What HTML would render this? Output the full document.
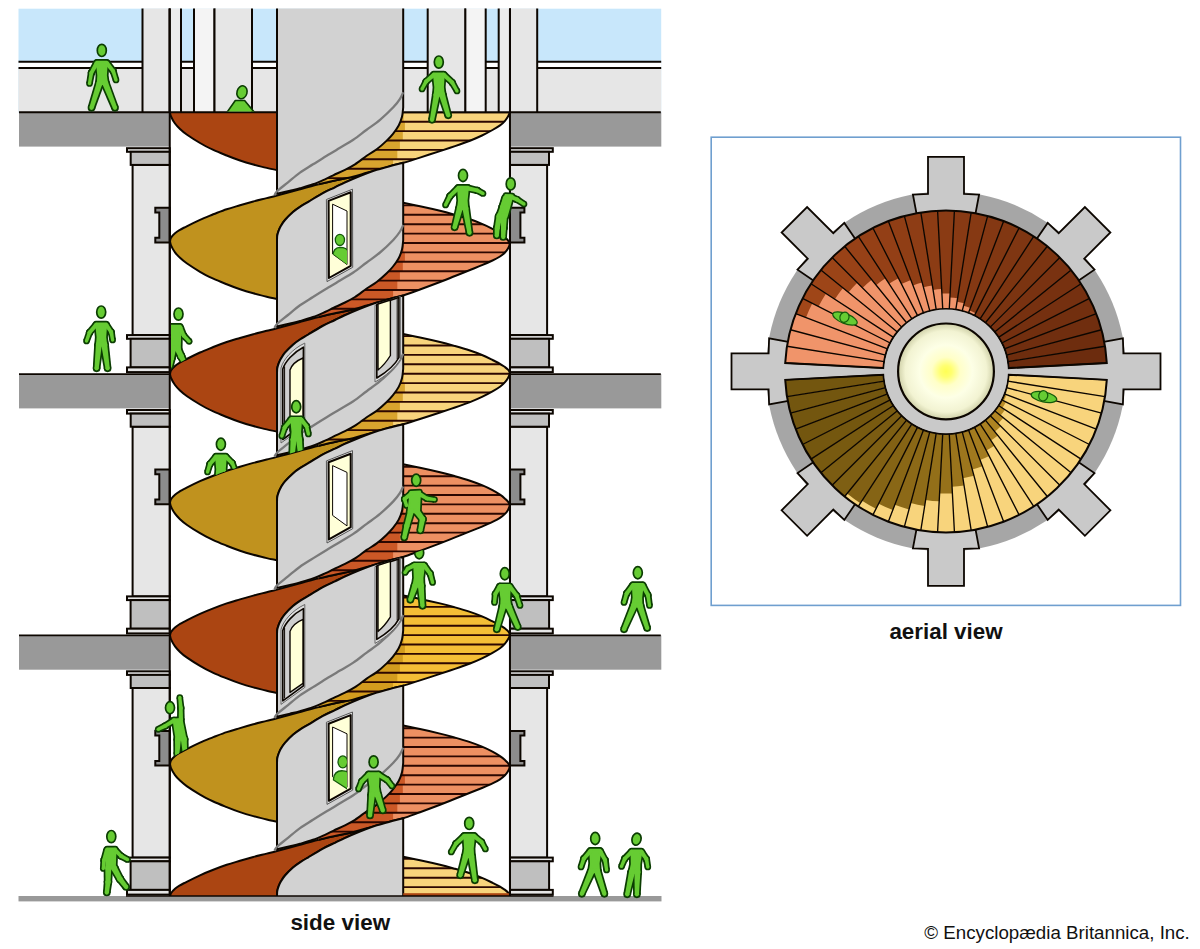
<!DOCTYPE html>
<html><head><meta charset="utf-8"><title>Double helix ramp</title><style>html,body{margin:0;padding:0;background:#fff}svg{display:block}</style></head><body>
<svg width="1200" height="949" viewBox="0 0 1200 949">
<defs>
<clipPath id="sv"><rect x="18" y="112.5" width="645" height="783.5"/></clipPath>
<radialGradient id="glow" cx="50%" cy="50%" r="50%"><stop offset="0" stop-color="#ffff55"/><stop offset="0.12" stop-color="#ffff70"/><stop offset="0.3" stop-color="#ffffc8"/><stop offset="0.55" stop-color="#fdffe6"/><stop offset="0.85" stop-color="#f2f3d2"/><stop offset="1" stop-color="#cfd0a8"/></radialGradient>
</defs>
<rect width="1200" height="949" fill="#fff"/>
<rect x="18.5" y="8.7" width="642.7" height="104" fill="#c8e7fb"/>
<rect x="18.5" y="68" width="642.7" height="44.5" fill="#e6e6e6"/>
<rect x="18.5" y="61.8" width="642.7" height="6.2" fill="#fff"/>
<path d="M18.5,61.8H661.2M18.5,68H661.2" stroke="#0c0600" stroke-width="2" fill="none"/>
<rect x="142.5" y="8.5" width="27.2" height="104" fill="#e6e6e6"/>
<path d="M142.5,8.5V112.5M169.7,8.5V112.5" stroke="#0c0600" stroke-width="2" fill="none"/>
<rect x="510.0" y="8.5" width="27.2" height="104" fill="#e6e6e6"/>
<path d="M510.0,8.5V112.5M537.2,8.5V112.5" stroke="#0c0600" stroke-width="2" fill="none"/>
<rect x="169.7" y="8.5" width="11.3" height="104" fill="#ececec"/>
<path d="M169.7,8.5V112.5M181.0,8.5V112.5" stroke="#0c0600" stroke-width="2" fill="none"/>
<rect x="498.7" y="8.5" width="11.3" height="104" fill="#ececec"/>
<path d="M498.7,8.5V112.5M510.0,8.5V112.5" stroke="#0c0600" stroke-width="2" fill="none"/>
<rect x="194.0" y="8.5" width="20.5" height="104" fill="#f4f4f4"/>
<path d="M194.0,8.5V112.5M214.5,8.5V112.5" stroke="#0c0600" stroke-width="2" fill="none"/>
<rect x="465.2" y="8.5" width="20.5" height="104" fill="#f4f4f4"/>
<path d="M465.2,8.5V112.5M485.7,8.5V112.5" stroke="#0c0600" stroke-width="2" fill="none"/>
<rect x="214.5" y="8.5" width="37.5" height="104" fill="#e6e6e6"/>
<path d="M214.5,8.5V112.5M252.0,8.5V112.5" stroke="#0c0600" stroke-width="2" fill="none"/>
<rect x="427.7" y="8.5" width="37.5" height="104" fill="#e6e6e6"/>
<path d="M427.7,8.5V112.5M465.2,8.5V112.5" stroke="#0c0600" stroke-width="2" fill="none"/>
<g clip-path="url(#sv)">
<path d="M170.0,112.5 C170.2,111.9 170.2,110.3 171.0,109.0 C171.8,107.7 173.5,105.8 175.0,104.5 C176.5,103.2 178.1,102.2 180.0,101.0 C181.9,99.8 183.4,99.2 186.7,97.5 C190.0,95.8 195.6,93.0 200.0,91.0 C204.4,89.0 208.9,87.2 213.3,85.5 C217.8,83.8 222.2,82.0 226.7,80.5 C231.1,79.0 235.6,77.8 240.0,76.5 C244.4,75.2 248.9,73.9 253.3,72.7 C257.8,71.5 262.8,70.3 266.7,69.3 C270.6,68.3 271.4,68.2 277.0,66.7 C282.6,65.2 293.1,62.4 300.0,60.5 C306.9,58.6 312.7,57.0 318.7,55.5 C324.7,54.0 330.3,52.8 336.0,51.5 C341.7,50.2 350.2,48.6 353.0,48.0 L359.3,47.5 C356.8,48.6 348.2,52.2 344.2,54.0 C340.1,55.8 338.6,56.8 335.0,58.5 C331.4,60.2 326.9,62.1 322.5,64.5 C318.1,66.9 312.1,70.8 308.4,73.0 C304.6,75.2 302.6,76.3 300.0,78.0 C297.4,79.7 295.5,81.0 293.0,83.2 C290.5,85.4 287.0,88.9 285.0,91.2 C283.0,93.5 282.1,95.2 281.0,97.0 C279.9,98.8 279.3,100.3 278.7,101.9 C278.1,103.5 277.6,105.0 277.3,106.5 C277.0,108.0 277.1,110.4 277.0,111.2 L277.0,170.1 L277.0,170.1 C275.3,169.7 270.6,168.8 266.7,167.9 C262.8,167.0 257.8,165.7 253.3,164.5 C248.9,163.3 244.4,162.0 240.0,160.5 C235.6,159.0 231.1,157.3 226.7,155.5 C222.2,153.7 217.8,152.0 213.3,149.9 C208.9,147.8 204.4,145.6 200.0,143.0 C195.6,140.4 190.0,136.8 186.7,134.5 C183.4,132.2 181.9,130.8 180.0,129.0 C178.1,127.2 176.5,125.6 175.0,123.5 C173.5,121.4 171.8,118.3 171.0,116.5 C170.2,114.7 170.2,113.2 170.0,112.5Z" fill="#ab4512" stroke="#0c0600" stroke-width="2" stroke-linejoin="round"/>
<clipPath id="cred112"><path d="M403.2,-58.7 C406.0,-58.1 413.9,-56.5 420.0,-55.2 C426.1,-53.9 434.2,-52.1 440.0,-50.7 C445.8,-49.3 450.0,-48.1 455.0,-46.7 C460.0,-45.3 465.5,-43.7 470.0,-42.2 C474.5,-40.7 478.2,-39.3 482.0,-37.7 C485.8,-36.1 489.5,-34.3 492.5,-32.7 C495.5,-31.1 497.9,-29.6 500.0,-28.2 C502.1,-26.8 503.7,-25.4 505.0,-24.2 C506.3,-23.0 507.2,-22.2 508.0,-21.2 C508.8,-20.2 509.5,-18.7 509.8,-18.2 L509.8,-18.5 C509.7,-18.1 509.7,-16.9 509.4,-16.0 C509.1,-15.1 508.7,-14.2 508.0,-13.0 C507.3,-11.8 506.3,-10.3 505.0,-9.0 C503.7,-7.7 502.1,-6.3 500.0,-5.0 C497.9,-3.7 495.5,-2.5 492.5,-1.0 C489.5,0.5 485.8,2.1 482.0,3.7 C478.2,5.3 474.5,6.7 470.0,8.5 C465.5,10.3 460.0,12.5 455.0,14.5 C450.0,16.5 445.8,18.2 440.0,20.5 C434.2,22.8 426.1,25.8 420.0,28.0 C413.9,30.2 407.8,32.6 403.2,34.0 C398.8,35.4 396.9,35.4 393.0,36.5 C389.1,37.6 384.4,39.2 380.0,40.5 C375.6,41.8 371.2,42.8 366.7,44.0 C362.2,45.2 358.1,46.8 353.0,48.0 C347.9,49.2 341.7,50.2 336.0,51.5 C330.3,52.8 321.6,54.8 318.7,55.5 L318.7,-58.7 L403.25,-58.7 Z"/></clipPath>
<path d="M403.2,-58.7 C406.0,-58.1 413.9,-56.5 420.0,-55.2 C426.1,-53.9 434.2,-52.1 440.0,-50.7 C445.8,-49.3 450.0,-48.1 455.0,-46.7 C460.0,-45.3 465.5,-43.7 470.0,-42.2 C474.5,-40.7 478.2,-39.3 482.0,-37.7 C485.8,-36.1 489.5,-34.3 492.5,-32.7 C495.5,-31.1 497.9,-29.6 500.0,-28.2 C502.1,-26.8 503.7,-25.4 505.0,-24.2 C506.3,-23.0 507.2,-22.2 508.0,-21.2 C508.8,-20.2 509.5,-18.7 509.8,-18.2 L509.8,-18.5 C509.7,-18.1 509.7,-16.9 509.4,-16.0 C509.1,-15.1 508.7,-14.2 508.0,-13.0 C507.3,-11.8 506.3,-10.3 505.0,-9.0 C503.7,-7.7 502.1,-6.3 500.0,-5.0 C497.9,-3.7 495.5,-2.5 492.5,-1.0 C489.5,0.5 485.8,2.1 482.0,3.7 C478.2,5.3 474.5,6.7 470.0,8.5 C465.5,10.3 460.0,12.5 455.0,14.5 C450.0,16.5 445.8,18.2 440.0,20.5 C434.2,22.8 426.1,25.8 420.0,28.0 C413.9,30.2 407.8,32.6 403.2,34.0 C398.8,35.4 396.9,35.4 393.0,36.5 C389.1,37.6 384.4,39.2 380.0,40.5 C375.6,41.8 371.2,42.8 366.7,44.0 C362.2,45.2 358.1,46.8 353.0,48.0 C347.9,49.2 341.7,50.2 336.0,51.5 C330.3,52.8 321.6,54.8 318.7,55.5 L318.7,-58.7 L403.25,-58.7 Z" fill="#ed9062"/>
<g clip-path="url(#cred112)">
<rect x="300" y="-65.5" width="103.6" height="9.5" fill="#cb5826"/>
<rect x="300" y="-56.1" width="103.6" height="9.5" fill="#cb5826"/>
<rect x="300" y="-46.7" width="103.6" height="9.5" fill="#cb5826"/>
<rect x="300" y="-37.3" width="103.6" height="9.5" fill="#cb5826"/>
<rect x="300" y="-27.9" width="103.6" height="9.5" fill="#cb5826"/>
<rect x="300" y="-18.5" width="103.6" height="9.5" fill="#cb5826"/>
<rect x="300" y="-9.1" width="104.9" height="9.5" fill="#cb5826"/>
<rect x="300" y="0.3" width="102.8" height="9.5" fill="#cb5826"/>
<rect x="300" y="9.7" width="99.9" height="9.5" fill="#cb5826"/>
<rect x="300" y="19.1" width="97.3" height="9.5" fill="#cb5826"/>
<rect x="300" y="28.5" width="93.1" height="9.5" fill="#cb5826"/>
<rect x="300" y="37.9" width="88.5" height="9.5" fill="#cb5826"/>
<rect x="300" y="47.3" width="83.0" height="9.5" fill="#cb5826"/>
<rect x="300" y="56.7" width="78.0" height="9.5" fill="#cb5826"/>
<path d="M300,-65.5H512 M300,-56.1H512 M300,-46.7H512 M300,-37.3H512 M300,-27.9H512 M300,-18.5H512 M300,-9.1H512 M300,0.3H512 M300,9.7H512 M300,19.1H512 M300,28.5H512 M300,37.9H512 M300,47.3H512 M300,56.7H512" stroke="#2c0700" stroke-width="1.9" fill="none"/>
</g>
<path d="M403.2,-58.7 C406.0,-58.1 413.9,-56.5 420.0,-55.2 C426.1,-53.9 434.2,-52.1 440.0,-50.7 C445.8,-49.3 450.0,-48.1 455.0,-46.7 C460.0,-45.3 465.5,-43.7 470.0,-42.2 C474.5,-40.7 478.2,-39.3 482.0,-37.7 C485.8,-36.1 489.5,-34.3 492.5,-32.7 C495.5,-31.1 497.9,-29.6 500.0,-28.2 C502.1,-26.8 503.7,-25.4 505.0,-24.2 C506.3,-23.0 507.2,-22.2 508.0,-21.2 C508.8,-20.2 509.5,-18.7 509.8,-18.2 L509.8,-18.5 C509.7,-18.1 509.7,-16.9 509.4,-16.0 C509.1,-15.1 508.7,-14.2 508.0,-13.0 C507.3,-11.8 506.3,-10.3 505.0,-9.0 C503.7,-7.7 502.1,-6.3 500.0,-5.0 C497.9,-3.7 495.5,-2.5 492.5,-1.0 C489.5,0.5 485.8,2.1 482.0,3.7 C478.2,5.3 474.5,6.7 470.0,8.5 C465.5,10.3 460.0,12.5 455.0,14.5 C450.0,16.5 445.8,18.2 440.0,20.5 C434.2,22.8 426.1,25.8 420.0,28.0 C413.9,30.2 407.8,32.6 403.2,34.0 C398.8,35.4 396.9,35.4 393.0,36.5 C389.1,37.6 384.4,39.2 380.0,40.5 C375.6,41.8 371.2,42.8 366.7,44.0 C362.2,45.2 358.1,46.8 353.0,48.0 C347.9,49.2 341.7,50.2 336.0,51.5 C330.3,52.8 321.6,54.8 318.7,55.5" fill="none" stroke="#0c0600" stroke-width="2" stroke-linejoin="round"/>
<path d="M170.0,241.3 C170.2,240.7 170.2,239.1 171.0,237.8 C171.8,236.5 173.5,234.6 175.0,233.3 C176.5,232.0 178.1,231.0 180.0,229.8 C181.9,228.6 183.4,228.0 186.7,226.3 C190.0,224.6 195.6,221.8 200.0,219.8 C204.4,217.8 208.9,216.1 213.3,214.3 C217.8,212.6 222.2,210.8 226.7,209.3 C231.1,207.8 235.6,206.6 240.0,205.3 C244.4,204.0 248.9,202.7 253.3,201.5 C257.8,200.3 262.8,199.1 266.7,198.1 C270.6,197.1 271.4,197.0 277.0,195.5 C282.6,194.0 293.1,191.2 300.0,189.3 C306.9,187.4 312.7,185.8 318.7,184.3 C324.7,182.8 330.3,181.6 336.0,180.3 C341.7,179.1 350.2,177.4 353.0,176.8 L359.3,176.3 C356.8,177.4 348.2,181.0 344.2,182.8 C340.1,184.6 338.6,185.6 335.0,187.3 C331.4,189.1 326.9,190.9 322.5,193.3 C318.1,195.7 312.1,199.6 308.4,201.8 C304.6,204.1 302.6,205.1 300.0,206.8 C297.4,208.5 295.5,209.8 293.0,212.0 C290.5,214.2 287.0,217.7 285.0,220.0 C283.0,222.3 282.1,224.0 281.0,225.8 C279.9,227.6 279.3,229.1 278.7,230.7 C278.1,232.3 277.6,233.8 277.3,235.3 C277.0,236.9 277.1,239.2 277.0,240.0 L277.0,298.9 L277.0,298.9 C275.3,298.5 270.6,297.6 266.7,296.7 C262.8,295.8 257.8,294.5 253.3,293.3 C248.9,292.1 244.4,290.8 240.0,289.3 C235.6,287.8 231.1,286.1 226.7,284.3 C222.2,282.5 217.8,280.8 213.3,278.7 C208.9,276.6 204.4,274.4 200.0,271.8 C195.6,269.2 190.0,265.6 186.7,263.3 C183.4,261.0 181.9,259.6 180.0,257.8 C178.1,256.0 176.5,254.4 175.0,252.3 C173.5,250.2 171.8,247.1 171.0,245.3 C170.2,243.5 170.2,242.0 170.0,241.3Z" fill="#c0921e" stroke="#0c0600" stroke-width="2" stroke-linejoin="round"/>
<clipPath id="cgold241"><path d="M403.2,72.6 C406.0,73.2 413.9,74.8 420.0,76.1 C426.1,77.4 434.2,79.2 440.0,80.6 C445.8,82.0 450.0,83.2 455.0,84.6 C460.0,86.0 465.5,87.6 470.0,89.1 C474.5,90.6 478.2,92.0 482.0,93.6 C485.8,95.2 489.5,97.1 492.5,98.6 C495.5,100.1 497.9,101.2 500.0,102.4 C502.1,103.6 503.7,104.8 505.0,105.7 C506.3,106.7 507.2,107.4 508.0,108.3 C508.8,109.2 509.5,110.6 509.8,111.1 L509.8,110.8 C509.7,111.2 509.7,112.4 509.4,113.4 C509.1,114.3 508.7,115.3 508.0,116.5 C507.3,117.7 506.3,119.3 505.0,120.8 C503.7,122.3 502.1,123.9 500.0,125.4 C497.9,126.9 495.5,128.3 492.5,130.0 C489.5,131.7 485.8,133.7 482.0,135.5 C478.2,137.3 474.5,138.9 470.0,140.7 C465.5,142.5 460.0,144.4 455.0,146.1 C450.0,147.8 445.8,149.2 440.0,151.1 C434.2,153.0 426.1,155.6 420.0,157.6 C413.9,159.6 407.8,161.5 403.2,162.8 C398.8,164.1 396.9,164.2 393.0,165.3 C389.1,166.4 384.4,168.1 380.0,169.3 C375.6,170.6 371.2,171.6 366.7,172.8 C362.2,174.1 358.1,175.6 353.0,176.8 C347.9,178.1 341.7,179.1 336.0,180.3 C330.3,181.6 321.6,183.6 318.7,184.3 L318.7,70.1 L403.25,70.1 Z"/></clipPath>
<path d="M403.2,72.6 C406.0,73.2 413.9,74.8 420.0,76.1 C426.1,77.4 434.2,79.2 440.0,80.6 C445.8,82.0 450.0,83.2 455.0,84.6 C460.0,86.0 465.5,87.6 470.0,89.1 C474.5,90.6 478.2,92.0 482.0,93.6 C485.8,95.2 489.5,97.1 492.5,98.6 C495.5,100.1 497.9,101.2 500.0,102.4 C502.1,103.6 503.7,104.8 505.0,105.7 C506.3,106.7 507.2,107.4 508.0,108.3 C508.8,109.2 509.5,110.6 509.8,111.1 L509.8,110.8 C509.7,111.2 509.7,112.4 509.4,113.4 C509.1,114.3 508.7,115.3 508.0,116.5 C507.3,117.7 506.3,119.3 505.0,120.8 C503.7,122.3 502.1,123.9 500.0,125.4 C497.9,126.9 495.5,128.3 492.5,130.0 C489.5,131.7 485.8,133.7 482.0,135.5 C478.2,137.3 474.5,138.9 470.0,140.7 C465.5,142.5 460.0,144.4 455.0,146.1 C450.0,147.8 445.8,149.2 440.0,151.1 C434.2,153.0 426.1,155.6 420.0,157.6 C413.9,159.6 407.8,161.5 403.2,162.8 C398.8,164.1 396.9,164.2 393.0,165.3 C389.1,166.4 384.4,168.1 380.0,169.3 C375.6,170.6 371.2,171.6 366.7,172.8 C362.2,174.1 358.1,175.6 353.0,176.8 C347.9,178.1 341.7,179.1 336.0,180.3 C330.3,181.6 321.6,183.6 318.7,184.3 L318.7,70.1 L403.25,70.1 Z" fill="#f8d47c"/>
<g clip-path="url(#cgold241)">
<rect x="300" y="65.3" width="103.6" height="9.5" fill="#d8a42e"/>
<rect x="300" y="74.7" width="103.6" height="9.5" fill="#d8a42e"/>
<rect x="300" y="84.1" width="103.6" height="9.5" fill="#d8a42e"/>
<rect x="300" y="93.5" width="103.6" height="9.5" fill="#d8a42e"/>
<rect x="300" y="102.9" width="103.6" height="9.5" fill="#d8a42e"/>
<rect x="300" y="112.3" width="103.6" height="9.5" fill="#d8a42e"/>
<rect x="300" y="121.7" width="104.9" height="9.5" fill="#d8a42e"/>
<rect x="300" y="131.1" width="102.8" height="9.5" fill="#d8a42e"/>
<rect x="300" y="140.5" width="99.9" height="9.5" fill="#d8a42e"/>
<rect x="300" y="149.9" width="97.3" height="9.5" fill="#d8a42e"/>
<rect x="300" y="159.3" width="93.1" height="9.5" fill="#d8a42e"/>
<rect x="300" y="168.7" width="88.5" height="9.5" fill="#d8a42e"/>
<rect x="300" y="178.1" width="83.0" height="9.5" fill="#d8a42e"/>
<rect x="300" y="187.5" width="78.0" height="9.5" fill="#d8a42e"/>
<path d="M300,65.3H512 M300,74.7H512 M300,84.1H512 M300,93.5H512 M300,102.9H512 M300,112.3H512 M300,121.7H512 M300,131.1H512 M300,140.5H512 M300,149.9H512 M300,159.3H512 M300,168.7H512 M300,178.1H512 M300,187.5H512" stroke="#2c0700" stroke-width="1.9" fill="none"/>
</g>
<path d="M403.2,72.6 C406.0,73.2 413.9,74.8 420.0,76.1 C426.1,77.4 434.2,79.2 440.0,80.6 C445.8,82.0 450.0,83.2 455.0,84.6 C460.0,86.0 465.5,87.6 470.0,89.1 C474.5,90.6 478.2,92.0 482.0,93.6 C485.8,95.2 489.5,97.1 492.5,98.6 C495.5,100.1 497.9,101.2 500.0,102.4 C502.1,103.6 503.7,104.8 505.0,105.7 C506.3,106.7 507.2,107.4 508.0,108.3 C508.8,109.2 509.5,110.6 509.8,111.1 L509.8,110.8 C509.7,111.2 509.7,112.4 509.4,113.4 C509.1,114.3 508.7,115.3 508.0,116.5 C507.3,117.7 506.3,119.3 505.0,120.8 C503.7,122.3 502.1,123.9 500.0,125.4 C497.9,126.9 495.5,128.3 492.5,130.0 C489.5,131.7 485.8,133.7 482.0,135.5 C478.2,137.3 474.5,138.9 470.0,140.7 C465.5,142.5 460.0,144.4 455.0,146.1 C450.0,147.8 445.8,149.2 440.0,151.1 C434.2,153.0 426.1,155.6 420.0,157.6 C413.9,159.6 407.8,161.5 403.2,162.8 C398.8,164.1 396.9,164.2 393.0,165.3 C389.1,166.4 384.4,168.1 380.0,169.3 C375.6,170.6 371.2,171.6 366.7,172.8 C362.2,174.1 358.1,175.6 353.0,176.8 C347.9,178.1 341.7,179.1 336.0,180.3 C330.3,181.6 321.6,183.6 318.7,184.3" fill="none" stroke="#0c0600" stroke-width="2" stroke-linejoin="round"/>
<path d="M170.0,374.0 C170.2,373.4 170.2,371.8 171.0,370.5 C171.8,369.2 173.5,367.3 175.0,366.0 C176.5,364.7 178.1,363.7 180.0,362.5 C181.9,361.3 183.4,360.7 186.7,359.0 C190.0,357.3 195.6,354.5 200.0,352.5 C204.4,350.5 208.9,348.8 213.3,347.0 C217.8,345.2 222.2,343.5 226.7,342.0 C231.1,340.5 235.6,339.3 240.0,338.0 C244.4,336.7 248.9,335.4 253.3,334.2 C257.8,333.0 262.8,331.8 266.7,330.8 C270.6,329.8 271.4,329.7 277.0,328.2 C282.6,326.7 293.1,323.9 300.0,322.0 C306.9,320.1 312.7,318.5 318.7,317.0 C324.7,315.5 330.3,314.2 336.0,313.0 C341.7,311.8 350.2,310.1 353.0,309.5 L359.3,309.0 C356.8,310.1 348.2,313.7 344.2,315.5 C340.1,317.3 338.6,318.2 335.0,320.0 C331.4,321.8 326.9,323.6 322.5,326.0 C318.1,328.4 312.1,332.2 308.4,334.5 C304.6,336.8 302.6,337.8 300.0,339.5 C297.4,341.2 295.5,342.5 293.0,344.7 C290.5,346.9 287.0,350.4 285.0,352.7 C283.0,355.0 282.1,356.7 281.0,358.5 C279.9,360.3 279.3,361.8 278.7,363.4 C278.1,365.0 277.6,366.4 277.3,368.0 C277.0,369.6 277.1,371.9 277.0,372.7 L277.0,431.6 L277.0,431.6 C275.3,431.2 270.6,430.3 266.7,429.4 C262.8,428.5 257.8,427.2 253.3,426.0 C248.9,424.8 244.4,423.5 240.0,422.0 C235.6,420.5 231.1,418.8 226.7,417.0 C222.2,415.2 217.8,413.5 213.3,411.4 C208.9,409.3 204.4,407.1 200.0,404.5 C195.6,401.9 190.0,398.3 186.7,396.0 C183.4,393.7 181.9,392.3 180.0,390.5 C178.1,388.7 176.5,387.1 175.0,385.0 C173.5,382.9 171.8,379.8 171.0,378.0 C170.2,376.2 170.2,374.7 170.0,374.0Z" fill="#ab4512" stroke="#0c0600" stroke-width="2" stroke-linejoin="round"/>
<clipPath id="cred374"><path d="M403.2,202.8 C406.0,203.4 413.9,205.0 420.0,206.3 C426.1,207.6 434.2,209.4 440.0,210.8 C445.8,212.2 450.0,213.4 455.0,214.8 C460.0,216.2 465.5,217.8 470.0,219.3 C474.5,220.8 478.2,222.2 482.0,223.8 C485.8,225.4 489.5,227.2 492.5,228.8 C495.5,230.4 497.9,231.9 500.0,233.3 C502.1,234.7 503.7,236.1 505.0,237.3 C506.3,238.5 507.2,239.3 508.0,240.3 C508.8,241.3 509.5,242.8 509.8,243.3 L509.8,243.0 C509.7,243.4 509.7,244.6 509.4,245.5 C509.1,246.4 508.7,247.3 508.0,248.5 C507.3,249.7 506.3,251.2 505.0,252.5 C503.7,253.8 502.1,255.2 500.0,256.5 C497.9,257.8 495.5,259.1 492.5,260.5 C489.5,261.9 485.8,263.6 482.0,265.2 C478.2,266.8 474.5,268.2 470.0,270.0 C465.5,271.8 460.0,274.0 455.0,276.0 C450.0,278.0 445.8,279.8 440.0,282.0 C434.2,284.2 426.1,287.2 420.0,289.5 C413.9,291.8 407.8,294.1 403.2,295.5 C398.8,296.9 396.9,296.9 393.0,298.0 C389.1,299.1 384.4,300.8 380.0,302.0 C375.6,303.2 371.2,304.2 366.7,305.5 C362.2,306.8 358.1,308.2 353.0,309.5 C347.9,310.8 341.7,311.8 336.0,313.0 C330.3,314.2 321.6,316.3 318.7,317.0 L318.7,202.8 L403.25,202.8 Z"/></clipPath>
<path d="M403.2,202.8 C406.0,203.4 413.9,205.0 420.0,206.3 C426.1,207.6 434.2,209.4 440.0,210.8 C445.8,212.2 450.0,213.4 455.0,214.8 C460.0,216.2 465.5,217.8 470.0,219.3 C474.5,220.8 478.2,222.2 482.0,223.8 C485.8,225.4 489.5,227.2 492.5,228.8 C495.5,230.4 497.9,231.9 500.0,233.3 C502.1,234.7 503.7,236.1 505.0,237.3 C506.3,238.5 507.2,239.3 508.0,240.3 C508.8,241.3 509.5,242.8 509.8,243.3 L509.8,243.0 C509.7,243.4 509.7,244.6 509.4,245.5 C509.1,246.4 508.7,247.3 508.0,248.5 C507.3,249.7 506.3,251.2 505.0,252.5 C503.7,253.8 502.1,255.2 500.0,256.5 C497.9,257.8 495.5,259.1 492.5,260.5 C489.5,261.9 485.8,263.6 482.0,265.2 C478.2,266.8 474.5,268.2 470.0,270.0 C465.5,271.8 460.0,274.0 455.0,276.0 C450.0,278.0 445.8,279.8 440.0,282.0 C434.2,284.2 426.1,287.2 420.0,289.5 C413.9,291.8 407.8,294.1 403.2,295.5 C398.8,296.9 396.9,296.9 393.0,298.0 C389.1,299.1 384.4,300.8 380.0,302.0 C375.6,303.2 371.2,304.2 366.7,305.5 C362.2,306.8 358.1,308.2 353.0,309.5 C347.9,310.8 341.7,311.8 336.0,313.0 C330.3,314.2 321.6,316.3 318.7,317.0 L318.7,202.8 L403.25,202.8 Z" fill="#ed9062"/>
<g clip-path="url(#cred374)">
<rect x="300" y="196.0" width="103.6" height="9.5" fill="#cb5826"/>
<rect x="300" y="205.4" width="103.6" height="9.5" fill="#cb5826"/>
<rect x="300" y="214.8" width="103.6" height="9.5" fill="#cb5826"/>
<rect x="300" y="224.2" width="103.6" height="9.5" fill="#cb5826"/>
<rect x="300" y="233.6" width="103.6" height="9.5" fill="#cb5826"/>
<rect x="300" y="243.0" width="103.6" height="9.5" fill="#cb5826"/>
<rect x="300" y="252.4" width="104.9" height="9.5" fill="#cb5826"/>
<rect x="300" y="261.8" width="102.8" height="9.5" fill="#cb5826"/>
<rect x="300" y="271.2" width="99.9" height="9.5" fill="#cb5826"/>
<rect x="300" y="280.6" width="97.3" height="9.5" fill="#cb5826"/>
<rect x="300" y="290.0" width="93.1" height="9.5" fill="#cb5826"/>
<rect x="300" y="299.4" width="88.5" height="9.5" fill="#cb5826"/>
<rect x="300" y="308.8" width="83.0" height="9.5" fill="#cb5826"/>
<rect x="300" y="318.2" width="78.0" height="9.5" fill="#cb5826"/>
<path d="M300,196.0H512 M300,205.4H512 M300,214.8H512 M300,224.2H512 M300,233.6H512 M300,243.0H512 M300,252.4H512 M300,261.8H512 M300,271.2H512 M300,280.6H512 M300,290.0H512 M300,299.4H512 M300,308.8H512 M300,318.2H512" stroke="#2c0700" stroke-width="1.9" fill="none"/>
</g>
<path d="M403.2,202.8 C406.0,203.4 413.9,205.0 420.0,206.3 C426.1,207.6 434.2,209.4 440.0,210.8 C445.8,212.2 450.0,213.4 455.0,214.8 C460.0,216.2 465.5,217.8 470.0,219.3 C474.5,220.8 478.2,222.2 482.0,223.8 C485.8,225.4 489.5,227.2 492.5,228.8 C495.5,230.4 497.9,231.9 500.0,233.3 C502.1,234.7 503.7,236.1 505.0,237.3 C506.3,238.5 507.2,239.3 508.0,240.3 C508.8,241.3 509.5,242.8 509.8,243.3 L509.8,243.0 C509.7,243.4 509.7,244.6 509.4,245.5 C509.1,246.4 508.7,247.3 508.0,248.5 C507.3,249.7 506.3,251.2 505.0,252.5 C503.7,253.8 502.1,255.2 500.0,256.5 C497.9,257.8 495.5,259.1 492.5,260.5 C489.5,261.9 485.8,263.6 482.0,265.2 C478.2,266.8 474.5,268.2 470.0,270.0 C465.5,271.8 460.0,274.0 455.0,276.0 C450.0,278.0 445.8,279.8 440.0,282.0 C434.2,284.2 426.1,287.2 420.0,289.5 C413.9,291.8 407.8,294.1 403.2,295.5 C398.8,296.9 396.9,296.9 393.0,298.0 C389.1,299.1 384.4,300.8 380.0,302.0 C375.6,303.2 371.2,304.2 366.7,305.5 C362.2,306.8 358.1,308.2 353.0,309.5 C347.9,310.8 341.7,311.8 336.0,313.0 C330.3,314.2 321.6,316.3 318.7,317.0" fill="none" stroke="#0c0600" stroke-width="2" stroke-linejoin="round"/>
<path d="M170.0,502.7 C170.2,502.1 170.2,500.5 171.0,499.2 C171.8,497.9 173.5,496.0 175.0,494.7 C176.5,493.4 178.1,492.4 180.0,491.2 C181.9,490.0 183.4,489.4 186.7,487.7 C190.0,486.0 195.6,483.2 200.0,481.2 C204.4,479.2 208.9,477.4 213.3,475.7 C217.8,473.9 222.2,472.2 226.7,470.7 C231.1,469.2 235.6,468.0 240.0,466.7 C244.4,465.4 248.9,464.1 253.3,462.9 C257.8,461.7 262.8,460.5 266.7,459.5 C270.6,458.5 271.4,458.4 277.0,456.9 C282.6,455.4 293.1,452.6 300.0,450.7 C306.9,448.8 312.7,447.2 318.7,445.7 C324.7,444.2 330.3,442.9 336.0,441.7 C341.7,440.4 350.2,438.8 353.0,438.2 L359.3,437.7 C356.8,438.8 348.2,442.4 344.2,444.2 C340.1,446.0 338.6,446.9 335.0,448.7 C331.4,450.4 326.9,452.3 322.5,454.7 C318.1,457.1 312.1,460.9 308.4,463.2 C304.6,465.4 302.6,466.5 300.0,468.2 C297.4,469.9 295.5,471.2 293.0,473.4 C290.5,475.6 287.0,479.1 285.0,481.4 C283.0,483.7 282.1,485.4 281.0,487.2 C279.9,489.0 279.3,490.5 278.7,492.1 C278.1,493.7 277.6,495.1 277.3,496.7 C277.0,498.2 277.1,500.6 277.0,501.4 L277.0,560.3 L277.0,560.3 C275.3,559.9 270.6,559.0 266.7,558.1 C262.8,557.2 257.8,555.9 253.3,554.7 C248.9,553.5 244.4,552.2 240.0,550.7 C235.6,549.2 231.1,547.5 226.7,545.7 C222.2,543.9 217.8,542.2 213.3,540.1 C208.9,538.0 204.4,535.8 200.0,533.2 C195.6,530.6 190.0,527.0 186.7,524.7 C183.4,522.4 181.9,521.0 180.0,519.2 C178.1,517.4 176.5,515.8 175.0,513.7 C173.5,511.6 171.8,508.5 171.0,506.7 C170.2,504.9 170.2,503.4 170.0,502.7Z" fill="#c0921e" stroke="#0c0600" stroke-width="2" stroke-linejoin="round"/>
<clipPath id="cgold502"><path d="M403.2,334.0 C406.0,334.6 413.9,336.2 420.0,337.5 C426.1,338.8 434.2,340.6 440.0,342.0 C445.8,343.4 450.0,344.6 455.0,346.0 C460.0,347.4 465.5,349.0 470.0,350.5 C474.5,352.0 478.2,353.4 482.0,355.0 C485.8,356.6 489.5,358.5 492.5,360.0 C495.5,361.5 497.9,362.6 500.0,363.8 C502.1,365.0 503.7,366.2 505.0,367.1 C506.3,368.1 507.2,368.8 508.0,369.7 C508.8,370.6 509.5,372.0 509.8,372.5 L509.8,372.2 C509.7,372.6 509.7,373.8 509.4,374.8 C509.1,375.7 508.7,376.7 508.0,377.9 C507.3,379.1 506.3,380.7 505.0,382.2 C503.7,383.7 502.1,385.3 500.0,386.8 C497.9,388.3 495.5,389.7 492.5,391.4 C489.5,393.1 485.8,395.1 482.0,396.9 C478.2,398.7 474.5,400.3 470.0,402.1 C465.5,403.9 460.0,405.8 455.0,407.5 C450.0,409.2 445.8,410.6 440.0,412.5 C434.2,414.4 426.1,417.0 420.0,419.0 C413.9,421.0 407.8,422.9 403.2,424.2 C398.8,425.5 396.9,425.6 393.0,426.7 C389.1,427.8 384.4,429.4 380.0,430.7 C375.6,431.9 371.2,432.9 366.7,434.2 C362.2,435.4 358.1,436.9 353.0,438.2 C347.9,439.4 341.7,440.4 336.0,441.7 C330.3,442.9 321.6,445.0 318.7,445.7 L318.7,331.5 L403.25,331.5 Z"/></clipPath>
<path d="M403.2,334.0 C406.0,334.6 413.9,336.2 420.0,337.5 C426.1,338.8 434.2,340.6 440.0,342.0 C445.8,343.4 450.0,344.6 455.0,346.0 C460.0,347.4 465.5,349.0 470.0,350.5 C474.5,352.0 478.2,353.4 482.0,355.0 C485.8,356.6 489.5,358.5 492.5,360.0 C495.5,361.5 497.9,362.6 500.0,363.8 C502.1,365.0 503.7,366.2 505.0,367.1 C506.3,368.1 507.2,368.8 508.0,369.7 C508.8,370.6 509.5,372.0 509.8,372.5 L509.8,372.2 C509.7,372.6 509.7,373.8 509.4,374.8 C509.1,375.7 508.7,376.7 508.0,377.9 C507.3,379.1 506.3,380.7 505.0,382.2 C503.7,383.7 502.1,385.3 500.0,386.8 C497.9,388.3 495.5,389.7 492.5,391.4 C489.5,393.1 485.8,395.1 482.0,396.9 C478.2,398.7 474.5,400.3 470.0,402.1 C465.5,403.9 460.0,405.8 455.0,407.5 C450.0,409.2 445.8,410.6 440.0,412.5 C434.2,414.4 426.1,417.0 420.0,419.0 C413.9,421.0 407.8,422.9 403.2,424.2 C398.8,425.5 396.9,425.6 393.0,426.7 C389.1,427.8 384.4,429.4 380.0,430.7 C375.6,431.9 371.2,432.9 366.7,434.2 C362.2,435.4 358.1,436.9 353.0,438.2 C347.9,439.4 341.7,440.4 336.0,441.7 C330.3,442.9 321.6,445.0 318.7,445.7 L318.7,331.5 L403.25,331.5 Z" fill="#f8d47c"/>
<g clip-path="url(#cgold502)">
<rect x="300" y="326.7" width="103.6" height="9.5" fill="#d8a42e"/>
<rect x="300" y="336.1" width="103.6" height="9.5" fill="#d8a42e"/>
<rect x="300" y="345.5" width="103.6" height="9.5" fill="#d8a42e"/>
<rect x="300" y="354.9" width="103.6" height="9.5" fill="#d8a42e"/>
<rect x="300" y="364.3" width="103.6" height="9.5" fill="#d8a42e"/>
<rect x="300" y="373.7" width="103.6" height="9.5" fill="#d8a42e"/>
<rect x="300" y="383.1" width="104.9" height="9.5" fill="#d8a42e"/>
<rect x="300" y="392.5" width="102.8" height="9.5" fill="#d8a42e"/>
<rect x="300" y="401.9" width="99.9" height="9.5" fill="#d8a42e"/>
<rect x="300" y="411.3" width="97.3" height="9.5" fill="#d8a42e"/>
<rect x="300" y="420.7" width="93.1" height="9.5" fill="#d8a42e"/>
<rect x="300" y="430.1" width="88.5" height="9.5" fill="#d8a42e"/>
<rect x="300" y="439.5" width="83.0" height="9.5" fill="#d8a42e"/>
<rect x="300" y="448.9" width="78.0" height="9.5" fill="#d8a42e"/>
<path d="M300,326.7H512 M300,336.1H512 M300,345.5H512 M300,354.9H512 M300,364.3H512 M300,373.7H512 M300,383.1H512 M300,392.5H512 M300,401.9H512 M300,411.3H512 M300,420.7H512 M300,430.1H512 M300,439.5H512 M300,448.9H512" stroke="#2c0700" stroke-width="1.9" fill="none"/>
</g>
<path d="M403.2,334.0 C406.0,334.6 413.9,336.2 420.0,337.5 C426.1,338.8 434.2,340.6 440.0,342.0 C445.8,343.4 450.0,344.6 455.0,346.0 C460.0,347.4 465.5,349.0 470.0,350.5 C474.5,352.0 478.2,353.4 482.0,355.0 C485.8,356.6 489.5,358.5 492.5,360.0 C495.5,361.5 497.9,362.6 500.0,363.8 C502.1,365.0 503.7,366.2 505.0,367.1 C506.3,368.1 507.2,368.8 508.0,369.7 C508.8,370.6 509.5,372.0 509.8,372.5 L509.8,372.2 C509.7,372.6 509.7,373.8 509.4,374.8 C509.1,375.7 508.7,376.7 508.0,377.9 C507.3,379.1 506.3,380.7 505.0,382.2 C503.7,383.7 502.1,385.3 500.0,386.8 C497.9,388.3 495.5,389.7 492.5,391.4 C489.5,393.1 485.8,395.1 482.0,396.9 C478.2,398.7 474.5,400.3 470.0,402.1 C465.5,403.9 460.0,405.8 455.0,407.5 C450.0,409.2 445.8,410.6 440.0,412.5 C434.2,414.4 426.1,417.0 420.0,419.0 C413.9,421.0 407.8,422.9 403.2,424.2 C398.8,425.5 396.9,425.6 393.0,426.7 C389.1,427.8 384.4,429.4 380.0,430.7 C375.6,431.9 371.2,432.9 366.7,434.2 C362.2,435.4 358.1,436.9 353.0,438.2 C347.9,439.4 341.7,440.4 336.0,441.7 C330.3,442.9 321.6,445.0 318.7,445.7" fill="none" stroke="#0c0600" stroke-width="2" stroke-linejoin="round"/>
<path d="M170.0,635.4 C170.2,634.8 170.2,633.2 171.0,631.9 C171.8,630.6 173.5,628.7 175.0,627.4 C176.5,626.1 178.1,625.1 180.0,623.9 C181.9,622.7 183.4,622.1 186.7,620.4 C190.0,618.7 195.6,615.9 200.0,613.9 C204.4,611.9 208.9,610.1 213.3,608.4 C217.8,606.6 222.2,604.9 226.7,603.4 C231.1,601.9 235.6,600.7 240.0,599.4 C244.4,598.1 248.9,596.8 253.3,595.6 C257.8,594.4 262.8,593.2 266.7,592.2 C270.6,591.2 271.4,591.1 277.0,589.6 C282.6,588.1 293.1,585.3 300.0,583.4 C306.9,581.5 312.7,579.9 318.7,578.4 C324.7,576.9 330.3,575.6 336.0,574.4 C341.7,573.1 350.2,571.5 353.0,570.9 L359.3,570.4 C356.8,571.5 348.2,575.1 344.2,576.9 C340.1,578.7 338.6,579.6 335.0,581.4 C331.4,583.1 326.9,585.0 322.5,587.4 C318.1,589.8 312.1,593.6 308.4,595.9 C304.6,598.1 302.6,599.2 300.0,600.9 C297.4,602.6 295.5,603.9 293.0,606.1 C290.5,608.3 287.0,611.8 285.0,614.1 C283.0,616.4 282.1,618.1 281.0,619.9 C279.9,621.7 279.3,623.2 278.7,624.8 C278.1,626.4 277.6,627.8 277.3,629.4 C277.0,631.0 277.1,633.3 277.0,634.1 L277.0,693.0 L277.0,693.0 C275.3,692.6 270.6,691.7 266.7,690.8 C262.8,689.9 257.8,688.6 253.3,687.4 C248.9,686.2 244.4,684.9 240.0,683.4 C235.6,681.9 231.1,680.2 226.7,678.4 C222.2,676.6 217.8,674.9 213.3,672.8 C208.9,670.7 204.4,668.5 200.0,665.9 C195.6,663.3 190.0,659.7 186.7,657.4 C183.4,655.1 181.9,653.7 180.0,651.9 C178.1,650.1 176.5,648.5 175.0,646.4 C173.5,644.3 171.8,641.2 171.0,639.4 C170.2,637.6 170.2,636.1 170.0,635.4Z" fill="#ab4512" stroke="#0c0600" stroke-width="2" stroke-linejoin="round"/>
<clipPath id="cred635"><path d="M403.2,464.2 C406.0,464.8 413.9,466.4 420.0,467.7 C426.1,469.0 434.2,470.8 440.0,472.2 C445.8,473.6 450.0,474.8 455.0,476.2 C460.0,477.6 465.5,479.2 470.0,480.7 C474.5,482.2 478.2,483.6 482.0,485.2 C485.8,486.8 489.5,488.6 492.5,490.2 C495.5,491.8 497.9,493.3 500.0,494.7 C502.1,496.1 503.7,497.5 505.0,498.7 C506.3,499.9 507.2,500.7 508.0,501.7 C508.8,502.7 509.5,504.2 509.8,504.7 L509.8,504.4 C509.7,504.8 509.7,506.0 509.4,506.9 C509.1,507.8 508.7,508.7 508.0,509.9 C507.3,511.1 506.3,512.6 505.0,513.9 C503.7,515.2 502.1,516.6 500.0,517.9 C497.9,519.2 495.5,520.4 492.5,521.9 C489.5,523.4 485.8,525.0 482.0,526.6 C478.2,528.2 474.5,529.6 470.0,531.4 C465.5,533.2 460.0,535.4 455.0,537.4 C450.0,539.4 445.8,541.1 440.0,543.4 C434.2,545.6 426.1,548.6 420.0,550.9 C413.9,553.1 407.8,555.5 403.2,556.9 C398.8,558.3 396.9,558.3 393.0,559.4 C389.1,560.5 384.4,562.1 380.0,563.4 C375.6,564.6 371.2,565.6 366.7,566.9 C362.2,568.1 358.1,569.6 353.0,570.9 C347.9,572.1 341.7,573.1 336.0,574.4 C330.3,575.6 321.6,577.7 318.7,578.4 L318.7,464.2 L403.25,464.2 Z"/></clipPath>
<path d="M403.2,464.2 C406.0,464.8 413.9,466.4 420.0,467.7 C426.1,469.0 434.2,470.8 440.0,472.2 C445.8,473.6 450.0,474.8 455.0,476.2 C460.0,477.6 465.5,479.2 470.0,480.7 C474.5,482.2 478.2,483.6 482.0,485.2 C485.8,486.8 489.5,488.6 492.5,490.2 C495.5,491.8 497.9,493.3 500.0,494.7 C502.1,496.1 503.7,497.5 505.0,498.7 C506.3,499.9 507.2,500.7 508.0,501.7 C508.8,502.7 509.5,504.2 509.8,504.7 L509.8,504.4 C509.7,504.8 509.7,506.0 509.4,506.9 C509.1,507.8 508.7,508.7 508.0,509.9 C507.3,511.1 506.3,512.6 505.0,513.9 C503.7,515.2 502.1,516.6 500.0,517.9 C497.9,519.2 495.5,520.4 492.5,521.9 C489.5,523.4 485.8,525.0 482.0,526.6 C478.2,528.2 474.5,529.6 470.0,531.4 C465.5,533.2 460.0,535.4 455.0,537.4 C450.0,539.4 445.8,541.1 440.0,543.4 C434.2,545.6 426.1,548.6 420.0,550.9 C413.9,553.1 407.8,555.5 403.2,556.9 C398.8,558.3 396.9,558.3 393.0,559.4 C389.1,560.5 384.4,562.1 380.0,563.4 C375.6,564.6 371.2,565.6 366.7,566.9 C362.2,568.1 358.1,569.6 353.0,570.9 C347.9,572.1 341.7,573.1 336.0,574.4 C330.3,575.6 321.6,577.7 318.7,578.4 L318.7,464.2 L403.25,464.2 Z" fill="#ed9062"/>
<g clip-path="url(#cred635)">
<rect x="300" y="457.4" width="103.6" height="9.5" fill="#cb5826"/>
<rect x="300" y="466.8" width="103.6" height="9.5" fill="#cb5826"/>
<rect x="300" y="476.2" width="103.6" height="9.5" fill="#cb5826"/>
<rect x="300" y="485.6" width="103.6" height="9.5" fill="#cb5826"/>
<rect x="300" y="495.0" width="103.6" height="9.5" fill="#cb5826"/>
<rect x="300" y="504.4" width="103.6" height="9.5" fill="#cb5826"/>
<rect x="300" y="513.8" width="104.9" height="9.5" fill="#cb5826"/>
<rect x="300" y="523.2" width="102.8" height="9.5" fill="#cb5826"/>
<rect x="300" y="532.6" width="99.9" height="9.5" fill="#cb5826"/>
<rect x="300" y="542.0" width="97.3" height="9.5" fill="#cb5826"/>
<rect x="300" y="551.4" width="93.1" height="9.5" fill="#cb5826"/>
<rect x="300" y="560.8" width="88.5" height="9.5" fill="#cb5826"/>
<rect x="300" y="570.2" width="83.0" height="9.5" fill="#cb5826"/>
<rect x="300" y="579.6" width="78.0" height="9.5" fill="#cb5826"/>
<path d="M300,457.4H512 M300,466.8H512 M300,476.2H512 M300,485.6H512 M300,495.0H512 M300,504.4H512 M300,513.8H512 M300,523.2H512 M300,532.6H512 M300,542.0H512 M300,551.4H512 M300,560.8H512 M300,570.2H512 M300,579.6H512" stroke="#2c0700" stroke-width="1.9" fill="none"/>
</g>
<path d="M403.2,464.2 C406.0,464.8 413.9,466.4 420.0,467.7 C426.1,469.0 434.2,470.8 440.0,472.2 C445.8,473.6 450.0,474.8 455.0,476.2 C460.0,477.6 465.5,479.2 470.0,480.7 C474.5,482.2 478.2,483.6 482.0,485.2 C485.8,486.8 489.5,488.6 492.5,490.2 C495.5,491.8 497.9,493.3 500.0,494.7 C502.1,496.1 503.7,497.5 505.0,498.7 C506.3,499.9 507.2,500.7 508.0,501.7 C508.8,502.7 509.5,504.2 509.8,504.7 L509.8,504.4 C509.7,504.8 509.7,506.0 509.4,506.9 C509.1,507.8 508.7,508.7 508.0,509.9 C507.3,511.1 506.3,512.6 505.0,513.9 C503.7,515.2 502.1,516.6 500.0,517.9 C497.9,519.2 495.5,520.4 492.5,521.9 C489.5,523.4 485.8,525.0 482.0,526.6 C478.2,528.2 474.5,529.6 470.0,531.4 C465.5,533.2 460.0,535.4 455.0,537.4 C450.0,539.4 445.8,541.1 440.0,543.4 C434.2,545.6 426.1,548.6 420.0,550.9 C413.9,553.1 407.8,555.5 403.2,556.9 C398.8,558.3 396.9,558.3 393.0,559.4 C389.1,560.5 384.4,562.1 380.0,563.4 C375.6,564.6 371.2,565.6 366.7,566.9 C362.2,568.1 358.1,569.6 353.0,570.9 C347.9,572.1 341.7,573.1 336.0,574.4 C330.3,575.6 321.6,577.7 318.7,578.4" fill="none" stroke="#0c0600" stroke-width="2" stroke-linejoin="round"/>
<path d="M170.0,764.1 C170.2,763.5 170.2,761.9 171.0,760.6 C171.8,759.3 173.5,757.4 175.0,756.1 C176.5,754.8 178.1,753.8 180.0,752.6 C181.9,751.4 183.4,750.8 186.7,749.1 C190.0,747.4 195.6,744.6 200.0,742.6 C204.4,740.6 208.9,738.9 213.3,737.1 C217.8,735.4 222.2,733.6 226.7,732.1 C231.1,730.6 235.6,729.4 240.0,728.1 C244.4,726.8 248.9,725.5 253.3,724.3 C257.8,723.1 262.8,721.9 266.7,720.9 C270.6,719.9 271.4,719.8 277.0,718.3 C282.6,716.8 293.1,714.0 300.0,712.1 C306.9,710.2 312.7,708.6 318.7,707.1 C324.7,705.6 330.3,704.4 336.0,703.1 C341.7,701.9 350.2,700.2 353.0,699.6 L359.3,699.1 C356.8,700.2 348.2,703.8 344.2,705.6 C340.1,707.4 338.6,708.4 335.0,710.1 C331.4,711.9 326.9,713.7 322.5,716.1 C318.1,718.5 312.1,722.4 308.4,724.6 C304.6,726.9 302.6,727.9 300.0,729.6 C297.4,731.3 295.5,732.6 293.0,734.8 C290.5,737.0 287.0,740.5 285.0,742.8 C283.0,745.1 282.1,746.8 281.0,748.6 C279.9,750.4 279.3,751.9 278.7,753.5 C278.1,755.1 277.6,756.5 277.3,758.1 C277.0,759.7 277.1,762.0 277.0,762.8 L277.0,821.7 L277.0,821.7 C275.3,821.3 270.6,820.4 266.7,819.5 C262.8,818.6 257.8,817.3 253.3,816.1 C248.9,814.9 244.4,813.6 240.0,812.1 C235.6,810.6 231.1,808.9 226.7,807.1 C222.2,805.3 217.8,803.6 213.3,801.5 C208.9,799.4 204.4,797.2 200.0,794.6 C195.6,792.0 190.0,788.4 186.7,786.1 C183.4,783.8 181.9,782.4 180.0,780.6 C178.1,778.8 176.5,777.2 175.0,775.1 C173.5,773.0 171.8,769.9 171.0,768.1 C170.2,766.3 170.2,764.8 170.0,764.1Z" fill="#c0921e" stroke="#0c0600" stroke-width="2" stroke-linejoin="round"/>
<clipPath id="cgold764"><path d="M403.2,595.4 C406.0,596.0 413.9,597.6 420.0,598.9 C426.1,600.2 434.2,602.0 440.0,603.4 C445.8,604.8 450.0,606.0 455.0,607.4 C460.0,608.8 465.5,610.4 470.0,611.9 C474.5,613.4 478.2,614.8 482.0,616.4 C485.8,618.0 489.5,619.9 492.5,621.4 C495.5,622.9 497.9,624.0 500.0,625.2 C502.1,626.4 503.7,627.6 505.0,628.5 C506.3,629.5 507.2,630.2 508.0,631.1 C508.8,632.0 509.5,633.4 509.8,633.9 L509.8,633.6 C509.7,634.0 509.7,635.2 509.4,636.2 C509.1,637.1 508.7,638.1 508.0,639.3 C507.3,640.5 506.3,642.1 505.0,643.6 C503.7,645.1 502.1,646.7 500.0,648.2 C497.9,649.7 495.5,651.1 492.5,652.8 C489.5,654.5 485.8,656.5 482.0,658.3 C478.2,660.1 474.5,661.7 470.0,663.5 C465.5,665.3 460.0,667.2 455.0,668.9 C450.0,670.6 445.8,672.0 440.0,673.9 C434.2,675.8 426.1,678.4 420.0,680.4 C413.9,682.4 407.8,684.3 403.2,685.6 C398.8,686.9 396.9,687.0 393.0,688.1 C389.1,689.2 384.4,690.9 380.0,692.1 C375.6,693.4 371.2,694.4 366.7,695.6 C362.2,696.9 358.1,698.4 353.0,699.6 C347.9,700.9 341.7,701.9 336.0,703.1 C330.3,704.4 321.6,706.4 318.7,707.1 L318.7,592.9 L403.25,592.9 Z"/></clipPath>
<path d="M403.2,595.4 C406.0,596.0 413.9,597.6 420.0,598.9 C426.1,600.2 434.2,602.0 440.0,603.4 C445.8,604.8 450.0,606.0 455.0,607.4 C460.0,608.8 465.5,610.4 470.0,611.9 C474.5,613.4 478.2,614.8 482.0,616.4 C485.8,618.0 489.5,619.9 492.5,621.4 C495.5,622.9 497.9,624.0 500.0,625.2 C502.1,626.4 503.7,627.6 505.0,628.5 C506.3,629.5 507.2,630.2 508.0,631.1 C508.8,632.0 509.5,633.4 509.8,633.9 L509.8,633.6 C509.7,634.0 509.7,635.2 509.4,636.2 C509.1,637.1 508.7,638.1 508.0,639.3 C507.3,640.5 506.3,642.1 505.0,643.6 C503.7,645.1 502.1,646.7 500.0,648.2 C497.9,649.7 495.5,651.1 492.5,652.8 C489.5,654.5 485.8,656.5 482.0,658.3 C478.2,660.1 474.5,661.7 470.0,663.5 C465.5,665.3 460.0,667.2 455.0,668.9 C450.0,670.6 445.8,672.0 440.0,673.9 C434.2,675.8 426.1,678.4 420.0,680.4 C413.9,682.4 407.8,684.3 403.2,685.6 C398.8,686.9 396.9,687.0 393.0,688.1 C389.1,689.2 384.4,690.9 380.0,692.1 C375.6,693.4 371.2,694.4 366.7,695.6 C362.2,696.9 358.1,698.4 353.0,699.6 C347.9,700.9 341.7,701.9 336.0,703.1 C330.3,704.4 321.6,706.4 318.7,707.1 L318.7,592.9 L403.25,592.9 Z" fill="#f4be36"/>
<g clip-path="url(#cgold764)">
<rect x="300" y="588.1" width="103.6" height="9.5" fill="#d39c1e"/>
<rect x="300" y="597.5" width="103.6" height="9.5" fill="#d39c1e"/>
<rect x="300" y="606.9" width="103.6" height="9.5" fill="#d39c1e"/>
<rect x="300" y="616.3" width="103.6" height="9.5" fill="#d39c1e"/>
<rect x="300" y="625.7" width="103.6" height="9.5" fill="#d39c1e"/>
<rect x="300" y="635.1" width="103.6" height="9.5" fill="#d39c1e"/>
<rect x="300" y="644.5" width="104.9" height="9.5" fill="#d39c1e"/>
<rect x="300" y="653.9" width="102.8" height="9.5" fill="#d39c1e"/>
<rect x="300" y="663.3" width="99.9" height="9.5" fill="#d39c1e"/>
<rect x="300" y="672.7" width="97.3" height="9.5" fill="#d39c1e"/>
<rect x="300" y="682.1" width="93.1" height="9.5" fill="#d39c1e"/>
<rect x="300" y="691.5" width="88.5" height="9.5" fill="#d39c1e"/>
<rect x="300" y="700.9" width="83.0" height="9.5" fill="#d39c1e"/>
<rect x="300" y="710.3" width="78.0" height="9.5" fill="#d39c1e"/>
<path d="M300,588.1H512 M300,597.5H512 M300,606.9H512 M300,616.3H512 M300,625.7H512 M300,635.1H512 M300,644.5H512 M300,653.9H512 M300,663.3H512 M300,672.7H512 M300,682.1H512 M300,691.5H512 M300,700.9H512 M300,710.3H512" stroke="#2c0700" stroke-width="1.9" fill="none"/>
</g>
<path d="M403.2,595.4 C406.0,596.0 413.9,597.6 420.0,598.9 C426.1,600.2 434.2,602.0 440.0,603.4 C445.8,604.8 450.0,606.0 455.0,607.4 C460.0,608.8 465.5,610.4 470.0,611.9 C474.5,613.4 478.2,614.8 482.0,616.4 C485.8,618.0 489.5,619.9 492.5,621.4 C495.5,622.9 497.9,624.0 500.0,625.2 C502.1,626.4 503.7,627.6 505.0,628.5 C506.3,629.5 507.2,630.2 508.0,631.1 C508.8,632.0 509.5,633.4 509.8,633.9 L509.8,633.6 C509.7,634.0 509.7,635.2 509.4,636.2 C509.1,637.1 508.7,638.1 508.0,639.3 C507.3,640.5 506.3,642.1 505.0,643.6 C503.7,645.1 502.1,646.7 500.0,648.2 C497.9,649.7 495.5,651.1 492.5,652.8 C489.5,654.5 485.8,656.5 482.0,658.3 C478.2,660.1 474.5,661.7 470.0,663.5 C465.5,665.3 460.0,667.2 455.0,668.9 C450.0,670.6 445.8,672.0 440.0,673.9 C434.2,675.8 426.1,678.4 420.0,680.4 C413.9,682.4 407.8,684.3 403.2,685.6 C398.8,686.9 396.9,687.0 393.0,688.1 C389.1,689.2 384.4,690.9 380.0,692.1 C375.6,693.4 371.2,694.4 366.7,695.6 C362.2,696.9 358.1,698.4 353.0,699.6 C347.9,700.9 341.7,701.9 336.0,703.1 C330.3,704.4 321.6,706.4 318.7,707.1" fill="none" stroke="#0c0600" stroke-width="2" stroke-linejoin="round"/>
<path d="M170.0,896.8 C170.2,896.2 170.2,894.6 171.0,893.3 C171.8,892.0 173.5,890.1 175.0,888.8 C176.5,887.5 178.1,886.5 180.0,885.3 C181.9,884.1 183.4,883.5 186.7,881.8 C190.0,880.1 195.6,877.3 200.0,875.3 C204.4,873.3 208.9,871.5 213.3,869.8 C217.8,868.0 222.2,866.3 226.7,864.8 C231.1,863.3 235.6,862.1 240.0,860.8 C244.4,859.5 248.9,858.2 253.3,857.0 C257.8,855.8 262.8,854.6 266.7,853.6 C270.6,852.6 271.4,852.5 277.0,851.0 C282.6,849.5 293.1,846.7 300.0,844.8 C306.9,842.9 312.7,841.3 318.7,839.8 C324.7,838.3 330.3,837.0 336.0,835.8 C341.7,834.5 350.2,832.9 353.0,832.3 L359.3,831.8 C356.8,832.9 348.2,836.5 344.2,838.3 C340.1,840.1 338.6,841.0 335.0,842.8 C331.4,844.5 326.9,846.4 322.5,848.8 C318.1,851.2 312.1,855.0 308.4,857.3 C304.6,859.5 302.6,860.6 300.0,862.3 C297.4,864.0 295.5,865.3 293.0,867.5 C290.5,869.7 287.0,873.2 285.0,875.5 C283.0,877.8 282.1,879.5 281.0,881.3 C279.9,883.1 279.3,884.6 278.7,886.2 C278.1,887.8 277.6,889.2 277.3,890.8 C277.0,892.3 277.1,894.7 277.0,895.5 L277.0,954.4 L277.0,954.4 C275.3,954.0 270.6,953.1 266.7,952.2 C262.8,951.3 257.8,950.0 253.3,948.8 C248.9,947.6 244.4,946.3 240.0,944.8 C235.6,943.3 231.1,941.6 226.7,939.8 C222.2,938.0 217.8,936.3 213.3,934.2 C208.9,932.1 204.4,929.9 200.0,927.3 C195.6,924.7 190.0,921.1 186.7,918.8 C183.4,916.5 181.9,915.1 180.0,913.3 C178.1,911.5 176.5,909.9 175.0,907.8 C173.5,905.7 171.8,902.6 171.0,900.8 C170.2,899.0 170.2,897.5 170.0,896.8Z" fill="#ab4512" stroke="#0c0600" stroke-width="2" stroke-linejoin="round"/>
<clipPath id="cred896"><path d="M403.2,725.6 C406.0,726.2 413.9,727.8 420.0,729.1 C426.1,730.4 434.2,732.2 440.0,733.6 C445.8,735.0 450.0,736.2 455.0,737.6 C460.0,739.0 465.5,740.6 470.0,742.1 C474.5,743.6 478.2,745.0 482.0,746.6 C485.8,748.2 489.5,750.0 492.5,751.6 C495.5,753.2 497.9,754.7 500.0,756.1 C502.1,757.5 503.7,758.9 505.0,760.1 C506.3,761.3 507.2,762.1 508.0,763.1 C508.8,764.1 509.5,765.6 509.8,766.1 L509.8,765.8 C509.7,766.2 509.7,767.4 509.4,768.3 C509.1,769.2 508.7,770.1 508.0,771.3 C507.3,772.5 506.3,774.0 505.0,775.3 C503.7,776.6 502.1,778.0 500.0,779.3 C497.9,780.6 495.5,781.8 492.5,783.3 C489.5,784.8 485.8,786.4 482.0,788.0 C478.2,789.6 474.5,791.0 470.0,792.8 C465.5,794.6 460.0,796.8 455.0,798.8 C450.0,800.8 445.8,802.5 440.0,804.8 C434.2,807.0 426.1,810.0 420.0,812.3 C413.9,814.5 407.8,816.9 403.2,818.3 C398.8,819.7 396.9,819.7 393.0,820.8 C389.1,821.9 384.4,823.5 380.0,824.8 C375.6,826.0 371.2,827.0 366.7,828.3 C362.2,829.5 358.1,831.0 353.0,832.3 C347.9,833.5 341.7,834.5 336.0,835.8 C330.3,837.0 321.6,839.1 318.7,839.8 L318.7,725.6 L403.25,725.6 Z"/></clipPath>
<path d="M403.2,725.6 C406.0,726.2 413.9,727.8 420.0,729.1 C426.1,730.4 434.2,732.2 440.0,733.6 C445.8,735.0 450.0,736.2 455.0,737.6 C460.0,739.0 465.5,740.6 470.0,742.1 C474.5,743.6 478.2,745.0 482.0,746.6 C485.8,748.2 489.5,750.0 492.5,751.6 C495.5,753.2 497.9,754.7 500.0,756.1 C502.1,757.5 503.7,758.9 505.0,760.1 C506.3,761.3 507.2,762.1 508.0,763.1 C508.8,764.1 509.5,765.6 509.8,766.1 L509.8,765.8 C509.7,766.2 509.7,767.4 509.4,768.3 C509.1,769.2 508.7,770.1 508.0,771.3 C507.3,772.5 506.3,774.0 505.0,775.3 C503.7,776.6 502.1,778.0 500.0,779.3 C497.9,780.6 495.5,781.8 492.5,783.3 C489.5,784.8 485.8,786.4 482.0,788.0 C478.2,789.6 474.5,791.0 470.0,792.8 C465.5,794.6 460.0,796.8 455.0,798.8 C450.0,800.8 445.8,802.5 440.0,804.8 C434.2,807.0 426.1,810.0 420.0,812.3 C413.9,814.5 407.8,816.9 403.2,818.3 C398.8,819.7 396.9,819.7 393.0,820.8 C389.1,821.9 384.4,823.5 380.0,824.8 C375.6,826.0 371.2,827.0 366.7,828.3 C362.2,829.5 358.1,831.0 353.0,832.3 C347.9,833.5 341.7,834.5 336.0,835.8 C330.3,837.0 321.6,839.1 318.7,839.8 L318.7,725.6 L403.25,725.6 Z" fill="#ed9062"/>
<g clip-path="url(#cred896)">
<rect x="300" y="718.8" width="103.6" height="9.5" fill="#cb5826"/>
<rect x="300" y="728.2" width="103.6" height="9.5" fill="#cb5826"/>
<rect x="300" y="737.6" width="103.6" height="9.5" fill="#cb5826"/>
<rect x="300" y="747.0" width="103.6" height="9.5" fill="#cb5826"/>
<rect x="300" y="756.4" width="103.6" height="9.5" fill="#cb5826"/>
<rect x="300" y="765.8" width="103.6" height="9.5" fill="#cb5826"/>
<rect x="300" y="775.2" width="104.9" height="9.5" fill="#cb5826"/>
<rect x="300" y="784.6" width="102.8" height="9.5" fill="#cb5826"/>
<rect x="300" y="794.0" width="99.9" height="9.5" fill="#cb5826"/>
<rect x="300" y="803.4" width="97.3" height="9.5" fill="#cb5826"/>
<rect x="300" y="812.8" width="93.1" height="9.5" fill="#cb5826"/>
<rect x="300" y="822.2" width="88.5" height="9.5" fill="#cb5826"/>
<rect x="300" y="831.6" width="83.0" height="9.5" fill="#cb5826"/>
<rect x="300" y="841.0" width="78.0" height="9.5" fill="#cb5826"/>
<path d="M300,718.8H512 M300,728.2H512 M300,737.6H512 M300,747.0H512 M300,756.4H512 M300,765.8H512 M300,775.2H512 M300,784.6H512 M300,794.0H512 M300,803.4H512 M300,812.8H512 M300,822.2H512 M300,831.6H512 M300,841.0H512" stroke="#2c0700" stroke-width="1.9" fill="none"/>
</g>
<path d="M403.2,725.6 C406.0,726.2 413.9,727.8 420.0,729.1 C426.1,730.4 434.2,732.2 440.0,733.6 C445.8,735.0 450.0,736.2 455.0,737.6 C460.0,739.0 465.5,740.6 470.0,742.1 C474.5,743.6 478.2,745.0 482.0,746.6 C485.8,748.2 489.5,750.0 492.5,751.6 C495.5,753.2 497.9,754.7 500.0,756.1 C502.1,757.5 503.7,758.9 505.0,760.1 C506.3,761.3 507.2,762.1 508.0,763.1 C508.8,764.1 509.5,765.6 509.8,766.1 L509.8,765.8 C509.7,766.2 509.7,767.4 509.4,768.3 C509.1,769.2 508.7,770.1 508.0,771.3 C507.3,772.5 506.3,774.0 505.0,775.3 C503.7,776.6 502.1,778.0 500.0,779.3 C497.9,780.6 495.5,781.8 492.5,783.3 C489.5,784.8 485.8,786.4 482.0,788.0 C478.2,789.6 474.5,791.0 470.0,792.8 C465.5,794.6 460.0,796.8 455.0,798.8 C450.0,800.8 445.8,802.5 440.0,804.8 C434.2,807.0 426.1,810.0 420.0,812.3 C413.9,814.5 407.8,816.9 403.2,818.3 C398.8,819.7 396.9,819.7 393.0,820.8 C389.1,821.9 384.4,823.5 380.0,824.8 C375.6,826.0 371.2,827.0 366.7,828.3 C362.2,829.5 358.1,831.0 353.0,832.3 C347.9,833.5 341.7,834.5 336.0,835.8 C330.3,837.0 321.6,839.1 318.7,839.8" fill="none" stroke="#0c0600" stroke-width="2" stroke-linejoin="round"/>
<path d="M170.0,1025.5 C170.2,1024.9 170.2,1023.3 171.0,1022.0 C171.8,1020.7 173.5,1018.8 175.0,1017.5 C176.5,1016.2 178.1,1015.2 180.0,1014.0 C181.9,1012.8 183.4,1012.2 186.7,1010.5 C190.0,1008.8 195.6,1006.0 200.0,1004.0 C204.4,1002.0 208.9,1000.2 213.3,998.5 C217.8,996.8 222.2,995.0 226.7,993.5 C231.1,992.0 235.6,990.8 240.0,989.5 C244.4,988.2 248.9,986.9 253.3,985.7 C257.8,984.5 262.8,983.3 266.7,982.3 C270.6,981.3 271.4,981.2 277.0,979.7 C282.6,978.2 293.1,975.4 300.0,973.5 C306.9,971.6 312.7,970.0 318.7,968.5 C324.7,967.0 330.3,965.8 336.0,964.5 C341.7,963.2 350.2,961.6 353.0,961.0 L359.3,960.5 C356.8,961.6 348.2,965.2 344.2,967.0 C340.1,968.8 338.6,969.8 335.0,971.5 C331.4,973.2 326.9,975.1 322.5,977.5 C318.1,979.9 312.1,983.8 308.4,986.0 C304.6,988.2 302.6,989.3 300.0,991.0 C297.4,992.7 295.5,994.0 293.0,996.2 C290.5,998.4 287.0,1001.9 285.0,1004.2 C283.0,1006.5 282.1,1008.2 281.0,1010.0 C279.9,1011.8 279.3,1013.3 278.7,1014.9 C278.1,1016.5 277.6,1018.0 277.3,1019.5 C277.0,1021.0 277.1,1023.4 277.0,1024.2 L277.0,1083.1 L277.0,1083.1 C275.3,1082.7 270.6,1081.8 266.7,1080.9 C262.8,1080.0 257.8,1078.7 253.3,1077.5 C248.9,1076.3 244.4,1075.0 240.0,1073.5 C235.6,1072.0 231.1,1070.3 226.7,1068.5 C222.2,1066.7 217.8,1065.0 213.3,1062.9 C208.9,1060.8 204.4,1058.6 200.0,1056.0 C195.6,1053.4 190.0,1049.8 186.7,1047.5 C183.4,1045.2 181.9,1043.8 180.0,1042.0 C178.1,1040.2 176.5,1038.6 175.0,1036.5 C173.5,1034.4 171.8,1031.3 171.0,1029.5 C170.2,1027.7 170.2,1026.2 170.0,1025.5Z" fill="#c0921e" stroke="#0c0600" stroke-width="2" stroke-linejoin="round"/>
<clipPath id="cgold1025"><path d="M403.2,856.8 C406.0,857.4 413.9,859.0 420.0,860.3 C426.1,861.6 434.2,863.4 440.0,864.8 C445.8,866.2 450.0,867.4 455.0,868.8 C460.0,870.2 465.5,871.8 470.0,873.3 C474.5,874.8 478.2,876.2 482.0,877.8 C485.8,879.4 489.5,881.3 492.5,882.8 C495.5,884.3 497.9,885.4 500.0,886.6 C502.1,887.8 503.7,889.0 505.0,889.9 C506.3,890.9 507.2,891.6 508.0,892.5 C508.8,893.4 509.5,894.8 509.8,895.3 L509.8,895.0 C509.7,895.4 509.7,896.6 509.4,897.6 C509.1,898.5 508.7,899.5 508.0,900.7 C507.3,901.9 506.3,903.5 505.0,905.0 C503.7,906.5 502.1,908.1 500.0,909.6 C497.9,911.1 495.5,912.5 492.5,914.2 C489.5,915.9 485.8,917.9 482.0,919.7 C478.2,921.5 474.5,923.1 470.0,924.9 C465.5,926.7 460.0,928.6 455.0,930.3 C450.0,932.0 445.8,933.4 440.0,935.3 C434.2,937.2 426.1,939.8 420.0,941.8 C413.9,943.8 407.8,945.7 403.2,947.0 C398.8,948.3 396.9,948.4 393.0,949.5 C389.1,950.6 384.4,952.2 380.0,953.5 C375.6,954.8 371.2,955.8 366.7,957.0 C362.2,958.2 358.1,959.8 353.0,961.0 C347.9,962.2 341.7,963.2 336.0,964.5 C330.3,965.8 321.6,967.8 318.7,968.5 L318.7,854.3 L403.25,854.3 Z"/></clipPath>
<path d="M403.2,856.8 C406.0,857.4 413.9,859.0 420.0,860.3 C426.1,861.6 434.2,863.4 440.0,864.8 C445.8,866.2 450.0,867.4 455.0,868.8 C460.0,870.2 465.5,871.8 470.0,873.3 C474.5,874.8 478.2,876.2 482.0,877.8 C485.8,879.4 489.5,881.3 492.5,882.8 C495.5,884.3 497.9,885.4 500.0,886.6 C502.1,887.8 503.7,889.0 505.0,889.9 C506.3,890.9 507.2,891.6 508.0,892.5 C508.8,893.4 509.5,894.8 509.8,895.3 L509.8,895.0 C509.7,895.4 509.7,896.6 509.4,897.6 C509.1,898.5 508.7,899.5 508.0,900.7 C507.3,901.9 506.3,903.5 505.0,905.0 C503.7,906.5 502.1,908.1 500.0,909.6 C497.9,911.1 495.5,912.5 492.5,914.2 C489.5,915.9 485.8,917.9 482.0,919.7 C478.2,921.5 474.5,923.1 470.0,924.9 C465.5,926.7 460.0,928.6 455.0,930.3 C450.0,932.0 445.8,933.4 440.0,935.3 C434.2,937.2 426.1,939.8 420.0,941.8 C413.9,943.8 407.8,945.7 403.2,947.0 C398.8,948.3 396.9,948.4 393.0,949.5 C389.1,950.6 384.4,952.2 380.0,953.5 C375.6,954.8 371.2,955.8 366.7,957.0 C362.2,958.2 358.1,959.8 353.0,961.0 C347.9,962.2 341.7,963.2 336.0,964.5 C330.3,965.8 321.6,967.8 318.7,968.5 L318.7,854.3 L403.25,854.3 Z" fill="#f8d47c"/>
<g clip-path="url(#cgold1025)">
<rect x="300" y="849.5" width="103.6" height="9.5" fill="#d8a42e"/>
<rect x="300" y="858.9" width="103.6" height="9.5" fill="#d8a42e"/>
<rect x="300" y="868.3" width="103.6" height="9.5" fill="#d8a42e"/>
<rect x="300" y="877.7" width="103.6" height="9.5" fill="#d8a42e"/>
<rect x="300" y="887.1" width="103.6" height="9.5" fill="#d8a42e"/>
<rect x="300" y="896.5" width="103.6" height="9.5" fill="#d8a42e"/>
<rect x="300" y="905.9" width="104.9" height="9.5" fill="#d8a42e"/>
<rect x="300" y="915.3" width="102.8" height="9.5" fill="#d8a42e"/>
<rect x="300" y="924.7" width="99.9" height="9.5" fill="#d8a42e"/>
<rect x="300" y="934.1" width="97.3" height="9.5" fill="#d8a42e"/>
<rect x="300" y="943.5" width="93.1" height="9.5" fill="#d8a42e"/>
<rect x="300" y="952.9" width="88.5" height="9.5" fill="#d8a42e"/>
<rect x="300" y="962.3" width="83.0" height="9.5" fill="#d8a42e"/>
<rect x="300" y="971.7" width="78.0" height="9.5" fill="#d8a42e"/>
<path d="M300,849.5H512 M300,858.9H512 M300,868.3H512 M300,877.7H512 M300,887.1H512 M300,896.5H512 M300,905.9H512 M300,915.3H512 M300,924.7H512 M300,934.1H512 M300,943.5H512 M300,952.9H512 M300,962.3H512 M300,971.7H512" stroke="#2c0700" stroke-width="1.9" fill="none"/>
</g>
<path d="M403.2,856.8 C406.0,857.4 413.9,859.0 420.0,860.3 C426.1,861.6 434.2,863.4 440.0,864.8 C445.8,866.2 450.0,867.4 455.0,868.8 C460.0,870.2 465.5,871.8 470.0,873.3 C474.5,874.8 478.2,876.2 482.0,877.8 C485.8,879.4 489.5,881.3 492.5,882.8 C495.5,884.3 497.9,885.4 500.0,886.6 C502.1,887.8 503.7,889.0 505.0,889.9 C506.3,890.9 507.2,891.6 508.0,892.5 C508.8,893.4 509.5,894.8 509.8,895.3 L509.8,895.0 C509.7,895.4 509.7,896.6 509.4,897.6 C509.1,898.5 508.7,899.5 508.0,900.7 C507.3,901.9 506.3,903.5 505.0,905.0 C503.7,906.5 502.1,908.1 500.0,909.6 C497.9,911.1 495.5,912.5 492.5,914.2 C489.5,915.9 485.8,917.9 482.0,919.7 C478.2,921.5 474.5,923.1 470.0,924.9 C465.5,926.7 460.0,928.6 455.0,930.3 C450.0,932.0 445.8,933.4 440.0,935.3 C434.2,937.2 426.1,939.8 420.0,941.8 C413.9,943.8 407.8,945.7 403.2,947.0 C398.8,948.3 396.9,948.4 393.0,949.5 C389.1,950.6 384.4,952.2 380.0,953.5 C375.6,954.8 371.2,955.8 366.7,957.0 C362.2,958.2 358.1,959.8 353.0,961.0 C347.9,962.2 341.7,963.2 336.0,964.5 C330.3,965.8 321.6,967.8 318.7,968.5" fill="none" stroke="#0c0600" stroke-width="2" stroke-linejoin="round"/>
</g>
<g id="cyl">
<clipPath id="sv2"><rect x="18" y="8.5" width="645" height="887.5"/></clipPath>
<g clip-path="url(#sv2)">
<path d="M277.0,0.0 C298.0,0.0 382.2,0.0 403.2,0.0 L403.2,107.3 C403.0,108.9 402.8,113.8 402.0,116.8 C401.2,119.8 400.2,122.7 398.7,125.5 C397.2,128.3 395.0,131.3 393.0,133.8 C391.0,136.3 389.4,138.0 386.7,140.6 C384.0,143.2 380.0,146.8 376.7,149.3 C373.4,151.8 370.3,153.3 366.7,155.8 C363.1,158.3 358.6,162.0 355.0,164.3 C351.4,166.6 348.6,168.0 345.0,169.8 C341.4,171.6 336.6,173.7 333.3,175.3 C330.0,176.9 328.4,177.8 325.0,179.3 C321.6,180.8 317.2,182.8 313.0,184.3 C308.8,185.8 303.8,187.2 300.0,188.3 C296.2,189.4 293.8,189.9 290.0,190.8 C286.2,191.7 279.2,193.3 277.0,193.8Z" fill="#d2d2d2" stroke="#0c0600" stroke-width="2" stroke-linejoin="round"/>
<path d="M274.5,195.3 C274.9,194.6 274.8,193.5 277.0,191.3 C279.2,189.1 284.2,185.4 288.0,182.3 C291.8,179.2 295.8,175.6 300.0,172.6 C304.2,169.6 308.6,167.1 313.0,164.3 C317.4,161.5 322.2,158.6 326.7,155.8 C331.2,153.1 335.6,150.5 340.0,147.8 C344.4,145.1 348.9,142.8 353.3,139.8 C357.8,136.8 362.2,133.1 366.7,129.8 C371.1,126.5 375.6,123.6 380.0,119.8 C384.4,116.1 390.0,110.8 393.3,107.3 C396.6,103.8 398.4,101.3 400.0,98.8 C401.6,96.3 402.7,93.4 403.2,92.3" fill="none" stroke="#7a7a7a" stroke-width="2.3"/>
<path d="M277.0,240.0 C277.1,239.2 277.0,236.9 277.3,235.3 C277.6,233.8 278.1,232.3 278.7,230.7 C279.3,229.1 279.9,227.6 281.0,225.8 C282.1,224.0 283.0,222.3 285.0,220.0 C287.0,217.7 290.5,214.2 293.0,212.0 C295.5,209.8 297.4,208.5 300.0,206.8 C302.6,205.1 304.6,204.1 308.4,201.8 C312.1,199.6 318.1,195.7 322.5,193.3 C326.9,190.9 331.4,189.1 335.0,187.3 C338.6,185.6 340.1,184.6 344.2,182.8 C348.2,181.0 353.9,178.5 359.3,176.3 C364.7,174.1 371.1,171.6 376.7,169.8 C382.3,168.0 388.6,166.5 393.0,165.3 C397.4,164.1 401.5,163.2 403.2,162.8 L403.2,240.0 C403.0,241.6 402.8,246.5 402.0,249.5 C401.2,252.5 400.2,255.4 398.7,258.2 C397.2,261.0 395.0,264.0 393.0,266.5 C391.0,269.0 389.4,270.7 386.7,273.3 C384.0,275.9 380.0,279.5 376.7,282.0 C373.4,284.5 370.3,286.0 366.7,288.5 C363.1,291.0 358.6,294.7 355.0,297.0 C351.4,299.3 348.6,300.7 345.0,302.5 C341.4,304.3 336.6,306.4 333.3,308.0 C330.0,309.6 328.4,310.5 325.0,312.0 C321.6,313.5 317.2,315.5 313.0,317.0 C308.8,318.5 303.8,319.9 300.0,321.0 C296.2,322.1 293.8,322.6 290.0,323.5 C286.2,324.4 279.2,326.0 277.0,326.5Z" fill="#d2d2d2" stroke="#0c0600" stroke-width="2" stroke-linejoin="round"/>
<path d="M274.5,328.0 C274.9,327.3 274.8,326.2 277.0,324.0 C279.2,321.8 284.2,318.1 288.0,315.0 C291.8,311.9 295.8,308.3 300.0,305.3 C304.2,302.3 308.6,299.8 313.0,297.0 C317.4,294.2 322.2,291.2 326.7,288.5 C331.2,285.8 335.6,283.2 340.0,280.5 C344.4,277.8 348.9,275.5 353.3,272.5 C357.8,269.5 362.2,265.8 366.7,262.5 C371.1,259.2 375.6,256.2 380.0,252.5 C384.4,248.8 390.0,243.5 393.3,240.0 C396.6,236.5 398.4,234.0 400.0,231.5 C401.6,229.0 402.7,226.1 403.2,225.0" fill="none" stroke="#7a7a7a" stroke-width="2.3"/>
<path d="M277.0,372.7 C277.1,371.9 277.0,369.6 277.3,368.0 C277.6,366.4 278.1,365.0 278.7,363.4 C279.3,361.8 279.9,360.3 281.0,358.5 C282.1,356.7 283.0,355.0 285.0,352.7 C287.0,350.4 290.5,346.9 293.0,344.7 C295.5,342.5 297.4,341.2 300.0,339.5 C302.6,337.8 304.6,336.8 308.4,334.5 C312.1,332.2 318.1,328.4 322.5,326.0 C326.9,323.6 331.4,321.8 335.0,320.0 C338.6,318.2 340.1,317.3 344.2,315.5 C348.2,313.7 353.9,311.2 359.3,309.0 C364.7,306.8 371.1,304.3 376.7,302.5 C382.3,300.7 388.6,299.2 393.0,298.0 C397.4,296.8 401.5,295.9 403.2,295.5 L403.2,368.7 C403.0,370.3 402.8,375.2 402.0,378.2 C401.2,381.2 400.2,384.1 398.7,386.9 C397.2,389.7 395.0,392.7 393.0,395.2 C391.0,397.7 389.4,399.4 386.7,402.0 C384.0,404.6 380.0,408.2 376.7,410.7 C373.4,413.2 370.3,414.7 366.7,417.2 C363.1,419.7 358.6,423.4 355.0,425.7 C351.4,428.0 348.6,429.4 345.0,431.2 C341.4,433.0 336.6,435.1 333.3,436.7 C330.0,438.3 328.4,439.2 325.0,440.7 C321.6,442.2 317.2,444.2 313.0,445.7 C308.8,447.2 303.8,448.6 300.0,449.7 C296.2,450.8 293.8,451.3 290.0,452.2 C286.2,453.1 279.2,454.7 277.0,455.2Z" fill="#d2d2d2" stroke="#0c0600" stroke-width="2" stroke-linejoin="round"/>
<path d="M274.5,456.7 C274.9,456.0 274.8,454.9 277.0,452.7 C279.2,450.5 284.2,446.8 288.0,443.7 C291.8,440.6 295.8,437.0 300.0,434.0 C304.2,431.0 308.6,428.5 313.0,425.7 C317.4,422.9 322.2,419.9 326.7,417.2 C331.2,414.4 335.6,411.9 340.0,409.2 C344.4,406.5 348.9,404.2 353.3,401.2 C357.8,398.2 362.2,394.5 366.7,391.2 C371.1,387.9 375.6,384.9 380.0,381.2 C384.4,377.4 390.0,372.2 393.3,368.7 C396.6,365.2 398.4,362.7 400.0,360.2 C401.6,357.7 402.7,354.8 403.2,353.7" fill="none" stroke="#7a7a7a" stroke-width="2.3"/>
<path d="M277.0,501.4 C277.1,500.6 277.0,498.2 277.3,496.7 C277.6,495.1 278.1,493.7 278.7,492.1 C279.3,490.5 279.9,489.0 281.0,487.2 C282.1,485.4 283.0,483.7 285.0,481.4 C287.0,479.1 290.5,475.6 293.0,473.4 C295.5,471.2 297.4,469.9 300.0,468.2 C302.6,466.5 304.6,465.4 308.4,463.2 C312.1,460.9 318.1,457.1 322.5,454.7 C326.9,452.3 331.4,450.4 335.0,448.7 C338.6,446.9 340.1,446.0 344.2,444.2 C348.2,442.4 353.9,439.9 359.3,437.7 C364.7,435.5 371.1,433.0 376.7,431.2 C382.3,429.4 388.6,427.9 393.0,426.7 C397.4,425.5 401.5,424.6 403.2,424.2 L403.2,501.4 C403.0,503.0 402.8,507.9 402.0,510.9 C401.2,513.9 400.2,516.8 398.7,519.6 C397.2,522.4 395.0,525.4 393.0,527.9 C391.0,530.4 389.4,532.1 386.7,534.7 C384.0,537.3 380.0,540.9 376.7,543.4 C373.4,545.9 370.3,547.4 366.7,549.9 C363.1,552.4 358.6,556.1 355.0,558.4 C351.4,560.7 348.6,562.1 345.0,563.9 C341.4,565.7 336.6,567.8 333.3,569.4 C330.0,571.0 328.4,571.9 325.0,573.4 C321.6,574.9 317.2,576.9 313.0,578.4 C308.8,579.9 303.8,581.3 300.0,582.4 C296.2,583.5 293.8,584.0 290.0,584.9 C286.2,585.8 279.2,587.4 277.0,587.9Z" fill="#d2d2d2" stroke="#0c0600" stroke-width="2" stroke-linejoin="round"/>
<path d="M274.5,589.4 C274.9,588.7 274.8,587.6 277.0,585.4 C279.2,583.2 284.2,579.5 288.0,576.4 C291.8,573.3 295.8,569.7 300.0,566.7 C304.2,563.7 308.6,561.2 313.0,558.4 C317.4,555.6 322.2,552.6 326.7,549.9 C331.2,547.1 335.6,544.6 340.0,541.9 C344.4,539.2 348.9,536.9 353.3,533.9 C357.8,530.9 362.2,527.2 366.7,523.9 C371.1,520.6 375.6,517.6 380.0,513.9 C384.4,510.1 390.0,504.9 393.3,501.4 C396.6,497.9 398.4,495.4 400.0,492.9 C401.6,490.4 402.7,487.5 403.2,486.4" fill="none" stroke="#7a7a7a" stroke-width="2.3"/>
<path d="M277.0,634.1 C277.1,633.3 277.0,631.0 277.3,629.4 C277.6,627.8 278.1,626.4 278.7,624.8 C279.3,623.2 279.9,621.7 281.0,619.9 C282.1,618.1 283.0,616.4 285.0,614.1 C287.0,611.8 290.5,608.3 293.0,606.1 C295.5,603.9 297.4,602.6 300.0,600.9 C302.6,599.2 304.6,598.1 308.4,595.9 C312.1,593.6 318.1,589.8 322.5,587.4 C326.9,585.0 331.4,583.1 335.0,581.4 C338.6,579.6 340.1,578.7 344.2,576.9 C348.2,575.1 353.9,572.6 359.3,570.4 C364.7,568.2 371.1,565.7 376.7,563.9 C382.3,562.1 388.6,560.6 393.0,559.4 C397.4,558.2 401.5,557.3 403.2,556.9 L403.2,630.1 C403.0,631.7 402.8,636.6 402.0,639.6 C401.2,642.6 400.2,645.5 398.7,648.3 C397.2,651.1 395.0,654.1 393.0,656.6 C391.0,659.1 389.4,660.8 386.7,663.4 C384.0,666.0 380.0,669.6 376.7,672.1 C373.4,674.6 370.3,676.1 366.7,678.6 C363.1,681.1 358.6,684.8 355.0,687.1 C351.4,689.4 348.6,690.8 345.0,692.6 C341.4,694.4 336.6,696.5 333.3,698.1 C330.0,699.7 328.4,700.6 325.0,702.1 C321.6,703.6 317.2,705.6 313.0,707.1 C308.8,708.6 303.8,710.0 300.0,711.1 C296.2,712.2 293.8,712.7 290.0,713.6 C286.2,714.5 279.2,716.1 277.0,716.6Z" fill="#d2d2d2" stroke="#0c0600" stroke-width="2" stroke-linejoin="round"/>
<path d="M274.5,718.1 C274.9,717.4 274.8,716.3 277.0,714.1 C279.2,711.9 284.2,708.2 288.0,705.1 C291.8,702.0 295.8,698.4 300.0,695.4 C304.2,692.4 308.6,689.9 313.0,687.1 C317.4,684.3 322.2,681.4 326.7,678.6 C331.2,675.9 335.6,673.3 340.0,670.6 C344.4,667.9 348.9,665.6 353.3,662.6 C357.8,659.6 362.2,655.9 366.7,652.6 C371.1,649.3 375.6,646.4 380.0,642.6 C384.4,638.9 390.0,633.6 393.3,630.1 C396.6,626.6 398.4,624.1 400.0,621.6 C401.6,619.1 402.7,616.2 403.2,615.1" fill="none" stroke="#7a7a7a" stroke-width="2.3"/>
<path d="M277.0,762.8 C277.1,762.0 277.0,759.7 277.3,758.1 C277.6,756.5 278.1,755.1 278.7,753.5 C279.3,751.9 279.9,750.4 281.0,748.6 C282.1,746.8 283.0,745.1 285.0,742.8 C287.0,740.5 290.5,737.0 293.0,734.8 C295.5,732.6 297.4,731.3 300.0,729.6 C302.6,727.9 304.6,726.9 308.4,724.6 C312.1,722.4 318.1,718.5 322.5,716.1 C326.9,713.7 331.4,711.9 335.0,710.1 C338.6,708.4 340.1,707.4 344.2,705.6 C348.2,703.8 353.9,701.3 359.3,699.1 C364.7,696.9 371.1,694.4 376.7,692.6 C382.3,690.8 388.6,689.3 393.0,688.1 C397.4,686.9 401.5,686.0 403.2,685.6 L403.2,762.8 C403.0,764.4 402.8,769.3 402.0,772.3 C401.2,775.3 400.2,778.2 398.7,781.0 C397.2,783.8 395.0,786.8 393.0,789.3 C391.0,791.8 389.4,793.5 386.7,796.1 C384.0,798.7 380.0,802.3 376.7,804.8 C373.4,807.3 370.3,808.8 366.7,811.3 C363.1,813.8 358.6,817.5 355.0,819.8 C351.4,822.1 348.6,823.5 345.0,825.3 C341.4,827.1 336.6,829.2 333.3,830.8 C330.0,832.4 328.4,833.3 325.0,834.8 C321.6,836.3 317.2,838.3 313.0,839.8 C308.8,841.3 303.8,842.7 300.0,843.8 C296.2,844.9 293.8,845.4 290.0,846.3 C286.2,847.2 279.2,848.8 277.0,849.3Z" fill="#d2d2d2" stroke="#0c0600" stroke-width="2" stroke-linejoin="round"/>
<path d="M274.5,850.8 C274.9,850.1 274.8,849.0 277.0,846.8 C279.2,844.6 284.2,840.9 288.0,837.8 C291.8,834.7 295.8,831.1 300.0,828.1 C304.2,825.1 308.6,822.6 313.0,819.8 C317.4,817.0 322.2,814.0 326.7,811.3 C331.2,808.5 335.6,806.0 340.0,803.3 C344.4,800.6 348.9,798.3 353.3,795.3 C357.8,792.3 362.2,788.6 366.7,785.3 C371.1,782.0 375.6,779.0 380.0,775.3 C384.4,771.5 390.0,766.3 393.3,762.8 C396.6,759.3 398.4,756.8 400.0,754.3 C401.6,751.8 402.7,748.9 403.2,747.8" fill="none" stroke="#7a7a7a" stroke-width="2.3"/>
<path d="M277.0,895.5 C277.1,894.7 277.0,892.3 277.3,890.8 C277.6,889.2 278.1,887.8 278.7,886.2 C279.3,884.6 279.9,883.1 281.0,881.3 C282.1,879.5 283.0,877.8 285.0,875.5 C287.0,873.2 290.5,869.7 293.0,867.5 C295.5,865.3 297.4,864.0 300.0,862.3 C302.6,860.6 304.6,859.5 308.4,857.3 C312.1,855.0 318.1,851.2 322.5,848.8 C326.9,846.4 331.4,844.5 335.0,842.8 C338.6,841.0 340.1,840.1 344.2,838.3 C348.2,836.5 353.9,834.0 359.3,831.8 C364.7,829.6 371.1,827.1 376.7,825.3 C382.3,823.5 388.6,822.0 393.0,820.8 C397.4,819.6 401.5,818.7 403.2,818.3 L403.2,900.0 C382.2,900.0 298.0,900.0 277.0,900.0Z" fill="#d2d2d2" stroke="#0c0600" stroke-width="2" stroke-linejoin="round"/>
</g></g>
<rect x="132.6" y="164.9" width="37.2" height="170.2" fill="#e6e6e6" stroke="#0c0600" stroke-width="2"/>
<rect x="510.0" y="164.9" width="37.1" height="170.2" fill="#e6e6e6" stroke="#0c0600" stroke-width="2"/>
<rect x="127.0" y="148.2" width="42.8" height="3.6" fill="#e6e6e6" stroke="#0c0600" stroke-width="2"/>
<rect x="510.0" y="148.2" width="42.8" height="3.6" fill="#e6e6e6" stroke="#0c0600" stroke-width="2"/>
<rect x="130.7" y="151.8" width="39.1" height="13.1" fill="#bfbfbf" stroke="#0c0600" stroke-width="2"/>
<rect x="510.0" y="151.8" width="39.0" height="13.1" fill="#bfbfbf" stroke="#0c0600" stroke-width="2"/>
<rect x="127.0" y="335.1" width="42.8" height="3.7" fill="#e6e6e6" stroke="#0c0600" stroke-width="2"/>
<rect x="510.0" y="335.1" width="42.8" height="3.7" fill="#e6e6e6" stroke="#0c0600" stroke-width="2"/>
<rect x="130.6" y="338.8" width="39.2" height="28.6" fill="#bfbfbf" stroke="#0c0600" stroke-width="2"/>
<rect x="510.0" y="338.8" width="39.1" height="28.6" fill="#bfbfbf" stroke="#0c0600" stroke-width="2"/>
<rect x="127.0" y="367.4" width="42.8" height="4.7" fill="#e6e6e6" stroke="#0c0600" stroke-width="2"/>
<rect x="510.0" y="367.4" width="42.8" height="4.7" fill="#e6e6e6" stroke="#0c0600" stroke-width="2"/>
<path d="M169.7,207.8 L155.3,207.8 L155.3,212.5 L159.3,212.5 L159.3,237.8 L155.3,237.8 L155.3,242.5 L169.7,242.5 Z" fill="#8c8c8c" stroke="#0c0600" stroke-width="2"/>
<path d="M510.0,207.8 L524.4,207.8 L524.4,212.5 L520.4,212.5 L520.4,237.8 L524.4,237.8 L524.4,242.5 L510.0,242.5 Z" fill="#8c8c8c" stroke="#0c0600" stroke-width="2"/>
<rect x="132.6" y="426.7" width="37.2" height="169.7" fill="#e6e6e6" stroke="#0c0600" stroke-width="2"/>
<rect x="510.0" y="426.7" width="37.1" height="169.7" fill="#e6e6e6" stroke="#0c0600" stroke-width="2"/>
<rect x="127.0" y="410.0" width="42.8" height="3.6" fill="#e6e6e6" stroke="#0c0600" stroke-width="2"/>
<rect x="510.0" y="410.0" width="42.8" height="3.6" fill="#e6e6e6" stroke="#0c0600" stroke-width="2"/>
<rect x="130.7" y="413.6" width="39.1" height="13.1" fill="#bfbfbf" stroke="#0c0600" stroke-width="2"/>
<rect x="510.0" y="413.6" width="39.0" height="13.1" fill="#bfbfbf" stroke="#0c0600" stroke-width="2"/>
<rect x="127.0" y="596.4" width="42.8" height="3.7" fill="#e6e6e6" stroke="#0c0600" stroke-width="2"/>
<rect x="510.0" y="596.4" width="42.8" height="3.7" fill="#e6e6e6" stroke="#0c0600" stroke-width="2"/>
<rect x="130.6" y="600.1" width="39.2" height="28.6" fill="#bfbfbf" stroke="#0c0600" stroke-width="2"/>
<rect x="510.0" y="600.1" width="39.1" height="28.6" fill="#bfbfbf" stroke="#0c0600" stroke-width="2"/>
<rect x="127.0" y="628.7" width="42.8" height="4.7" fill="#e6e6e6" stroke="#0c0600" stroke-width="2"/>
<rect x="510.0" y="628.7" width="42.8" height="4.7" fill="#e6e6e6" stroke="#0c0600" stroke-width="2"/>
<path d="M169.7,469.6 L155.3,469.6 L155.3,474.3 L159.3,474.3 L159.3,499.6 L155.3,499.6 L155.3,504.3 L169.7,504.3 Z" fill="#8c8c8c" stroke="#0c0600" stroke-width="2"/>
<path d="M510.0,469.6 L524.4,469.6 L524.4,474.3 L520.4,474.3 L520.4,499.6 L524.4,499.6 L524.4,504.3 L510.0,504.3 Z" fill="#8c8c8c" stroke="#0c0600" stroke-width="2"/>
<rect x="132.6" y="688.0" width="37.2" height="169.6" fill="#e6e6e6" stroke="#0c0600" stroke-width="2"/>
<rect x="510.0" y="688.0" width="37.1" height="169.6" fill="#e6e6e6" stroke="#0c0600" stroke-width="2"/>
<rect x="127.0" y="671.3" width="42.8" height="3.6" fill="#e6e6e6" stroke="#0c0600" stroke-width="2"/>
<rect x="510.0" y="671.3" width="42.8" height="3.6" fill="#e6e6e6" stroke="#0c0600" stroke-width="2"/>
<rect x="130.7" y="674.9" width="39.1" height="13.1" fill="#bfbfbf" stroke="#0c0600" stroke-width="2"/>
<rect x="510.0" y="674.9" width="39.0" height="13.1" fill="#bfbfbf" stroke="#0c0600" stroke-width="2"/>
<rect x="127.0" y="857.6" width="42.8" height="3.7" fill="#e6e6e6" stroke="#0c0600" stroke-width="2"/>
<rect x="510.0" y="857.6" width="42.8" height="3.7" fill="#e6e6e6" stroke="#0c0600" stroke-width="2"/>
<rect x="130.6" y="861.3" width="39.2" height="28.6" fill="#bfbfbf" stroke="#0c0600" stroke-width="2"/>
<rect x="510.0" y="861.3" width="39.1" height="28.6" fill="#bfbfbf" stroke="#0c0600" stroke-width="2"/>
<rect x="127.0" y="889.9" width="42.8" height="4.7" fill="#e6e6e6" stroke="#0c0600" stroke-width="2"/>
<rect x="510.0" y="889.9" width="42.8" height="4.7" fill="#e6e6e6" stroke="#0c0600" stroke-width="2"/>
<path d="M169.7,730.9 L155.3,730.9 L155.3,735.6 L159.3,735.6 L159.3,760.9 L155.3,760.9 L155.3,765.6 L169.7,765.6 Z" fill="#8c8c8c" stroke="#0c0600" stroke-width="2"/>
<path d="M510.0,730.9 L524.4,730.9 L524.4,735.6 L520.4,735.6 L520.4,760.9 L524.4,760.9 L524.4,765.6 L510.0,765.6 Z" fill="#8c8c8c" stroke="#0c0600" stroke-width="2"/>
<rect x="19.0" y="112.3" width="151.0" height="34.3" fill="#999999"/>
<path d="M19.0,112.3H170.0" stroke="#0c0600" stroke-width="1.9"/>
<rect x="509.8" y="112.3" width="151.5" height="34.3" fill="#999999"/>
<path d="M509.8,112.3H660.8" stroke="#0c0600" stroke-width="1.9"/>
<rect x="19.0" y="374.1" width="151.0" height="34.3" fill="#999999"/>
<path d="M19.0,374.1H170.0" stroke="#0c0600" stroke-width="1.9"/>
<rect x="509.8" y="374.1" width="151.5" height="34.3" fill="#999999"/>
<path d="M509.8,374.1H660.8" stroke="#0c0600" stroke-width="1.9"/>
<rect x="19.0" y="635.4" width="151.0" height="34.3" fill="#999999"/>
<path d="M19.0,635.4H170.0" stroke="#0c0600" stroke-width="1.9"/>
<rect x="509.8" y="635.4" width="151.5" height="34.3" fill="#999999"/>
<path d="M509.8,635.4H660.8" stroke="#0c0600" stroke-width="1.9"/>
<path d="M169.75,112.3H277M403.2,112.3H510" stroke="#0c0600" stroke-width="2"/>
<rect x="403.2" y="893.2" width="106.5" height="3" fill="#ab4512"/>
<path d="M169.75,8.5V896M509.95,8.5V896" stroke="#0c0600" stroke-width="2"/>
<rect x="18.5" y="896" width="643" height="5.4" fill="#999"/>
<path d="M126,896H553.5" stroke="#0c0600" stroke-width="1.6"/>
<g font-family="Liberation Sans, sans-serif" fill="#111">
<text x="290.4" y="930" font-size="22.4" font-weight="bold" textLength="99.8" lengthAdjust="spacingAndGlyphs">side view</text>
<text x="889.4" y="639.3" font-size="22.4" font-weight="bold" textLength="113.2" lengthAdjust="spacingAndGlyphs">aerial view</text>
<text x="924.3" y="939" font-size="18.7" textLength="265.5" lengthAdjust="spacingAndGlyphs">© Encyclopædia Britannica, Inc.</text>
</g>
<path d="M326.4,199.5 L352.5,189.2 L352.7,267.3 L327.0,281.6 Z" fill="#e2e2e2" stroke="#555" stroke-width="1" stroke-linejoin="round" />
<path d="M328.6,200.9 L350.7,192.3 L350.7,265.8 L328.9,278.0 Z" fill="#ffffd8" stroke="#0c0600" stroke-width="2" stroke-linejoin="round" />
<path d="M332.6,204.2 L347.0,211.0 L347.0,264.5 L332.6,254.0 Z" fill="#fff" stroke="#0c0600" stroke-width="1" stroke-linejoin="round" />
<clipPath id="w0"><path d="M332.6,204.2 L347.0,211.0 L347.0,264.5 L332.6,254.0 Z"/></clipPath>
<g clip-path="url(#w0)" fill="#66cc33" stroke="#145a0a" stroke-width="1.3">
<ellipse cx="339.9" cy="239.9" rx="4.6" ry="5.6"/>
<path d="M333,256.0 C333,250.0 336,247.5 340,247.3 C344,247.3 348,249.0 348,252.0 L348,266.0 L333,254.5 Z"/>
</g>
<path d="M326.4,460.9 L352.5,450.6 L352.7,528.7 L327.0,543.0 Z" fill="#e2e2e2" stroke="#555" stroke-width="1" stroke-linejoin="round" />
<path d="M328.6,462.3 L350.7,453.7 L350.7,527.2 L328.9,539.4 Z" fill="#ffffd8" stroke="#0c0600" stroke-width="2" stroke-linejoin="round" />
<path d="M332.6,465.6 L347.0,472.4 L347.0,525.9 L332.6,515.4 Z" fill="#fff" stroke="#0c0600" stroke-width="1" stroke-linejoin="round" />
<path d="M326.4,722.3 L352.5,712.0 L352.7,790.1 L327.0,804.4 Z" fill="#e2e2e2" stroke="#555" stroke-width="1" stroke-linejoin="round" />
<path d="M328.6,723.7 L350.7,715.1 L350.7,788.6 L328.9,800.8 Z" fill="#ffffd8" stroke="#0c0600" stroke-width="2" stroke-linejoin="round" />
<path d="M332.6,727.0 L347.0,733.8 L347.0,787.3 L332.6,776.8 Z" fill="#fff" stroke="#0c0600" stroke-width="1" stroke-linejoin="round" />
<clipPath id="w522"><path d="M329.0,722.8 L347.0,722.8 L347.0,794.8 L329.0,802.8 Z"/></clipPath>
<g clip-path="url(#w522)" fill="#66cc33" stroke="#145a0a" stroke-width="1.3">
<ellipse cx="342.8" cy="761.9" rx="4.8" ry="6" />
<path d="M333.5,779 C334,773 338,770.5 343,770.8 C346,771 349,772 349,775 L349,790 L333.5,780 Z"/>
</g>
<path d="M375,305.3 L400.3,296.6 L400.3,359.3 C396,367.0 386,376.0 375,382.0 Z" fill="#dedede" stroke="#666" stroke-width="1"/>
<path d="M376.8,304.7 L398.9,297.5 L398.9,357.5 C395,365.0 386,372.5 376.8,378.0 Z" fill="#cfcfcf" stroke="#0c0600" stroke-width="1.6" stroke-linejoin="round"/>
<path d="M378,304.0 L390.4,300.0 L390.4,355.5 C387,361.0 383,366.0 378,370.0 Z" fill="#ffffd8" stroke="#0c0600" stroke-width="1.4" stroke-linejoin="round"/>
<path d="M397.2,298.5 V359.0" stroke="#0c0600" stroke-width="1" />
<path d="M281,368.0 C283,360.0 292,349.0 304.8,343.1 L304.8,426.0 L281,443.0 Z" fill="#dedede" stroke="#666" stroke-width="1"/>
<path d="M282.8,369.0 C285,362.0 293,352.5 303.4,347.2 L303.4,424.5 L282.8,439.5 Z" fill="#cfcfcf" stroke="#0c0600" stroke-width="1.6" stroke-linejoin="round"/>
<path d="M290,370.0 C292,364.0 297,360.5 303,358.0 L303,422.0 L290,431.0 Z" fill="#ffffd8" stroke="#0c0600" stroke-width="1.4" stroke-linejoin="round"/>
<path d="M284.6,366.5 V437.0" stroke="#0c0600" stroke-width="1"/>
<path d="M375,566.7 L400.3,558.0 L400.3,620.7 C396,628.4 386,637.4 375,643.4 Z" fill="#dedede" stroke="#666" stroke-width="1"/>
<path d="M376.8,566.1 L398.9,558.9 L398.9,618.9 C395,626.4 386,633.9 376.8,639.4 Z" fill="#cfcfcf" stroke="#0c0600" stroke-width="1.6" stroke-linejoin="round"/>
<path d="M378,565.4 L390.4,561.4 L390.4,616.9 C387,622.4 383,627.4 378,631.4 Z" fill="#ffffd8" stroke="#0c0600" stroke-width="1.4" stroke-linejoin="round"/>
<path d="M397.2,559.9 V620.4" stroke="#0c0600" stroke-width="1" />
<path d="M281,629.4 C283,621.4 292,610.4 304.8,604.5 L304.8,687.4 L281,704.4 Z" fill="#dedede" stroke="#666" stroke-width="1"/>
<path d="M282.8,630.4 C285,623.4 293,613.9 303.4,608.6 L303.4,685.9 L282.8,700.9 Z" fill="#cfcfcf" stroke="#0c0600" stroke-width="1.6" stroke-linejoin="round"/>
<path d="M290,631.4 C292,625.4 297,621.9 303,619.4 L303,683.4 L290,692.4 Z" fill="#ffffd8" stroke="#0c0600" stroke-width="1.4" stroke-linejoin="round"/>
<path d="M284.6,627.9 V698.4" stroke="#0c0600" stroke-width="1"/>
<clipPath id="ab374"><path d="M170.0,374.0 C170.2,373.4 170.2,371.8 171.0,370.5 C171.8,369.2 173.5,367.3 175.0,366.0 C176.5,364.7 178.1,363.7 180.0,362.5 C181.9,361.3 183.4,360.7 186.7,359.0 C190.0,357.3 195.6,354.5 200.0,352.5 C204.4,350.5 208.9,348.8 213.3,347.0 C217.8,345.2 222.2,343.5 226.7,342.0 C231.1,340.5 235.6,339.3 240.0,338.0 C244.4,336.7 248.9,335.4 253.3,334.2 C257.8,333.0 262.8,331.8 266.7,330.8 C270.6,329.8 271.4,329.7 277.0,328.2 C282.6,326.7 293.1,323.9 300.0,322.0 C306.9,320.1 312.7,318.5 318.7,317.0 C324.7,315.5 330.3,314.2 336.0,313.0 C341.7,311.8 347.9,310.8 353.0,309.5 C358.1,308.2 362.2,306.8 366.7,305.5 C371.2,304.2 375.6,303.2 380.0,302.0 C384.4,300.8 389.1,299.1 393.0,298.0 C396.9,296.9 398.8,296.9 403.2,295.5 C407.8,294.1 417.2,290.5 420.0,289.5 L420.0,174.0 L171.0,174.0 L171.0,374.0 Z"/></clipPath>
<clipPath id="ab502"><path d="M170.0,502.7 C170.2,502.1 170.2,500.5 171.0,499.2 C171.8,497.9 173.5,496.0 175.0,494.7 C176.5,493.4 178.1,492.4 180.0,491.2 C181.9,490.0 183.4,489.4 186.7,487.7 C190.0,486.0 195.6,483.2 200.0,481.2 C204.4,479.2 208.9,477.4 213.3,475.7 C217.8,473.9 222.2,472.2 226.7,470.7 C231.1,469.2 235.6,468.0 240.0,466.7 C244.4,465.4 248.9,464.1 253.3,462.9 C257.8,461.7 262.8,460.5 266.7,459.5 C270.6,458.5 271.4,458.4 277.0,456.9 C282.6,455.4 293.1,452.6 300.0,450.7 C306.9,448.8 312.7,447.2 318.7,445.7 C324.7,444.2 330.3,442.9 336.0,441.7 C341.7,440.4 347.9,439.4 353.0,438.2 C358.1,436.9 362.2,435.4 366.7,434.2 C371.2,432.9 375.6,431.9 380.0,430.7 C384.4,429.4 389.1,427.8 393.0,426.7 C396.9,425.6 398.8,425.6 403.2,424.2 C407.8,422.8 417.2,419.2 420.0,418.2 L420.0,302.7 L171.0,302.7 L171.0,502.7 Z"/></clipPath>
<clipPath id="ab764"><path d="M170.0,764.1 C170.2,763.5 170.2,761.9 171.0,760.6 C171.8,759.3 173.5,757.4 175.0,756.1 C176.5,754.8 178.1,753.8 180.0,752.6 C181.9,751.4 183.4,750.8 186.7,749.1 C190.0,747.4 195.6,744.6 200.0,742.6 C204.4,740.6 208.9,738.9 213.3,737.1 C217.8,735.4 222.2,733.6 226.7,732.1 C231.1,730.6 235.6,729.4 240.0,728.1 C244.4,726.8 248.9,725.5 253.3,724.3 C257.8,723.1 262.8,721.9 266.7,720.9 C270.6,719.9 271.4,719.8 277.0,718.3 C282.6,716.8 293.1,714.0 300.0,712.1 C306.9,710.2 312.7,708.6 318.7,707.1 C324.7,705.6 330.3,704.4 336.0,703.1 C341.7,701.9 347.9,700.9 353.0,699.6 C358.1,698.4 362.2,696.9 366.7,695.6 C371.2,694.4 375.6,693.4 380.0,692.1 C384.4,690.9 389.1,689.2 393.0,688.1 C396.9,687.0 398.8,687.0 403.2,685.6 C407.8,684.2 417.2,680.6 420.0,679.6 L420.0,564.1 L100.0,564.1 L100.0,764.1 Z"/></clipPath>
<clipPath id="be635"><path d="M336.0,574.4 C338.8,573.8 347.9,572.1 353.0,570.9 C358.1,569.6 362.2,568.1 366.7,566.9 C371.2,565.6 375.6,564.6 380.0,563.4 C384.4,562.1 389.1,560.5 393.0,559.4 C396.9,558.3 398.8,558.3 403.2,556.9 C407.8,555.5 413.9,553.1 420.0,550.9 C426.1,548.6 434.2,545.6 440.0,543.4 C445.8,541.1 450.0,539.4 455.0,537.4 C460.0,535.4 465.5,533.2 470.0,531.4 C474.5,529.6 478.2,528.2 482.0,526.6 C485.8,525.0 489.5,523.4 492.5,521.9 C495.5,520.4 497.9,519.2 500.0,517.9 C502.1,516.6 503.7,515.2 505.0,513.9 C506.3,512.6 507.3,511.1 508.0,509.9 C508.7,508.7 509.1,507.8 509.4,506.9 C509.7,506.0 509.7,504.8 509.8,504.4 L512,695.4 L330,695.4 Z"/></clipPath>
<clipPath id="top112"><rect x="0" y="0" width="700" height="111.6"/></clipPath>
<g><path d="M96.8,61.7 L106.8,61.7 L105.9,75.4 L107.0,83.9 L97.8,83.9 L98.3,75.4 Z" fill="#0b3d02" stroke="#0b3d02" stroke-width="5.4" stroke-linejoin="round"/><path d="M93.4,61.3 L88.2,71.1 L94.5,74.6 L100.2,65.1 Z" fill="#0b3d02"/><circle cx="96.8" cy="63.2" r="3.85" fill="#0b3d02"/><circle cx="91.4" cy="72.8" r="3.60" fill="#0b3d02"/><path d="M87.8,72.2 L86.2,82.9 L92.8,84.1 L94.9,73.5 Z" fill="#0b3d02"/><circle cx="91.4" cy="72.8" r="3.60" fill="#0b3d02"/><circle cx="89.5" cy="83.5" r="3.35" fill="#0b3d02"/><path d="M103.8,65.6 L110.4,73.4 L116.0,68.8 L109.8,60.8 Z" fill="#0b3d02"/><circle cx="106.8" cy="63.2" r="3.85" fill="#0b3d02"/><circle cx="113.2" cy="71.1" r="3.59" fill="#0b3d02"/><path d="M109.8,72.2 L112.8,81.0 L119.2,79.0 L116.6,70.0 Z" fill="#0b3d02"/><circle cx="113.2" cy="71.1" r="3.59" fill="#0b3d02"/><circle cx="116.0" cy="80.0" r="3.35" fill="#0b3d02"/><path d="M95.2,81.4 L87.8,106.6 L95.2,109.0 L104.1,84.4 Z" fill="#0b3d02"/><circle cx="99.7" cy="82.9" r="4.70" fill="#0b3d02"/><circle cx="91.5" cy="107.8" r="3.85" fill="#0b3d02"/><path d="M100.7,84.6 L111.4,109.2 L118.6,106.4 L109.4,81.2 Z" fill="#0b3d02"/><circle cx="105.1" cy="82.9" r="4.70" fill="#0b3d02"/><circle cx="115.0" cy="107.8" r="3.85" fill="#0b3d02"/><path d="M96.8,61.7 L106.8,61.7 L105.9,75.4 L107.0,83.9 L97.8,83.9 L98.3,75.4 Z" fill="#66cc33" stroke="#66cc33" stroke-width="2.0" stroke-linejoin="round"/><path d="M94.9,62.1 L89.7,71.9 L93.0,73.8 L98.7,64.3 Z" fill="#66cc33"/><circle cx="96.8" cy="63.2" r="2.15" fill="#66cc33"/><circle cx="91.4" cy="72.8" r="1.90" fill="#66cc33"/><path d="M89.5,72.5 L87.9,83.2 L91.1,83.8 L93.2,73.2 Z" fill="#66cc33"/><circle cx="91.4" cy="72.8" r="1.90" fill="#66cc33"/><circle cx="89.5" cy="83.5" r="1.65" fill="#66cc33"/><path d="M105.1,64.6 L111.7,72.3 L114.7,69.9 L108.5,61.8 Z" fill="#66cc33"/><circle cx="106.8" cy="63.2" r="2.15" fill="#66cc33"/><circle cx="113.2" cy="71.1" r="1.89" fill="#66cc33"/><path d="M111.4,71.7 L114.4,80.5 L117.6,79.5 L115.0,70.5 Z" fill="#66cc33"/><circle cx="113.2" cy="71.1" r="1.89" fill="#66cc33"/><circle cx="116.0" cy="80.0" r="1.65" fill="#66cc33"/><path d="M96.8,82.0 L89.5,107.1 L93.5,108.5 L102.5,83.8 Z" fill="#66cc33"/><circle cx="99.7" cy="82.9" r="3.00" fill="#66cc33"/><circle cx="91.5" cy="107.8" r="2.15" fill="#66cc33"/><path d="M102.3,84.0 L113.0,108.6 L117.0,107.0 L107.9,81.8 Z" fill="#66cc33"/><circle cx="105.1" cy="82.9" r="3.00" fill="#66cc33"/><circle cx="115.0" cy="107.8" r="2.15" fill="#66cc33"/><ellipse cx="101.8" cy="50.4" rx="4.5" ry="6.1" fill="#66cc33" stroke="#0b3d02" stroke-width="1.7" transform="rotate(0 101.8 50.4)"/></g>
<g clip-path="url(#top112)"><path d="M226.5,113 L235.3,100.5 L244.6,100.5 L255,113 Z" fill="#66cc33" stroke="#0b3d02" stroke-width="1.6" stroke-linejoin="round"/><ellipse cx="242" cy="92.3" rx="5" ry="6.6" fill="#66cc33" stroke="#0b3d02" stroke-width="1.6" transform="rotate(15 242 92.3)"/></g>
<g><path d="M433.8,73.4 L443.8,73.4 L442.9,87.1 L443.9,95.6 L434.7,95.6 L435.3,87.1 Z" fill="#0b3d02" stroke="#0b3d02" stroke-width="5.4" stroke-linejoin="round"/><path d="M431.3,72.0 L423.8,78.7 L428.4,84.2 L436.3,77.8 Z" fill="#0b3d02"/><circle cx="433.8" cy="74.9" r="3.85" fill="#0b3d02"/><circle cx="426.1" cy="81.5" r="3.58" fill="#0b3d02"/><path d="M423.0,79.7 L419.1,87.4 L424.9,90.6 L429.2,83.2 Z" fill="#0b3d02"/><circle cx="426.1" cy="81.5" r="3.58" fill="#0b3d02"/><circle cx="422.0" cy="89.0" r="3.35" fill="#0b3d02"/><path d="M441.2,77.8 L449.8,85.1 L454.6,79.8 L446.4,72.0 Z" fill="#0b3d02"/><circle cx="443.8" cy="74.9" r="3.85" fill="#0b3d02"/><circle cx="452.2" cy="82.5" r="3.58" fill="#0b3d02"/><path d="M449.1,84.2 L454.1,92.6 L459.9,89.4 L455.3,80.7 Z" fill="#0b3d02"/><circle cx="452.2" cy="82.5" r="3.58" fill="#0b3d02"/><circle cx="457.0" cy="91.0" r="3.35" fill="#0b3d02"/><path d="M432.0,93.8 L428.2,119.1 L435.8,120.5 L441.2,95.4 Z" fill="#0b3d02"/><circle cx="436.6" cy="94.6" r="4.70" fill="#0b3d02"/><circle cx="432.0" cy="119.8" r="3.85" fill="#0b3d02"/><path d="M437.5,95.9 L444.5,116.4 L451.9,114.2 L446.5,93.3 Z" fill="#0b3d02"/><circle cx="442.0" cy="94.6" r="4.70" fill="#0b3d02"/><circle cx="448.2" cy="115.3" r="3.85" fill="#0b3d02"/><path d="M433.8,73.4 L443.8,73.4 L442.9,87.1 L443.9,95.6 L434.7,95.6 L435.3,87.1 Z" fill="#66cc33" stroke="#66cc33" stroke-width="2.0" stroke-linejoin="round"/><path d="M432.4,73.3 L424.9,80.0 L427.3,82.9 L435.2,76.5 Z" fill="#66cc33"/><circle cx="433.8" cy="74.9" r="2.15" fill="#66cc33"/><circle cx="426.1" cy="81.5" r="1.88" fill="#66cc33"/><path d="M424.4,80.6 L420.6,88.2 L423.4,89.8 L427.8,82.3 Z" fill="#66cc33"/><circle cx="426.1" cy="81.5" r="1.88" fill="#66cc33"/><circle cx="422.0" cy="89.0" r="1.65" fill="#66cc33"/><path d="M442.4,76.5 L450.9,83.8 L453.5,81.1 L445.2,73.3 Z" fill="#66cc33"/><circle cx="443.8" cy="74.9" r="2.15" fill="#66cc33"/><circle cx="452.2" cy="82.5" r="1.88" fill="#66cc33"/><path d="M450.6,83.4 L455.6,91.8 L458.4,90.2 L453.8,81.5 Z" fill="#66cc33"/><circle cx="452.2" cy="82.5" r="1.88" fill="#66cc33"/><circle cx="457.0" cy="91.0" r="1.65" fill="#66cc33"/><path d="M433.7,94.1 L429.9,119.4 L434.1,120.2 L439.6,95.1 Z" fill="#66cc33"/><circle cx="436.6" cy="94.6" r="3.00" fill="#66cc33"/><circle cx="432.0" cy="119.8" r="2.15" fill="#66cc33"/><path d="M439.1,95.5 L446.1,115.9 L450.3,114.7 L444.9,93.7 Z" fill="#66cc33"/><circle cx="442.0" cy="94.6" r="3.00" fill="#66cc33"/><circle cx="448.2" cy="115.3" r="2.15" fill="#66cc33"/><ellipse cx="438.8" cy="62.1" rx="4.5" ry="6.1" fill="#66cc33" stroke="#0b3d02" stroke-width="1.7" transform="rotate(0 438.8 62.1)"/></g>
<g><path d="M458.0,186.8 L468.0,186.8 L466.6,200.5 L467.2,209.0 L458.0,209.0 L459.0,200.5 Z" fill="#0b3d02" stroke="#0b3d02" stroke-width="5.4" stroke-linejoin="round"/><path d="M455.3,185.5 L447.4,193.6 L452.5,198.7 L460.7,191.1 Z" fill="#0b3d02"/><circle cx="458.0" cy="188.3" r="3.85" fill="#0b3d02"/><circle cx="449.9" cy="196.2" r="3.58" fill="#0b3d02"/><path d="M446.7,194.5 L442.5,203.5 L448.5,206.5 L453.2,197.8 Z" fill="#0b3d02"/><circle cx="449.9" cy="196.2" r="3.58" fill="#0b3d02"/><circle cx="445.5" cy="205.0" r="3.35" fill="#0b3d02"/><path d="M467.2,192.1 L476.5,193.9 L478.1,186.9 L468.8,184.5 Z" fill="#0b3d02"/><circle cx="468.0" cy="188.3" r="3.85" fill="#0b3d02"/><circle cx="477.3" cy="190.4" r="3.55" fill="#0b3d02"/><path d="M475.6,193.5 L481.4,196.4 L484.6,190.6 L479.0,187.3 Z" fill="#0b3d02"/><circle cx="477.3" cy="190.4" r="3.55" fill="#0b3d02"/><circle cx="483.0" cy="193.5" r="3.35" fill="#0b3d02"/><path d="M455.4,206.8 L450.9,226.3 L458.3,228.3 L464.5,209.2 Z" fill="#0b3d02"/><circle cx="459.9" cy="208.0" r="4.70" fill="#0b3d02"/><circle cx="454.6" cy="227.3" r="3.85" fill="#0b3d02"/><path d="M460.7,208.8 L465.7,233.4 L473.3,232.2 L470.0,207.2 Z" fill="#0b3d02"/><circle cx="465.3" cy="208.0" r="4.70" fill="#0b3d02"/><circle cx="469.5" cy="232.8" r="3.85" fill="#0b3d02"/><path d="M458.0,186.8 L468.0,186.8 L466.6,200.5 L467.2,209.0 L458.0,209.0 L459.0,200.5 Z" fill="#66cc33" stroke="#66cc33" stroke-width="2.0" stroke-linejoin="round"/><path d="M456.5,186.8 L448.6,194.8 L451.3,197.5 L459.5,189.8 Z" fill="#66cc33"/><circle cx="458.0" cy="188.3" r="2.15" fill="#66cc33"/><circle cx="449.9" cy="196.2" r="1.88" fill="#66cc33"/><path d="M448.3,195.3 L444.0,204.3 L447.0,205.7 L451.6,197.0 Z" fill="#66cc33"/><circle cx="449.9" cy="196.2" r="1.88" fill="#66cc33"/><circle cx="445.5" cy="205.0" r="1.65" fill="#66cc33"/><path d="M467.5,190.4 L476.9,192.2 L477.7,188.6 L468.5,186.2 Z" fill="#66cc33"/><circle cx="468.0" cy="188.3" r="2.15" fill="#66cc33"/><circle cx="477.3" cy="190.4" r="1.85" fill="#66cc33"/><path d="M476.4,192.0 L482.2,194.9 L483.8,192.1 L478.2,188.8 Z" fill="#66cc33"/><circle cx="477.3" cy="190.4" r="1.85" fill="#66cc33"/><circle cx="483.0" cy="193.5" r="1.65" fill="#66cc33"/><path d="M457.0,207.2 L452.5,226.7 L456.7,227.9 L462.8,208.8 Z" fill="#66cc33"/><circle cx="459.9" cy="208.0" r="3.00" fill="#66cc33"/><circle cx="454.6" cy="227.3" r="2.15" fill="#66cc33"/><path d="M462.4,208.5 L467.4,233.2 L471.6,232.4 L468.3,207.5 Z" fill="#66cc33"/><circle cx="465.3" cy="208.0" r="3.00" fill="#66cc33"/><circle cx="469.5" cy="232.8" r="2.15" fill="#66cc33"/><ellipse cx="463.0" cy="175.5" rx="4.5" ry="6.1" fill="#66cc33" stroke="#0b3d02" stroke-width="1.7" transform="rotate(0 463.0 175.5)"/></g>
<g><path d="M96.2,323.4 L106.2,323.4 L105.2,337.1 L106.2,345.6 L97.0,345.6 L97.6,337.1 Z" fill="#0b3d02" stroke="#0b3d02" stroke-width="5.4" stroke-linejoin="round"/><path d="M93.3,322.4 L86.9,330.1 L92.2,334.8 L99.1,327.4 Z" fill="#0b3d02"/><circle cx="96.2" cy="324.9" r="3.85" fill="#0b3d02"/><circle cx="89.5" cy="332.5" r="3.59" fill="#0b3d02"/><path d="M86.2,331.2 L83.3,339.9 L89.7,342.1 L92.9,333.7 Z" fill="#0b3d02"/><circle cx="89.5" cy="332.5" r="3.59" fill="#0b3d02"/><circle cx="86.5" cy="341.0" r="3.35" fill="#0b3d02"/><path d="M103.1,327.1 L108.3,334.0 L114.1,329.9 L109.3,322.7 Z" fill="#0b3d02"/><circle cx="106.2" cy="324.9" r="3.85" fill="#0b3d02"/><circle cx="111.2" cy="332.0" r="3.59" fill="#0b3d02"/><path d="M107.7,332.6 L109.3,340.6 L115.9,339.4 L114.7,331.3 Z" fill="#0b3d02"/><circle cx="111.2" cy="332.0" r="3.59" fill="#0b3d02"/><circle cx="112.6" cy="340.0" r="3.35" fill="#0b3d02"/><path d="M94.2,344.2 L92.8,367.9 L100.4,368.7 L103.5,345.0 Z" fill="#0b3d02"/><circle cx="98.9" cy="344.6" r="4.70" fill="#0b3d02"/><circle cx="96.6" cy="368.3" r="3.85" fill="#0b3d02"/><path d="M99.6,345.3 L103.8,368.8 L111.4,367.8 L108.9,343.9 Z" fill="#0b3d02"/><circle cx="104.3" cy="344.6" r="4.70" fill="#0b3d02"/><circle cx="107.6" cy="368.3" r="3.85" fill="#0b3d02"/><path d="M96.2,323.4 L106.2,323.4 L105.2,337.1 L106.2,345.6 L97.0,345.6 L97.6,337.1 Z" fill="#66cc33" stroke="#66cc33" stroke-width="2.0" stroke-linejoin="round"/><path d="M94.6,323.5 L88.1,331.2 L91.0,333.7 L97.8,326.3 Z" fill="#66cc33"/><circle cx="96.2" cy="324.9" r="2.15" fill="#66cc33"/><circle cx="89.5" cy="332.5" r="1.89" fill="#66cc33"/><path d="M87.8,331.8 L84.9,340.4 L88.1,341.6 L91.3,333.1 Z" fill="#66cc33"/><circle cx="89.5" cy="332.5" r="1.89" fill="#66cc33"/><circle cx="86.5" cy="341.0" r="1.65" fill="#66cc33"/><path d="M104.4,326.1 L109.7,333.0 L112.7,330.9 L108.0,323.7 Z" fill="#66cc33"/><circle cx="106.2" cy="324.9" r="2.15" fill="#66cc33"/><circle cx="111.2" cy="332.0" r="1.89" fill="#66cc33"/><path d="M109.3,332.3 L111.0,340.3 L114.2,339.7 L113.1,331.6 Z" fill="#66cc33"/><circle cx="111.2" cy="332.0" r="1.89" fill="#66cc33"/><circle cx="112.6" cy="340.0" r="1.65" fill="#66cc33"/><path d="M95.9,344.3 L94.5,368.1 L98.7,368.5 L101.8,344.9 Z" fill="#66cc33"/><circle cx="98.9" cy="344.6" r="3.00" fill="#66cc33"/><circle cx="96.6" cy="368.3" r="2.15" fill="#66cc33"/><path d="M101.3,345.0 L105.5,368.6 L109.7,368.0 L107.2,344.2 Z" fill="#66cc33"/><circle cx="104.3" cy="344.6" r="3.00" fill="#66cc33"/><circle cx="107.6" cy="368.3" r="2.15" fill="#66cc33"/><ellipse cx="101.2" cy="312.1" rx="4.5" ry="6.1" fill="#66cc33" stroke="#0b3d02" stroke-width="1.7" transform="rotate(0 101.2 312.1)"/></g>
<g clip-path="url(#ab374)"><path d="M171.0,325.8 L180.3,325.8 L179.8,349.0 L171.0,349.0 Z" fill="#0b3d02" stroke="#0b3d02" stroke-width="5.4" stroke-linejoin="round"/><path d="M176.7,329.0 L180.3,336.9 L186.9,334.1 L183.7,326.0 Z" fill="#0b3d02"/><circle cx="180.2" cy="327.5" r="3.85" fill="#0b3d02"/><circle cx="183.6" cy="335.5" r="3.59" fill="#0b3d02"/><path d="M181.0,338.0 L186.8,343.6 L191.6,339.0 L186.2,333.0 Z" fill="#0b3d02"/><circle cx="183.6" cy="335.5" r="3.59" fill="#0b3d02"/><circle cx="189.2" cy="341.3" r="3.35" fill="#0b3d02"/><path d="M173.0,350.0 L177.1,357.8 L184.9,354.2 L181.4,346.0 Z" fill="#0b3d02"/><circle cx="177.2" cy="348.0" r="4.70" fill="#0b3d02"/><circle cx="181.0" cy="356.0" r="4.30" fill="#0b3d02"/><path d="M177.2,357.9 L182.1,366.7 L188.9,363.3 L184.8,354.1 Z" fill="#0b3d02"/><circle cx="181.0" cy="356.0" r="4.30" fill="#0b3d02"/><circle cx="185.5" cy="365.0" r="3.85" fill="#0b3d02"/><path d="M168.6,347.2 L167.3,357.3 L175.7,358.7 L177.8,348.8 Z" fill="#0b3d02"/><circle cx="173.2" cy="348.0" r="4.70" fill="#0b3d02"/><circle cx="171.5" cy="358.0" r="4.23" fill="#0b3d02"/><path d="M167.3,357.2 L166.2,365.3 L173.8,366.7 L175.7,358.8 Z" fill="#0b3d02"/><circle cx="171.5" cy="358.0" r="4.23" fill="#0b3d02"/><circle cx="170.0" cy="366.0" r="3.85" fill="#0b3d02"/><path d="M171.0,325.8 L180.3,325.8 L179.8,349.0 L171.0,349.0 Z" fill="#66cc33" stroke="#66cc33" stroke-width="2.0" stroke-linejoin="round"/><path d="M178.2,328.3 L181.9,336.2 L185.3,334.8 L182.2,326.7 Z" fill="#66cc33"/><circle cx="180.2" cy="327.5" r="2.15" fill="#66cc33"/><circle cx="183.6" cy="335.5" r="1.89" fill="#66cc33"/><path d="M182.2,336.8 L188.0,342.4 L190.4,340.2 L185.0,334.2 Z" fill="#66cc33"/><circle cx="183.6" cy="335.5" r="1.89" fill="#66cc33"/><circle cx="189.2" cy="341.3" r="1.65" fill="#66cc33"/><path d="M174.5,349.3 L178.6,357.1 L183.4,354.9 L179.9,346.7 Z" fill="#66cc33"/><circle cx="177.2" cy="348.0" r="3.00" fill="#66cc33"/><circle cx="181.0" cy="356.0" r="2.60" fill="#66cc33"/><path d="M178.7,357.2 L183.6,366.0 L187.4,364.0 L183.3,354.8 Z" fill="#66cc33"/><circle cx="181.0" cy="356.0" r="2.60" fill="#66cc33"/><circle cx="185.5" cy="365.0" r="2.15" fill="#66cc33"/><path d="M170.2,347.5 L169.0,357.6 L174.0,358.4 L176.2,348.5 Z" fill="#66cc33"/><circle cx="173.2" cy="348.0" r="3.00" fill="#66cc33"/><circle cx="171.5" cy="358.0" r="2.53" fill="#66cc33"/><path d="M169.0,357.5 L167.9,365.6 L172.1,366.4 L174.0,358.5 Z" fill="#66cc33"/><circle cx="171.5" cy="358.0" r="2.53" fill="#66cc33"/><circle cx="170.0" cy="366.0" r="2.15" fill="#66cc33"/><ellipse cx="178.5" cy="314.1" rx="4.5" ry="6.1" fill="#66cc33" stroke="#0b3d02" stroke-width="1.7" transform="rotate(0 178.5 314.1)"/></g>
<g clip-path="url(#ab502)"><path d="M291.2,418.1 L301.2,418.1 L300.1,431.8 L300.9,440.3 L291.7,440.3 L292.5,431.8 Z" fill="#0b3d02" stroke="#0b3d02" stroke-width="5.4" stroke-linejoin="round"/><path d="M288.3,417.1 L282.0,425.0 L287.4,429.6 L294.1,422.1 Z" fill="#0b3d02"/><circle cx="291.2" cy="419.6" r="3.85" fill="#0b3d02"/><circle cx="284.7" cy="427.3" r="3.59" fill="#0b3d02"/><path d="M281.3,426.2 L278.6,434.9 L285.0,437.1 L288.1,428.4 Z" fill="#0b3d02"/><circle cx="284.7" cy="427.3" r="3.59" fill="#0b3d02"/><circle cx="281.8" cy="436.0" r="3.35" fill="#0b3d02"/><path d="M298.2,422.0 L303.8,428.6 L309.4,424.0 L304.2,417.2 Z" fill="#0b3d02"/><circle cx="301.2" cy="419.6" r="3.85" fill="#0b3d02"/><circle cx="306.6" cy="426.3" r="3.59" fill="#0b3d02"/><path d="M303.1,427.1 L305.1,434.8 L311.7,433.2 L310.1,425.5 Z" fill="#0b3d02"/><circle cx="306.6" cy="426.3" r="3.59" fill="#0b3d02"/><circle cx="308.4" cy="434.0" r="3.35" fill="#0b3d02"/><path d="M288.9,438.9 L288.2,459.5 L295.8,460.1 L298.3,439.7 Z" fill="#0b3d02"/><circle cx="293.6" cy="439.3" r="4.70" fill="#0b3d02"/><circle cx="292.0" cy="459.8" r="3.85" fill="#0b3d02"/><path d="M294.3,439.8 L297.2,460.2 L304.8,459.4 L303.7,438.8 Z" fill="#0b3d02"/><circle cx="299.0" cy="439.3" r="4.70" fill="#0b3d02"/><circle cx="301.0" cy="459.8" r="3.85" fill="#0b3d02"/><path d="M291.2,418.1 L301.2,418.1 L300.1,431.8 L300.9,440.3 L291.7,440.3 L292.5,431.8 Z" fill="#66cc33" stroke="#66cc33" stroke-width="2.0" stroke-linejoin="round"/><path d="M289.6,418.2 L283.3,426.1 L286.1,428.5 L292.8,421.0 Z" fill="#66cc33"/><circle cx="291.2" cy="419.6" r="2.15" fill="#66cc33"/><circle cx="284.7" cy="427.3" r="1.89" fill="#66cc33"/><path d="M282.9,426.7 L280.2,435.5 L283.4,436.5 L286.5,427.9 Z" fill="#66cc33"/><circle cx="284.7" cy="427.3" r="1.89" fill="#66cc33"/><circle cx="281.8" cy="436.0" r="1.65" fill="#66cc33"/><path d="M299.5,420.9 L305.1,427.5 L308.1,425.1 L302.9,418.3 Z" fill="#66cc33"/><circle cx="301.2" cy="419.6" r="2.15" fill="#66cc33"/><circle cx="306.6" cy="426.3" r="1.89" fill="#66cc33"/><path d="M304.8,426.7 L306.8,434.4 L310.0,433.6 L308.4,425.9 Z" fill="#66cc33"/><circle cx="306.6" cy="426.3" r="1.89" fill="#66cc33"/><circle cx="308.4" cy="434.0" r="1.65" fill="#66cc33"/><path d="M290.6,439.1 L289.9,459.6 L294.1,460.0 L296.6,439.5 Z" fill="#66cc33"/><circle cx="293.6" cy="439.3" r="3.00" fill="#66cc33"/><circle cx="292.0" cy="459.8" r="2.15" fill="#66cc33"/><path d="M296.0,439.6 L298.9,460.0 L303.1,459.6 L302.0,439.0 Z" fill="#66cc33"/><circle cx="299.0" cy="439.3" r="3.00" fill="#66cc33"/><circle cx="301.0" cy="459.8" r="2.15" fill="#66cc33"/><ellipse cx="296.2" cy="406.8" rx="4.5" ry="6.1" fill="#66cc33" stroke="#0b3d02" stroke-width="1.7" transform="rotate(0 296.2 406.8)"/></g>
<g clip-path="url(#ab502)"><path d="M215.9,455.5 L225.9,455.5 L224.8,469.2 L225.7,477.7 L216.5,477.7 L217.2,469.2 Z" fill="#0b3d02" stroke="#0b3d02" stroke-width="5.4" stroke-linejoin="round"/><path d="M213.0,454.5 L207.2,461.7 L212.6,466.3 L218.8,459.5 Z" fill="#0b3d02"/><circle cx="215.9" cy="457.0" r="3.85" fill="#0b3d02"/><circle cx="209.9" cy="464.0" r="3.59" fill="#0b3d02"/><path d="M206.5,463.0 L204.3,471.0 L210.7,473.0 L213.3,465.0 Z" fill="#0b3d02"/><circle cx="209.9" cy="464.0" r="3.59" fill="#0b3d02"/><circle cx="207.5" cy="472.0" r="3.35" fill="#0b3d02"/><path d="M223.3,459.8 L229.8,465.6 L234.7,460.4 L228.5,454.2 Z" fill="#0b3d02"/><circle cx="225.9" cy="457.0" r="3.85" fill="#0b3d02"/><circle cx="232.2" cy="463.0" r="3.58" fill="#0b3d02"/><path d="M228.9,464.3 L231.9,471.2 L238.1,468.8 L235.6,461.7 Z" fill="#0b3d02"/><circle cx="232.2" cy="463.0" r="3.58" fill="#0b3d02"/><circle cx="235.0" cy="470.0" r="3.35" fill="#0b3d02"/><path d="M213.8,476.2 L212.2,497.4 L219.8,498.2 L223.1,477.2 Z" fill="#0b3d02"/><circle cx="218.4" cy="476.7" r="4.70" fill="#0b3d02"/><circle cx="216.0" cy="497.8" r="3.85" fill="#0b3d02"/><path d="M219.2,477.4 L223.2,498.4 L230.8,497.2 L228.5,476.0 Z" fill="#0b3d02"/><circle cx="223.8" cy="476.7" r="4.70" fill="#0b3d02"/><circle cx="227.0" cy="497.8" r="3.85" fill="#0b3d02"/><path d="M215.9,455.5 L225.9,455.5 L224.8,469.2 L225.7,477.7 L216.5,477.7 L217.2,469.2 Z" fill="#66cc33" stroke="#66cc33" stroke-width="2.0" stroke-linejoin="round"/><path d="M214.3,455.6 L208.5,462.8 L211.3,465.2 L217.5,458.4 Z" fill="#66cc33"/><circle cx="215.9" cy="457.0" r="2.15" fill="#66cc33"/><circle cx="209.9" cy="464.0" r="1.89" fill="#66cc33"/><path d="M208.1,463.5 L205.9,471.5 L209.1,472.5 L211.7,464.5 Z" fill="#66cc33"/><circle cx="209.9" cy="464.0" r="1.89" fill="#66cc33"/><circle cx="207.5" cy="472.0" r="1.65" fill="#66cc33"/><path d="M224.4,458.6 L231.0,464.4 L233.5,461.6 L227.4,455.4 Z" fill="#66cc33"/><circle cx="225.9" cy="457.0" r="2.15" fill="#66cc33"/><circle cx="232.2" cy="463.0" r="1.88" fill="#66cc33"/><path d="M230.5,463.7 L233.5,470.6 L236.5,469.4 L234.0,462.3 Z" fill="#66cc33"/><circle cx="232.2" cy="463.0" r="1.88" fill="#66cc33"/><circle cx="235.0" cy="470.0" r="1.65" fill="#66cc33"/><path d="M215.5,476.4 L213.9,497.6 L218.1,498.0 L221.4,477.0 Z" fill="#66cc33"/><circle cx="218.4" cy="476.7" r="3.00" fill="#66cc33"/><circle cx="216.0" cy="497.8" r="2.15" fill="#66cc33"/><path d="M220.9,477.1 L224.9,498.1 L229.1,497.5 L226.8,476.3 Z" fill="#66cc33"/><circle cx="223.8" cy="476.7" r="3.00" fill="#66cc33"/><circle cx="227.0" cy="497.8" r="2.15" fill="#66cc33"/><ellipse cx="220.9" cy="444.2" rx="4.5" ry="6.1" fill="#66cc33" stroke="#0b3d02" stroke-width="1.7" transform="rotate(0 220.9 444.2)"/></g>
<g clip-path="url(#be635)"><path d="M414.2,564.1 L424.2,564.1 L422.4,577.8 L422.7,586.3 L413.5,586.3 L414.8,577.8 Z" fill="#0b3d02" stroke="#0b3d02" stroke-width="5.4" stroke-linejoin="round"/><path d="M412.6,562.1 L406.3,565.3 L409.3,571.8 L415.8,569.1 Z" fill="#0b3d02"/><circle cx="414.2" cy="565.6" r="3.85" fill="#0b3d02"/><circle cx="407.8" cy="568.5" r="3.55" fill="#0b3d02"/><path d="M404.9,566.5 L402.3,570.6 L407.7,574.4 L410.7,570.6 Z" fill="#0b3d02"/><circle cx="407.8" cy="568.5" r="3.55" fill="#0b3d02"/><circle cx="405.0" cy="572.5" r="3.35" fill="#0b3d02"/><path d="M421.1,567.9 L427.3,575.7 L433.1,571.4 L427.3,563.3 Z" fill="#0b3d02"/><circle cx="424.2" cy="565.6" r="3.85" fill="#0b3d02"/><circle cx="430.2" cy="573.5" r="3.59" fill="#0b3d02"/><path d="M426.7,574.5 L429.4,583.4 L435.8,581.6 L433.7,572.6 Z" fill="#0b3d02"/><circle cx="430.2" cy="573.5" r="3.59" fill="#0b3d02"/><circle cx="432.6" cy="582.5" r="3.35" fill="#0b3d02"/><path d="M410.9,583.7 L406.7,598.5 L413.9,601.1 L419.8,586.9 Z" fill="#0b3d02"/><circle cx="415.4" cy="585.3" r="4.70" fill="#0b3d02"/><circle cx="410.3" cy="599.8" r="3.85" fill="#0b3d02"/><path d="M416.1,585.7 L418.7,606.1 L426.3,605.5 L425.5,584.9 Z" fill="#0b3d02"/><circle cx="420.8" cy="585.3" r="4.70" fill="#0b3d02"/><circle cx="422.5" cy="605.8" r="3.85" fill="#0b3d02"/><path d="M414.2,564.1 L424.2,564.1 L422.4,577.8 L422.7,586.3 L413.5,586.3 L414.8,577.8 Z" fill="#66cc33" stroke="#66cc33" stroke-width="2.0" stroke-linejoin="round"/><path d="M413.3,563.6 L407.0,566.9 L408.6,570.2 L415.1,567.6 Z" fill="#66cc33"/><circle cx="414.2" cy="565.6" r="2.15" fill="#66cc33"/><circle cx="407.8" cy="568.5" r="1.85" fill="#66cc33"/><path d="M406.3,567.5 L403.7,571.5 L406.3,573.5 L409.3,569.6 Z" fill="#66cc33"/><circle cx="407.8" cy="568.5" r="1.85" fill="#66cc33"/><circle cx="405.0" cy="572.5" r="1.65" fill="#66cc33"/><path d="M422.5,566.9 L428.7,574.7 L431.7,572.4 L425.9,564.3 Z" fill="#66cc33"/><circle cx="424.2" cy="565.6" r="2.15" fill="#66cc33"/><circle cx="430.2" cy="573.5" r="1.89" fill="#66cc33"/><path d="M428.4,574.0 L431.0,582.9 L434.2,582.1 L432.0,573.1 Z" fill="#66cc33"/><circle cx="430.2" cy="573.5" r="1.89" fill="#66cc33"/><circle cx="432.6" cy="582.5" r="1.65" fill="#66cc33"/><path d="M412.5,584.3 L408.3,599.1 L412.3,600.5 L418.2,586.3 Z" fill="#66cc33"/><circle cx="415.4" cy="585.3" r="3.00" fill="#66cc33"/><circle cx="410.3" cy="599.8" r="2.15" fill="#66cc33"/><path d="M417.8,585.6 L420.4,606.0 L424.6,605.6 L423.8,585.0 Z" fill="#66cc33"/><circle cx="420.8" cy="585.3" r="3.00" fill="#66cc33"/><circle cx="422.5" cy="605.8" r="2.15" fill="#66cc33"/><ellipse cx="419.2" cy="552.8" rx="4.5" ry="6.1" fill="#66cc33" stroke="#0b3d02" stroke-width="1.7" transform="rotate(0 419.2 552.8)"/></g>
<g><path d="M499.8,585.1 L509.8,585.1 L509.1,598.8 L510.4,607.3 L501.2,607.3 L501.5,598.8 Z" fill="#0b3d02" stroke="#0b3d02" stroke-width="5.4" stroke-linejoin="round"/><path d="M496.5,584.6 L492.3,592.2 L498.4,595.9 L503.1,588.6 Z" fill="#0b3d02"/><circle cx="499.8" cy="586.6" r="3.85" fill="#0b3d02"/><circle cx="495.3" cy="594.0" r="3.60" fill="#0b3d02"/><path d="M491.8,593.7 L491.2,602.2 L497.8,602.8 L498.9,594.4 Z" fill="#0b3d02"/><circle cx="495.3" cy="594.0" r="3.60" fill="#0b3d02"/><circle cx="494.5" cy="602.5" r="3.35" fill="#0b3d02"/><path d="M506.8,589.0 L513.9,597.7 L519.5,593.4 L512.8,584.2 Z" fill="#0b3d02"/><circle cx="509.8" cy="586.6" r="3.85" fill="#0b3d02"/><circle cx="516.7" cy="595.5" r="3.59" fill="#0b3d02"/><path d="M513.3,596.7 L516.8,606.6 L523.2,604.4 L520.1,594.4 Z" fill="#0b3d02"/><circle cx="516.7" cy="595.5" r="3.59" fill="#0b3d02"/><circle cx="520.0" cy="605.5" r="3.35" fill="#0b3d02"/><path d="M498.6,605.1 L493.1,628.3 L500.5,630.3 L507.6,607.5 Z" fill="#0b3d02"/><circle cx="503.1" cy="606.3" r="4.70" fill="#0b3d02"/><circle cx="496.8" cy="629.3" r="3.85" fill="#0b3d02"/><path d="M504.2,608.2 L514.3,628.7 L521.3,625.5 L512.8,604.4 Z" fill="#0b3d02"/><circle cx="508.5" cy="606.3" r="4.70" fill="#0b3d02"/><circle cx="517.8" cy="627.1" r="3.85" fill="#0b3d02"/><path d="M499.8,585.1 L509.8,585.1 L509.1,598.8 L510.4,607.3 L501.2,607.3 L501.5,598.8 Z" fill="#66cc33" stroke="#66cc33" stroke-width="2.0" stroke-linejoin="round"/><path d="M498.0,585.5 L493.7,593.1 L497.0,595.0 L501.6,587.7 Z" fill="#66cc33"/><circle cx="499.8" cy="586.6" r="2.15" fill="#66cc33"/><circle cx="495.3" cy="594.0" r="1.90" fill="#66cc33"/><path d="M493.5,593.9 L492.9,602.3 L496.1,602.7 L497.2,594.2 Z" fill="#66cc33"/><circle cx="495.3" cy="594.0" r="1.90" fill="#66cc33"/><circle cx="494.5" cy="602.5" r="1.65" fill="#66cc33"/><path d="M508.1,587.9 L515.2,596.7 L518.2,594.4 L511.5,585.3 Z" fill="#66cc33"/><circle cx="509.8" cy="586.6" r="2.15" fill="#66cc33"/><circle cx="516.7" cy="595.5" r="1.89" fill="#66cc33"/><path d="M514.9,596.1 L518.4,606.0 L521.6,605.0 L518.5,595.0 Z" fill="#66cc33"/><circle cx="516.7" cy="595.5" r="1.89" fill="#66cc33"/><circle cx="520.0" cy="605.5" r="1.65" fill="#66cc33"/><path d="M500.2,605.5 L494.7,628.7 L498.9,629.9 L506.0,607.1 Z" fill="#66cc33"/><circle cx="503.1" cy="606.3" r="3.00" fill="#66cc33"/><circle cx="496.8" cy="629.3" r="2.15" fill="#66cc33"/><path d="M505.8,607.5 L515.8,628.0 L519.8,626.2 L511.2,605.1 Z" fill="#66cc33"/><circle cx="508.5" cy="606.3" r="3.00" fill="#66cc33"/><circle cx="517.8" cy="627.1" r="2.15" fill="#66cc33"/><ellipse cx="504.8" cy="573.8" rx="4.5" ry="6.1" fill="#66cc33" stroke="#0b3d02" stroke-width="1.7" transform="rotate(0 504.8 573.8)"/></g>
<g><path d="M632.8,584.0 L642.8,584.0 L641.2,597.7 L641.5,606.2 L632.3,606.2 L633.6,597.7 Z" fill="#0b3d02" stroke="#0b3d02" stroke-width="5.4" stroke-linejoin="round"/><path d="M629.8,583.1 L623.8,591.3 L629.4,595.7 L635.8,587.9 Z" fill="#0b3d02"/><circle cx="632.8" cy="585.5" r="3.85" fill="#0b3d02"/><circle cx="626.6" cy="593.5" r="3.59" fill="#0b3d02"/><path d="M623.2,592.5 L620.8,601.6 L627.2,603.4 L630.0,594.5 Z" fill="#0b3d02"/><circle cx="626.6" cy="593.5" r="3.59" fill="#0b3d02"/><circle cx="624.0" cy="602.5" r="3.35" fill="#0b3d02"/><path d="M639.4,587.3 L644.8,596.7 L651.1,593.3 L646.2,583.7 Z" fill="#0b3d02"/><circle cx="642.8" cy="585.5" r="3.85" fill="#0b3d02"/><circle cx="647.9" cy="595.0" r="3.60" fill="#0b3d02"/><path d="M644.4,595.5 L646.2,606.0 L652.8,605.0 L651.5,594.5 Z" fill="#0b3d02"/><circle cx="647.9" cy="595.0" r="3.60" fill="#0b3d02"/><circle cx="649.5" cy="605.5" r="3.35" fill="#0b3d02"/><path d="M629.9,603.4 L620.5,627.8 L627.5,630.8 L638.5,607.0 Z" fill="#0b3d02"/><circle cx="634.2" cy="605.2" r="4.70" fill="#0b3d02"/><circle cx="624.0" cy="629.3" r="3.85" fill="#0b3d02"/><path d="M635.2,606.7 L643.5,629.3 L650.9,626.9 L644.1,603.7 Z" fill="#0b3d02"/><circle cx="639.6" cy="605.2" r="4.70" fill="#0b3d02"/><circle cx="647.2" cy="628.1" r="3.85" fill="#0b3d02"/><path d="M632.8,584.0 L642.8,584.0 L641.2,597.7 L641.5,606.2 L632.3,606.2 L633.6,597.7 Z" fill="#66cc33" stroke="#66cc33" stroke-width="2.0" stroke-linejoin="round"/><path d="M631.1,584.2 L625.1,592.3 L628.1,594.7 L634.5,586.8 Z" fill="#66cc33"/><circle cx="632.8" cy="585.5" r="2.15" fill="#66cc33"/><circle cx="626.6" cy="593.5" r="1.89" fill="#66cc33"/><path d="M624.8,593.0 L622.4,602.0 L625.6,603.0 L628.4,594.0 Z" fill="#66cc33"/><circle cx="626.6" cy="593.5" r="1.89" fill="#66cc33"/><circle cx="624.0" cy="602.5" r="1.65" fill="#66cc33"/><path d="M640.9,586.5 L646.3,595.9 L649.6,594.1 L644.7,584.5 Z" fill="#66cc33"/><circle cx="642.8" cy="585.5" r="2.15" fill="#66cc33"/><circle cx="647.9" cy="595.0" r="1.90" fill="#66cc33"/><path d="M646.1,595.3 L647.9,605.7 L651.1,605.3 L649.8,594.7 Z" fill="#66cc33"/><circle cx="647.9" cy="595.0" r="1.90" fill="#66cc33"/><circle cx="649.5" cy="605.5" r="1.65" fill="#66cc33"/><path d="M631.5,604.0 L622.0,628.5 L626.0,630.1 L637.0,606.4 Z" fill="#66cc33"/><circle cx="634.2" cy="605.2" r="3.00" fill="#66cc33"/><circle cx="624.0" cy="629.3" r="2.15" fill="#66cc33"/><path d="M636.8,606.1 L645.2,628.8 L649.2,627.4 L642.5,604.3 Z" fill="#66cc33"/><circle cx="639.6" cy="605.2" r="3.00" fill="#66cc33"/><circle cx="647.2" cy="628.1" r="2.15" fill="#66cc33"/><ellipse cx="637.8" cy="572.7" rx="4.5" ry="6.1" fill="#66cc33" stroke="#0b3d02" stroke-width="1.7" transform="rotate(0 637.8 572.7)"/></g>
<g><path d="M368.6,773.2 L378.6,773.2 L378.0,786.9 L379.3,795.4 L370.1,795.4 L370.4,786.9 Z" fill="#0b3d02" stroke="#0b3d02" stroke-width="5.4" stroke-linejoin="round"/><path d="M365.9,771.9 L359.3,778.8 L364.2,783.9 L371.3,777.5 Z" fill="#0b3d02"/><circle cx="368.6" cy="774.7" r="3.85" fill="#0b3d02"/><circle cx="361.8" cy="781.3" r="3.58" fill="#0b3d02"/><path d="M358.5,779.9 L355.4,787.7 L361.6,790.3 L365.0,782.8 Z" fill="#0b3d02"/><circle cx="361.8" cy="781.3" r="3.58" fill="#0b3d02"/><circle cx="358.5" cy="789.0" r="3.35" fill="#0b3d02"/><path d="M376.6,778.0 L385.2,782.9 L389.0,776.8 L380.6,771.4 Z" fill="#0b3d02"/><circle cx="378.6" cy="774.7" r="3.85" fill="#0b3d02"/><circle cx="387.1" cy="779.8" r="3.57" fill="#0b3d02"/><path d="M384.3,782.1 L389.4,788.1 L394.6,783.9 L389.9,777.6 Z" fill="#0b3d02"/><circle cx="387.1" cy="779.8" r="3.57" fill="#0b3d02"/><circle cx="392.0" cy="786.0" r="3.35" fill="#0b3d02"/><path d="M367.3,793.9 L366.2,815.0 L373.8,815.8 L376.7,794.9 Z" fill="#0b3d02"/><circle cx="372.0" cy="794.4" r="4.70" fill="#0b3d02"/><circle cx="370.0" cy="815.4" r="3.85" fill="#0b3d02"/><path d="M373.0,795.9 L379.2,811.6 L386.4,809.2 L381.9,792.9 Z" fill="#0b3d02"/><circle cx="377.4" cy="794.4" r="4.70" fill="#0b3d02"/><circle cx="382.8" cy="810.4" r="3.85" fill="#0b3d02"/><path d="M368.6,773.2 L378.6,773.2 L378.0,786.9 L379.3,795.4 L370.1,795.4 L370.4,786.9 Z" fill="#66cc33" stroke="#66cc33" stroke-width="2.0" stroke-linejoin="round"/><path d="M367.1,773.2 L360.4,780.0 L363.1,782.7 L370.1,776.2 Z" fill="#66cc33"/><circle cx="368.6" cy="774.7" r="2.15" fill="#66cc33"/><circle cx="361.8" cy="781.3" r="1.88" fill="#66cc33"/><path d="M360.0,780.6 L357.0,788.4 L360.0,789.6 L363.5,782.1 Z" fill="#66cc33"/><circle cx="361.8" cy="781.3" r="1.88" fill="#66cc33"/><circle cx="358.5" cy="789.0" r="1.65" fill="#66cc33"/><path d="M377.5,776.5 L386.1,781.5 L388.1,778.2 L379.7,772.9 Z" fill="#66cc33"/><circle cx="378.6" cy="774.7" r="2.15" fill="#66cc33"/><circle cx="387.1" cy="779.8" r="1.87" fill="#66cc33"/><path d="M385.6,781.0 L390.7,787.0 L393.3,785.0 L388.6,778.7 Z" fill="#66cc33"/><circle cx="387.1" cy="779.8" r="1.87" fill="#66cc33"/><circle cx="392.0" cy="786.0" r="1.65" fill="#66cc33"/><path d="M369.0,794.1 L367.9,815.2 L372.1,815.6 L375.0,794.7 Z" fill="#66cc33"/><circle cx="372.0" cy="794.4" r="3.00" fill="#66cc33"/><circle cx="370.0" cy="815.4" r="2.15" fill="#66cc33"/><path d="M374.6,795.4 L380.8,811.1 L384.8,809.7 L380.3,793.4 Z" fill="#66cc33"/><circle cx="377.4" cy="794.4" r="3.00" fill="#66cc33"/><circle cx="382.8" cy="810.4" r="2.15" fill="#66cc33"/><ellipse cx="373.6" cy="761.9" rx="4.5" ry="6.1" fill="#66cc33" stroke="#0b3d02" stroke-width="1.7" transform="rotate(0 373.6 761.9)"/></g>
<g><path d="M464.2,834.7 L474.2,834.7 L472.7,848.4 L473.1,856.9 L463.9,856.9 L465.1,848.4 Z" fill="#0b3d02" stroke="#0b3d02" stroke-width="5.4" stroke-linejoin="round"/><path d="M461.6,833.3 L453.5,840.9 L458.3,846.3 L466.8,839.1 Z" fill="#0b3d02"/><circle cx="464.2" cy="836.2" r="3.85" fill="#0b3d02"/><circle cx="455.9" cy="843.6" r="3.58" fill="#0b3d02"/><path d="M452.8,841.9 L448.3,850.4 L454.1,853.6 L459.0,845.3 Z" fill="#0b3d02"/><circle cx="455.9" cy="843.6" r="3.58" fill="#0b3d02"/><circle cx="451.2" cy="852.0" r="3.35" fill="#0b3d02"/><path d="M471.8,839.2 L479.4,844.9 L483.8,839.3 L476.6,833.2 Z" fill="#0b3d02"/><circle cx="474.2" cy="836.2" r="3.85" fill="#0b3d02"/><circle cx="481.6" cy="842.1" r="3.58" fill="#0b3d02"/><path d="M478.5,843.8 L482.5,850.6 L488.3,847.4 L484.7,840.4 Z" fill="#0b3d02"/><circle cx="481.6" cy="842.1" r="3.58" fill="#0b3d02"/><circle cx="485.4" cy="849.0" r="3.35" fill="#0b3d02"/><path d="M461.3,854.6 L456.5,874.2 L463.9,876.4 L470.4,857.2 Z" fill="#0b3d02"/><circle cx="465.8" cy="855.9" r="4.70" fill="#0b3d02"/><circle cx="460.2" cy="875.3" r="3.85" fill="#0b3d02"/><path d="M466.6,856.6 L471.1,880.9 L478.7,879.7 L475.9,855.2 Z" fill="#0b3d02"/><circle cx="471.2" cy="855.9" r="4.70" fill="#0b3d02"/><circle cx="474.9" cy="880.3" r="3.85" fill="#0b3d02"/><path d="M464.2,834.7 L474.2,834.7 L472.7,848.4 L473.1,856.9 L463.9,856.9 L465.1,848.4 Z" fill="#66cc33" stroke="#66cc33" stroke-width="2.0" stroke-linejoin="round"/><path d="M462.8,834.6 L454.6,842.2 L457.2,845.0 L465.6,837.8 Z" fill="#66cc33"/><circle cx="464.2" cy="836.2" r="2.15" fill="#66cc33"/><circle cx="455.9" cy="843.6" r="1.88" fill="#66cc33"/><path d="M454.3,842.7 L449.8,851.2 L452.6,852.8 L457.5,844.5 Z" fill="#66cc33"/><circle cx="455.9" cy="843.6" r="1.88" fill="#66cc33"/><circle cx="451.2" cy="852.0" r="1.65" fill="#66cc33"/><path d="M472.9,837.9 L480.4,843.6 L482.8,840.6 L475.5,834.5 Z" fill="#66cc33"/><circle cx="474.2" cy="836.2" r="2.15" fill="#66cc33"/><circle cx="481.6" cy="842.1" r="1.88" fill="#66cc33"/><path d="M480.0,843.0 L484.0,849.8 L486.8,848.2 L483.2,841.2 Z" fill="#66cc33"/><circle cx="481.6" cy="842.1" r="1.88" fill="#66cc33"/><circle cx="485.4" cy="849.0" r="1.65" fill="#66cc33"/><path d="M463.0,855.1 L458.1,874.7 L462.3,875.9 L468.7,856.7 Z" fill="#66cc33"/><circle cx="465.8" cy="855.9" r="3.00" fill="#66cc33"/><circle cx="460.2" cy="875.3" r="2.15" fill="#66cc33"/><path d="M468.3,856.3 L472.8,880.6 L477.0,880.0 L474.2,855.5 Z" fill="#66cc33"/><circle cx="471.2" cy="855.9" r="3.00" fill="#66cc33"/><circle cx="474.9" cy="880.3" r="2.15" fill="#66cc33"/><ellipse cx="469.2" cy="823.4" rx="4.5" ry="6.1" fill="#66cc33" stroke="#0b3d02" stroke-width="1.7" transform="rotate(0 469.2 823.4)"/></g>
<g><path d="M590.2,849.8 L600.2,849.8 L598.6,863.5 L599.0,872.0 L589.8,872.0 L591.0,863.5 Z" fill="#0b3d02" stroke="#0b3d02" stroke-width="5.4" stroke-linejoin="round"/><path d="M587.3,848.8 L581.1,856.3 L586.5,861.0 L593.1,853.8 Z" fill="#0b3d02"/><circle cx="590.2" cy="851.3" r="3.85" fill="#0b3d02"/><circle cx="583.8" cy="858.6" r="3.59" fill="#0b3d02"/><path d="M580.4,857.5 L577.8,865.9 L584.2,868.1 L587.2,859.8 Z" fill="#0b3d02"/><circle cx="583.8" cy="858.6" r="3.59" fill="#0b3d02"/><circle cx="581.0" cy="867.0" r="3.35" fill="#0b3d02"/><path d="M596.8,853.2 L602.1,861.9 L608.3,858.4 L603.6,849.4 Z" fill="#0b3d02"/><circle cx="600.2" cy="851.3" r="3.85" fill="#0b3d02"/><circle cx="605.2" cy="860.1" r="3.60" fill="#0b3d02"/><path d="M601.6,860.7 L603.3,870.5 L609.9,869.5 L608.8,859.6 Z" fill="#0b3d02"/><circle cx="605.2" cy="860.1" r="3.60" fill="#0b3d02"/><circle cx="606.6" cy="870.0" r="3.35" fill="#0b3d02"/><path d="M587.3,869.1 L578.3,892.3 L585.3,895.3 L596.0,872.9 Z" fill="#0b3d02"/><circle cx="591.7" cy="871.0" r="4.70" fill="#0b3d02"/><circle cx="581.8" cy="893.8" r="3.85" fill="#0b3d02"/><path d="M592.6,872.4 L600.7,895.0 L608.1,892.6 L601.5,869.6 Z" fill="#0b3d02"/><circle cx="597.1" cy="871.0" r="4.70" fill="#0b3d02"/><circle cx="604.4" cy="893.8" r="3.85" fill="#0b3d02"/><path d="M590.2,849.8 L600.2,849.8 L598.6,863.5 L599.0,872.0 L589.8,872.0 L591.0,863.5 Z" fill="#66cc33" stroke="#66cc33" stroke-width="2.0" stroke-linejoin="round"/><path d="M588.6,849.9 L582.4,857.4 L585.2,859.9 L591.8,852.7 Z" fill="#66cc33"/><circle cx="590.2" cy="851.3" r="2.15" fill="#66cc33"/><circle cx="583.8" cy="858.6" r="1.89" fill="#66cc33"/><path d="M582.0,858.0 L579.4,866.5 L582.6,867.5 L585.6,859.3 Z" fill="#66cc33"/><circle cx="583.8" cy="858.6" r="1.89" fill="#66cc33"/><circle cx="581.0" cy="867.0" r="1.65" fill="#66cc33"/><path d="M598.3,852.4 L603.5,861.1 L606.9,859.2 L602.1,850.2 Z" fill="#66cc33"/><circle cx="600.2" cy="851.3" r="2.15" fill="#66cc33"/><circle cx="605.2" cy="860.1" r="1.90" fill="#66cc33"/><path d="M603.3,860.4 L605.0,870.2 L608.2,869.8 L607.1,859.9 Z" fill="#66cc33"/><circle cx="605.2" cy="860.1" r="1.90" fill="#66cc33"/><circle cx="606.6" cy="870.0" r="1.65" fill="#66cc33"/><path d="M588.9,869.8 L579.8,892.9 L583.8,894.7 L594.4,872.2 Z" fill="#66cc33"/><circle cx="591.7" cy="871.0" r="3.00" fill="#66cc33"/><circle cx="581.8" cy="893.8" r="2.15" fill="#66cc33"/><path d="M594.2,871.9 L602.4,894.5 L606.4,893.1 L599.9,870.1 Z" fill="#66cc33"/><circle cx="597.1" cy="871.0" r="3.00" fill="#66cc33"/><circle cx="604.4" cy="893.8" r="2.15" fill="#66cc33"/><ellipse cx="595.2" cy="838.5" rx="4.5" ry="6.1" fill="#66cc33" stroke="#0b3d02" stroke-width="1.7" transform="rotate(0 595.2 838.5)"/></g>
<g><path d="M631.5,850.5 L641.5,850.5 L639.4,864.2 L639.3,872.7 L630.1,872.7 L631.8,864.2 Z" fill="#0b3d02" stroke="#0b3d02" stroke-width="5.4" stroke-linejoin="round"/><path d="M628.8,849.3 L622.2,856.1 L627.2,861.3 L634.2,854.7 Z" fill="#0b3d02"/><circle cx="631.5" cy="852.0" r="3.85" fill="#0b3d02"/><circle cx="624.7" cy="858.7" r="3.58" fill="#0b3d02"/><path d="M621.4,857.3 L618.4,865.1 L624.6,867.7 L628.0,860.1 Z" fill="#0b3d02"/><circle cx="624.7" cy="858.7" r="3.58" fill="#0b3d02"/><circle cx="621.5" cy="866.4" r="3.35" fill="#0b3d02"/><path d="M638.4,854.2 L643.5,861.1 L649.4,856.9 L644.6,849.8 Z" fill="#0b3d02"/><circle cx="641.5" cy="852.0" r="3.85" fill="#0b3d02"/><circle cx="646.4" cy="859.0" r="3.59" fill="#0b3d02"/><path d="M642.9,859.6 L644.5,867.6 L651.1,866.4 L650.0,858.4 Z" fill="#0b3d02"/><circle cx="646.4" cy="859.0" r="3.59" fill="#0b3d02"/><circle cx="647.8" cy="867.0" r="3.35" fill="#0b3d02"/><path d="M627.4,870.7 L623.4,893.5 L631.0,895.1 L636.6,872.7 Z" fill="#0b3d02"/><circle cx="632.0" cy="871.7" r="4.70" fill="#0b3d02"/><circle cx="627.2" cy="894.3" r="3.85" fill="#0b3d02"/><path d="M632.7,871.6 L633.1,894.2 L640.7,894.4 L642.1,871.8 Z" fill="#0b3d02"/><circle cx="637.4" cy="871.7" r="4.70" fill="#0b3d02"/><circle cx="636.9" cy="894.3" r="3.85" fill="#0b3d02"/><path d="M631.5,850.5 L641.5,850.5 L639.4,864.2 L639.3,872.7 L630.1,872.7 L631.8,864.2 Z" fill="#66cc33" stroke="#66cc33" stroke-width="2.0" stroke-linejoin="round"/><path d="M630.0,850.5 L623.4,857.4 L626.0,860.0 L633.0,853.5 Z" fill="#66cc33"/><circle cx="631.5" cy="852.0" r="2.15" fill="#66cc33"/><circle cx="624.7" cy="858.7" r="1.88" fill="#66cc33"/><path d="M623.0,858.0 L620.0,865.8 L623.0,867.0 L626.4,859.4 Z" fill="#66cc33"/><circle cx="624.7" cy="858.7" r="1.88" fill="#66cc33"/><circle cx="621.5" cy="866.4" r="1.65" fill="#66cc33"/><path d="M639.7,853.2 L644.9,860.1 L648.0,857.9 L643.3,850.8 Z" fill="#66cc33"/><circle cx="641.5" cy="852.0" r="2.15" fill="#66cc33"/><circle cx="646.4" cy="859.0" r="1.89" fill="#66cc33"/><path d="M644.6,859.3 L646.2,867.3 L649.4,866.7 L648.3,858.7 Z" fill="#66cc33"/><circle cx="646.4" cy="859.0" r="1.89" fill="#66cc33"/><circle cx="647.8" cy="867.0" r="1.65" fill="#66cc33"/><path d="M629.1,871.1 L625.1,893.9 L629.3,894.7 L635.0,872.3 Z" fill="#66cc33"/><circle cx="632.0" cy="871.7" r="3.00" fill="#66cc33"/><circle cx="627.2" cy="894.3" r="2.15" fill="#66cc33"/><path d="M634.4,871.6 L634.8,894.3 L639.0,894.3 L640.4,871.8 Z" fill="#66cc33"/><circle cx="637.4" cy="871.7" r="3.00" fill="#66cc33"/><circle cx="636.9" cy="894.3" r="2.15" fill="#66cc33"/><ellipse cx="636.5" cy="839.2" rx="4.5" ry="6.1" fill="#66cc33" stroke="#0b3d02" stroke-width="1.7" transform="rotate(15 636.5 839.2)"/></g>
<g><path d="M107.0,848.5 L115.5,848.5 L114.8,868.0 L106.3,868.0 Z" fill="#0b3d02" stroke="#0b3d02" stroke-width="5.4" stroke-linejoin="round"/><path d="M103.3,848.9 L100.6,859.0 L107.4,861.0 L110.7,851.1 Z" fill="#0b3d02"/><circle cx="107.0" cy="850.0" r="3.85" fill="#0b3d02"/><circle cx="104.0" cy="860.0" r="3.57" fill="#0b3d02"/><path d="M100.4,859.7 L100.0,868.2 L106.6,868.8 L107.6,860.3 Z" fill="#0b3d02"/><circle cx="104.0" cy="860.0" r="3.57" fill="#0b3d02"/><circle cx="103.3" cy="868.5" r="3.35" fill="#0b3d02"/><path d="M112.3,852.7 L118.5,858.5 L123.5,853.5 L117.7,847.3 Z" fill="#0b3d02"/><circle cx="115.0" cy="850.0" r="3.85" fill="#0b3d02"/><circle cx="121.0" cy="856.0" r="3.58" fill="#0b3d02"/><path d="M119.3,859.2 L125.9,862.4 L129.1,856.6 L122.7,852.8 Z" fill="#0b3d02"/><circle cx="121.0" cy="856.0" r="3.58" fill="#0b3d02"/><circle cx="127.5" cy="859.5" r="3.35" fill="#0b3d02"/><path d="M103.6,867.9 L103.8,881.9 L112.2,882.1 L113.0,868.1 Z" fill="#0b3d02"/><circle cx="108.3" cy="868.0" r="4.70" fill="#0b3d02"/><circle cx="108.0" cy="882.0" r="4.22" fill="#0b3d02"/><path d="M103.8,881.5 L103.0,892.1 L110.6,892.9 L112.2,882.5 Z" fill="#0b3d02"/><circle cx="108.0" cy="882.0" r="4.22" fill="#0b3d02"/><circle cx="106.8" cy="892.5" r="3.85" fill="#0b3d02"/><path d="M109.9,870.3 L116.3,881.0 L123.7,877.0 L118.1,865.7 Z" fill="#0b3d02"/><circle cx="114.0" cy="868.0" r="4.70" fill="#0b3d02"/><circle cx="120.0" cy="879.0" r="4.23" fill="#0b3d02"/><path d="M116.7,881.6 L123.2,889.4 L129.2,884.6 L123.3,876.4 Z" fill="#0b3d02"/><circle cx="120.0" cy="879.0" r="4.23" fill="#0b3d02"/><circle cx="126.2" cy="887.0" r="3.85" fill="#0b3d02"/><path d="M107.0,848.5 L115.5,848.5 L114.8,868.0 L106.3,868.0 Z" fill="#66cc33" stroke="#66cc33" stroke-width="2.0" stroke-linejoin="round"/><path d="M104.9,849.4 L102.2,859.5 L105.8,860.5 L109.1,850.6 Z" fill="#66cc33"/><circle cx="107.0" cy="850.0" r="2.15" fill="#66cc33"/><circle cx="104.0" cy="860.0" r="1.87" fill="#66cc33"/><path d="M102.1,859.8 L101.7,868.4 L104.9,868.6 L105.9,860.2 Z" fill="#66cc33"/><circle cx="104.0" cy="860.0" r="1.87" fill="#66cc33"/><circle cx="103.3" cy="868.5" r="1.65" fill="#66cc33"/><path d="M113.5,851.5 L119.7,857.3 L122.3,854.7 L116.5,848.5 Z" fill="#66cc33"/><circle cx="115.0" cy="850.0" r="2.15" fill="#66cc33"/><circle cx="121.0" cy="856.0" r="1.88" fill="#66cc33"/><path d="M120.1,857.7 L126.7,861.0 L128.3,858.0 L121.9,854.3 Z" fill="#66cc33"/><circle cx="121.0" cy="856.0" r="1.88" fill="#66cc33"/><circle cx="127.5" cy="859.5" r="1.65" fill="#66cc33"/><path d="M105.3,867.9 L105.5,881.9 L110.5,882.1 L111.3,868.1 Z" fill="#66cc33"/><circle cx="108.3" cy="868.0" r="3.00" fill="#66cc33"/><circle cx="108.0" cy="882.0" r="2.52" fill="#66cc33"/><path d="M105.5,881.7 L104.7,892.3 L108.9,892.7 L110.5,882.3 Z" fill="#66cc33"/><circle cx="108.0" cy="882.0" r="2.52" fill="#66cc33"/><circle cx="106.8" cy="892.5" r="2.15" fill="#66cc33"/><path d="M111.4,869.4 L117.8,880.2 L122.2,877.8 L116.6,866.6 Z" fill="#66cc33"/><circle cx="114.0" cy="868.0" r="3.00" fill="#66cc33"/><circle cx="120.0" cy="879.0" r="2.53" fill="#66cc33"/><path d="M118.0,880.5 L124.5,888.3 L127.9,885.7 L122.0,877.5 Z" fill="#66cc33"/><circle cx="120.0" cy="879.0" r="2.53" fill="#66cc33"/><circle cx="126.2" cy="887.0" r="2.15" fill="#66cc33"/><ellipse cx="111.3" cy="836.6" rx="4.5" ry="6.1" fill="#66cc33" stroke="#0b3d02" stroke-width="1.7" transform="rotate(0 111.3 836.6)"/></g>
<g clip-path="url(#ab764)"><path d="M173.5,719.5 L181.5,719.0 L185.5,739.0 L176.5,739.0 Z" fill="#0b3d02" stroke="#0b3d02" stroke-width="5.4" stroke-linejoin="round"/><path d="M172.0,717.2 L163.1,723.0 L166.9,729.0 L176.0,723.8 Z" fill="#0b3d02"/><circle cx="174.0" cy="720.5" r="3.85" fill="#0b3d02"/><circle cx="165.0" cy="726.0" r="3.56" fill="#0b3d02"/><path d="M163.4,722.8 L156.7,726.3 L159.7,732.3 L166.6,729.2 Z" fill="#0b3d02"/><circle cx="165.0" cy="726.0" r="3.56" fill="#0b3d02"/><circle cx="158.2" cy="729.3" r="3.35" fill="#0b3d02"/><path d="M184.7,720.0 L184.4,708.0 L177.2,708.0 L177.0,720.0 Z" fill="#0b3d02"/><circle cx="180.8" cy="720.0" r="3.85" fill="#0b3d02"/><circle cx="180.8" cy="708.0" r="3.58" fill="#0b3d02"/><path d="M184.4,707.7 L183.1,697.2 L176.5,697.8 L177.2,708.3 Z" fill="#0b3d02"/><circle cx="180.8" cy="708.0" r="3.58" fill="#0b3d02"/><circle cx="179.8" cy="697.5" r="3.35" fill="#0b3d02"/><path d="M173.3,738.7 L173.4,753.8 L181.0,754.2 L182.7,739.3 Z" fill="#0b3d02"/><circle cx="178.0" cy="739.0" r="4.70" fill="#0b3d02"/><circle cx="177.2" cy="754.0" r="3.85" fill="#0b3d02"/><path d="M179.1,739.4 L181.2,754.3 L188.8,753.7 L188.5,738.6 Z" fill="#0b3d02"/><circle cx="183.8" cy="739.0" r="4.70" fill="#0b3d02"/><circle cx="185.0" cy="754.0" r="3.85" fill="#0b3d02"/><path d="M173.5,719.5 L181.5,719.0 L185.5,739.0 L176.5,739.0 Z" fill="#66cc33" stroke="#66cc33" stroke-width="2.0" stroke-linejoin="round"/><path d="M172.9,718.7 L164.0,724.4 L166.0,727.6 L175.1,722.3 Z" fill="#66cc33"/><circle cx="174.0" cy="720.5" r="2.15" fill="#66cc33"/><circle cx="165.0" cy="726.0" r="1.86" fill="#66cc33"/><path d="M164.2,724.3 L157.5,727.8 L158.9,730.8 L165.8,727.7 Z" fill="#66cc33"/><circle cx="165.0" cy="726.0" r="1.86" fill="#66cc33"/><circle cx="158.2" cy="729.3" r="1.65" fill="#66cc33"/><path d="M183.0,720.0 L182.7,708.0 L178.9,708.0 L178.7,720.0 Z" fill="#66cc33"/><circle cx="180.8" cy="720.0" r="2.15" fill="#66cc33"/><circle cx="180.8" cy="708.0" r="1.88" fill="#66cc33"/><path d="M182.7,707.8 L181.4,697.3 L178.2,697.7 L178.9,708.2 Z" fill="#66cc33"/><circle cx="180.8" cy="708.0" r="1.88" fill="#66cc33"/><circle cx="179.8" cy="697.5" r="1.65" fill="#66cc33"/><path d="M175.0,738.8 L175.1,753.9 L179.3,754.1 L181.0,739.2 Z" fill="#66cc33"/><circle cx="178.0" cy="739.0" r="3.00" fill="#66cc33"/><circle cx="177.2" cy="754.0" r="2.15" fill="#66cc33"/><path d="M180.8,739.2 L182.9,754.2 L187.1,753.8 L186.8,738.8 Z" fill="#66cc33"/><circle cx="183.8" cy="739.0" r="3.00" fill="#66cc33"/><circle cx="185.0" cy="754.0" r="2.15" fill="#66cc33"/><ellipse cx="170.0" cy="707.8" rx="4.5" ry="6.1" fill="#66cc33" stroke="#0b3d02" stroke-width="1.7" transform="rotate(0 170.0 707.8)"/></g>
<g><path d="M505.5,195.0 L512.5,195.5 L506.5,217.0 L497.5,217.0 Z" fill="#0b3d02" stroke="#0b3d02" stroke-width="5.4" stroke-linejoin="round"/><path d="M508.5,200.0 L515.6,202.8 L518.4,196.2 L511.5,193.0 Z" fill="#0b3d02"/><circle cx="510.0" cy="196.5" r="3.85" fill="#0b3d02"/><circle cx="517.0" cy="199.5" r="3.61" fill="#0b3d02"/><path d="M515.0,202.5 L522.2,206.8 L525.8,201.2 L519.0,196.5 Z" fill="#0b3d02"/><circle cx="517.0" cy="199.5" r="3.61" fill="#0b3d02"/><circle cx="524.0" cy="204.0" r="3.35" fill="#0b3d02"/><path d="M501.3,196.8 L498.6,205.9 L505.4,208.1 L508.7,199.2 Z" fill="#0b3d02"/><circle cx="505.0" cy="198.0" r="3.85" fill="#0b3d02"/><circle cx="502.0" cy="207.0" r="3.55" fill="#0b3d02"/><path d="M498.5,207.6 L499.7,213.6 L506.3,212.4 L505.5,206.4 Z" fill="#0b3d02"/><circle cx="502.0" cy="207.0" r="3.55" fill="#0b3d02"/><circle cx="503.0" cy="213.0" r="3.35" fill="#0b3d02"/><path d="M494.9,215.1 L493.1,227.2 L501.3,228.8 L504.1,216.9 Z" fill="#0b3d02"/><circle cx="499.5" cy="216.0" r="4.70" fill="#0b3d02"/><circle cx="497.2" cy="228.0" r="4.17" fill="#0b3d02"/><path d="M493.0,227.8 L493.0,235.3 L500.6,235.7 L501.4,228.2 Z" fill="#0b3d02"/><circle cx="497.2" cy="228.0" r="4.17" fill="#0b3d02"/><circle cx="496.8" cy="235.5" r="3.85" fill="#0b3d02"/><path d="M499.3,215.8 L499.3,227.8 L507.7,228.2 L508.7,216.2 Z" fill="#0b3d02"/><circle cx="504.0" cy="216.0" r="4.70" fill="#0b3d02"/><circle cx="503.5" cy="228.0" r="4.21" fill="#0b3d02"/><path d="M499.3,227.9 L499.4,236.9 L507.0,237.1 L507.7,228.1 Z" fill="#0b3d02"/><circle cx="503.5" cy="228.0" r="4.21" fill="#0b3d02"/><circle cx="503.2" cy="237.0" r="3.85" fill="#0b3d02"/><path d="M505.5,195.0 L512.5,195.5 L506.5,217.0 L497.5,217.0 Z" fill="#66cc33" stroke="#66cc33" stroke-width="2.0" stroke-linejoin="round"/><path d="M509.2,198.5 L516.2,201.3 L517.8,197.7 L510.8,194.5 Z" fill="#66cc33"/><circle cx="510.0" cy="196.5" r="2.15" fill="#66cc33"/><circle cx="517.0" cy="199.5" r="1.91" fill="#66cc33"/><path d="M516.0,201.1 L523.1,205.4 L524.9,202.6 L518.0,197.9 Z" fill="#66cc33"/><circle cx="517.0" cy="199.5" r="1.91" fill="#66cc33"/><circle cx="524.0" cy="204.0" r="1.65" fill="#66cc33"/><path d="M503.0,197.3 L500.2,206.4 L503.8,207.6 L507.0,198.7 Z" fill="#66cc33"/><circle cx="505.0" cy="198.0" r="2.15" fill="#66cc33"/><circle cx="502.0" cy="207.0" r="1.85" fill="#66cc33"/><path d="M500.2,207.3 L501.4,213.3 L504.6,212.7 L503.8,206.7 Z" fill="#66cc33"/><circle cx="502.0" cy="207.0" r="1.85" fill="#66cc33"/><circle cx="503.0" cy="213.0" r="1.65" fill="#66cc33"/><path d="M496.6,215.4 L494.8,227.5 L499.6,228.5 L502.4,216.6 Z" fill="#66cc33"/><circle cx="499.5" cy="216.0" r="3.00" fill="#66cc33"/><circle cx="497.2" cy="228.0" r="2.47" fill="#66cc33"/><path d="M494.7,227.9 L494.7,235.4 L498.9,235.6 L499.7,228.1 Z" fill="#66cc33"/><circle cx="497.2" cy="228.0" r="2.47" fill="#66cc33"/><circle cx="496.8" cy="235.5" r="2.15" fill="#66cc33"/><path d="M501.0,215.9 L501.0,227.9 L506.0,228.1 L507.0,216.1 Z" fill="#66cc33"/><circle cx="504.0" cy="216.0" r="3.00" fill="#66cc33"/><circle cx="503.5" cy="228.0" r="2.51" fill="#66cc33"/><path d="M501.0,227.9 L501.1,236.9 L505.3,237.1 L506.0,228.1 Z" fill="#66cc33"/><circle cx="503.5" cy="228.0" r="2.51" fill="#66cc33"/><circle cx="503.2" cy="237.0" r="2.15" fill="#66cc33"/><ellipse cx="510.7" cy="183.9" rx="4.5" ry="6.1" fill="#66cc33" stroke="#0b3d02" stroke-width="1.7" transform="rotate(0 510.7 183.9)"/></g>
<g><path d="M410.5,492.0 L420.0,491.5 L419.0,512.0 L408.5,512.0 Z" fill="#0b3d02" stroke="#0b3d02" stroke-width="5.4" stroke-linejoin="round"/><path d="M416.5,496.8 L425.2,501.6 L428.8,495.4 L420.5,490.2 Z" fill="#0b3d02"/><circle cx="418.5" cy="493.5" r="3.85" fill="#0b3d02"/><circle cx="427.0" cy="498.5" r="3.57" fill="#0b3d02"/><path d="M426.5,502.0 L434.1,502.8 L434.9,496.2 L427.5,495.0 Z" fill="#0b3d02"/><circle cx="427.0" cy="498.5" r="3.57" fill="#0b3d02"/><circle cx="434.5" cy="499.5" r="3.35" fill="#0b3d02"/><path d="M408.7,490.9 L402.3,496.2 L406.7,501.8 L413.3,497.1 Z" fill="#0b3d02"/><circle cx="411.0" cy="494.0" r="3.85" fill="#0b3d02"/><circle cx="404.5" cy="499.0" r="3.58" fill="#0b3d02"/><path d="M401.1,500.1 L403.3,506.5 L409.7,504.5 L407.9,497.9 Z" fill="#0b3d02"/><circle cx="404.5" cy="499.0" r="3.58" fill="#0b3d02"/><circle cx="406.5" cy="505.5" r="3.35" fill="#0b3d02"/><path d="M406.5,509.7 L402.7,524.9 L410.9,527.1 L415.5,512.3 Z" fill="#0b3d02"/><circle cx="411.0" cy="511.0" r="4.70" fill="#0b3d02"/><circle cx="406.8" cy="526.0" r="4.22" fill="#0b3d02"/><path d="M402.7,525.1 L400.4,536.7 L408.0,538.3 L410.9,526.9 Z" fill="#0b3d02"/><circle cx="406.8" cy="526.0" r="4.22" fill="#0b3d02"/><circle cx="404.2" cy="537.5" r="3.85" fill="#0b3d02"/><path d="M412.7,513.8 L419.1,521.6 L425.9,516.4 L420.3,508.2 Z" fill="#0b3d02"/><circle cx="416.5" cy="511.0" r="4.70" fill="#0b3d02"/><circle cx="422.5" cy="519.0" r="4.31" fill="#0b3d02"/><path d="M418.3,518.2 L416.5,529.8 L424.1,531.2 L426.7,519.8 Z" fill="#0b3d02"/><circle cx="422.5" cy="519.0" r="4.31" fill="#0b3d02"/><circle cx="420.3" cy="530.5" r="3.85" fill="#0b3d02"/><path d="M410.5,492.0 L420.0,491.5 L419.0,512.0 L408.5,512.0 Z" fill="#66cc33" stroke="#66cc33" stroke-width="2.0" stroke-linejoin="round"/><path d="M417.4,495.4 L426.1,500.1 L427.9,496.9 L419.6,491.6 Z" fill="#66cc33"/><circle cx="418.5" cy="493.5" r="2.15" fill="#66cc33"/><circle cx="427.0" cy="498.5" r="1.87" fill="#66cc33"/><path d="M426.8,500.4 L434.3,501.1 L434.7,497.9 L427.2,496.6 Z" fill="#66cc33"/><circle cx="427.0" cy="498.5" r="1.87" fill="#66cc33"/><circle cx="434.5" cy="499.5" r="1.65" fill="#66cc33"/><path d="M409.7,492.3 L403.4,497.5 L405.6,500.5 L412.3,495.7 Z" fill="#66cc33"/><circle cx="411.0" cy="494.0" r="2.15" fill="#66cc33"/><circle cx="404.5" cy="499.0" r="1.88" fill="#66cc33"/><path d="M402.7,499.6 L404.9,506.0 L408.1,505.0 L406.3,498.4 Z" fill="#66cc33"/><circle cx="404.5" cy="499.0" r="1.88" fill="#66cc33"/><circle cx="406.5" cy="505.5" r="1.65" fill="#66cc33"/><path d="M408.1,510.2 L404.4,525.3 L409.2,526.7 L413.9,511.8 Z" fill="#66cc33"/><circle cx="411.0" cy="511.0" r="3.00" fill="#66cc33"/><circle cx="406.8" cy="526.0" r="2.52" fill="#66cc33"/><path d="M404.3,525.4 L402.1,537.0 L406.3,538.0 L409.3,526.6 Z" fill="#66cc33"/><circle cx="406.8" cy="526.0" r="2.52" fill="#66cc33"/><circle cx="404.2" cy="537.5" r="2.15" fill="#66cc33"/><path d="M414.1,512.8 L420.4,520.6 L424.6,517.4 L418.9,509.2 Z" fill="#66cc33"/><circle cx="416.5" cy="511.0" r="3.00" fill="#66cc33"/><circle cx="422.5" cy="519.0" r="2.61" fill="#66cc33"/><path d="M419.9,518.5 L418.2,530.1 L422.4,530.9 L425.1,519.5 Z" fill="#66cc33"/><circle cx="422.5" cy="519.0" r="2.61" fill="#66cc33"/><circle cx="420.3" cy="530.5" r="2.15" fill="#66cc33"/><ellipse cx="416.2" cy="480.2" rx="4.5" ry="6.1" fill="#66cc33" stroke="#0b3d02" stroke-width="1.7" transform="rotate(0 416.2 480.2)"/></g>
<rect x="711.2" y="137.2" width="469.3" height="468.2" fill="#fff" stroke="#6f9fcf" stroke-width="1.6"/>
<circle cx="946.0" cy="371.4" r="180.0" fill="#a6a6a6"/>
<path d="M975.2,215.1 L979.1,194.5 L964.0,194.0 L964.0,156.9 L928.0,156.9 L928.0,194.0 L912.9,194.5 L916.8,215.1" fill="#c9c9c9" stroke="#0c0600" stroke-width="1.8" stroke-linejoin="miter"/>
<path d="M1077.2,281.6 L1094.5,269.7 L1084.2,258.7 L1110.4,232.5 L1084.9,207.0 L1058.7,233.2 L1047.7,222.9 L1035.8,240.2" fill="#c9c9c9" stroke="#0c0600" stroke-width="1.8" stroke-linejoin="miter"/>
<path d="M1102.3,400.6 L1122.9,404.5 L1123.4,389.4 L1160.5,389.4 L1160.5,353.4 L1123.4,353.4 L1122.9,338.3 L1102.3,342.2" fill="#c9c9c9" stroke="#0c0600" stroke-width="1.8" stroke-linejoin="miter"/>
<path d="M1035.8,502.6 L1047.7,519.9 L1058.7,509.6 L1084.9,535.8 L1110.4,510.3 L1084.2,484.1 L1094.5,473.1 L1077.2,461.2" fill="#c9c9c9" stroke="#0c0600" stroke-width="1.8" stroke-linejoin="miter"/>
<path d="M916.8,527.7 L912.9,548.3 L928.0,548.8 L928.0,585.9 L964.0,585.9 L964.0,548.8 L979.1,548.3 L975.2,527.7" fill="#c9c9c9" stroke="#0c0600" stroke-width="1.8" stroke-linejoin="miter"/>
<path d="M814.8,461.2 L797.5,473.1 L807.8,484.1 L781.6,510.3 L807.1,535.8 L833.3,509.6 L844.3,519.9 L856.2,502.6" fill="#c9c9c9" stroke="#0c0600" stroke-width="1.8" stroke-linejoin="miter"/>
<path d="M789.7,342.2 L769.1,338.3 L768.6,353.4 L731.5,353.4 L731.5,389.4 L768.6,389.4 L769.1,404.5 L789.7,400.6" fill="#c9c9c9" stroke="#0c0600" stroke-width="1.8" stroke-linejoin="miter"/>
<path d="M856.2,240.2 L844.3,222.9 L833.3,233.2 L807.1,207.0 L781.6,232.5 L807.8,258.7 L797.5,269.7 L814.8,281.6" fill="#c9c9c9" stroke="#0c0600" stroke-width="1.8" stroke-linejoin="miter"/>
<rect x="782.0" y="360.4" width="328.0" height="22" fill="#c9c9c9"/>
<path d="M884.17,361.61 L786.98,346.21 A161.0,161.0 0 0 0 785.22,362.97 L883.49,368.12 A62.6,62.6 0 0 1 884.17,361.61 Z" fill="#a84a1a"/>
<path d="M884.17,361.61 L786.98,346.21 A161.0,161.0 0 0 0 785.22,362.97 L883.49,368.12 A62.6,62.6 0 0 1 884.17,361.61 Z" fill="#f0946a"/>
<path d="M885.53,355.20 L790.49,329.73 A161.0,161.0 0 0 0 786.98,346.21 L884.17,361.61 A62.6,62.6 0 0 1 885.53,355.20 Z" fill="#a6491a"/>
<path d="M885.53,355.20 L790.49,329.73 A161.0,161.0 0 0 0 786.98,346.21 L884.17,361.61 A62.6,62.6 0 0 1 885.53,355.20 Z" fill="#f0946a"/>
<path d="M887.56,348.97 L795.69,313.70 A161.0,161.0 0 0 0 790.49,329.73 L885.53,355.20 A62.6,62.6 0 0 1 887.56,348.97 Z" fill="#a44819"/>
<path d="M887.56,348.97 L795.69,313.70 A161.0,161.0 0 0 0 790.49,329.73 L885.53,355.20 A62.6,62.6 0 0 1 887.56,348.97 Z" fill="#f0946a"/>
<path d="M890.22,342.98 L802.55,298.31 A161.0,161.0 0 0 0 795.69,313.70 L887.56,348.97 A62.6,62.6 0 0 1 890.22,342.98 Z" fill="#a24719"/>
<path d="M890.22,342.98 L812.35,303.30 A150.0,150.0 0 0 0 805.96,317.64 L887.56,348.97 A62.6,62.6 0 0 1 890.22,342.98 Z" fill="#f0946a"/>
<path d="M893.50,337.31 L810.97,283.71 A161.0,161.0 0 0 0 802.55,298.31 L890.22,342.98 A62.6,62.6 0 0 1 893.50,337.31 Z" fill="#9f4618"/>
<path d="M893.50,337.31 L826.07,293.52 A143.0,143.0 0 0 0 818.59,306.48 L890.22,342.98 A62.6,62.6 0 0 1 893.50,337.31 Z" fill="#f0946a"/>
<path d="M897.35,332.00 L820.88,270.08 A161.0,161.0 0 0 0 810.97,283.71 L893.50,337.31 A62.6,62.6 0 0 1 897.35,332.00 Z" fill="#9d4518"/>
<path d="M897.35,332.00 L843.03,288.02 A132.5,132.5 0 0 0 834.88,299.24 L893.50,337.31 A62.6,62.6 0 0 1 897.35,332.00 Z" fill="#f0946a"/>
<path d="M901.74,327.14 L832.16,257.56 A161.0,161.0 0 0 0 820.88,270.08 L897.35,332.00 A62.6,62.6 0 0 1 901.74,327.14 Z" fill="#9b4417"/>
<path d="M901.74,327.14 L857.26,282.66 A125.5,125.5 0 0 0 848.47,292.42 L897.35,332.00 A62.6,62.6 0 0 1 901.74,327.14 Z" fill="#f0946a"/>
<path d="M906.60,322.75 L844.68,246.28 A161.0,161.0 0 0 0 832.16,257.56 L901.74,327.14 A62.6,62.6 0 0 1 906.60,322.75 Z" fill="#994217"/>
<path d="M906.60,322.75 L871.74,279.70 A118.0,118.0 0 0 0 862.56,287.96 L901.74,327.14 A62.6,62.6 0 0 1 906.60,322.75 Z" fill="#f0946a"/>
<path d="M911.91,318.90 L858.31,236.37 A161.0,161.0 0 0 0 844.68,246.28 L906.60,322.75 A62.6,62.6 0 0 1 911.91,318.90 Z" fill="#974117"/>
<path d="M911.91,318.90 L885.55,278.31 A111.0,111.0 0 0 0 876.15,285.14 L906.60,322.75 A62.6,62.6 0 0 1 911.91,318.90 Z" fill="#f0946a"/>
<path d="M917.58,315.62 L872.91,227.95 A161.0,161.0 0 0 0 858.31,236.37 L911.91,318.90 A62.6,62.6 0 0 1 917.58,315.62 Z" fill="#954016"/>
<path d="M917.58,315.62 L898.56,278.29 A104.5,104.5 0 0 0 889.09,283.76 L911.91,318.90 A62.6,62.6 0 0 1 917.58,315.62 Z" fill="#f0946a"/>
<path d="M923.57,312.96 L888.30,221.09 A161.0,161.0 0 0 0 872.91,227.95 L917.58,315.62 A62.6,62.6 0 0 1 923.57,312.96 Z" fill="#933f16"/>
<path d="M923.57,312.96 L910.88,279.91 A98.0,98.0 0 0 0 901.51,284.08 L917.58,315.62 A62.6,62.6 0 0 1 923.57,312.96 Z" fill="#f0946a"/>
<path d="M929.80,310.93 L904.33,215.89 A161.0,161.0 0 0 0 888.30,221.09 L923.57,312.96 A62.6,62.6 0 0 1 929.80,310.93 Z" fill="#903e15"/>
<path d="M929.80,310.93 L922.19,282.53 A92.0,92.0 0 0 0 913.03,285.51 L923.57,312.96 A62.6,62.6 0 0 1 929.80,310.93 Z" fill="#f0946a"/>
<path d="M936.21,309.57 L920.81,212.38 A161.0,161.0 0 0 0 904.33,215.89 L929.80,310.93 A62.6,62.6 0 0 1 936.21,309.57 Z" fill="#8e3d15"/>
<path d="M936.21,309.57 L932.39,285.47 A87.0,87.0 0 0 0 923.48,287.36 L929.80,310.93 A62.6,62.6 0 0 1 936.21,309.57 Z" fill="#f0946a"/>
<path d="M942.72,308.89 L937.57,210.62 A161.0,161.0 0 0 0 920.81,212.38 L936.21,309.57 A62.6,62.6 0 0 1 942.72,308.89 Z" fill="#8c3c14"/>
<path d="M942.72,308.89 L941.68,289.01 A82.5,82.5 0 0 0 933.09,289.92 L936.21,309.57 A62.6,62.6 0 0 1 942.72,308.89 Z" fill="#f0946a"/>
<path d="M949.28,308.89 L954.43,210.62 A161.0,161.0 0 0 0 937.57,210.62 L942.72,308.89 A62.6,62.6 0 0 1 949.28,308.89 Z" fill="#8a3b14"/>
<path d="M949.28,308.89 L950.08,293.51 A78.0,78.0 0 0 0 941.92,293.51 L942.72,308.89 A62.6,62.6 0 0 1 949.28,308.89 Z" fill="#f0946a"/>
<path d="M955.79,309.57 L971.19,212.38 A161.0,161.0 0 0 0 954.43,210.62 L949.28,308.89 A62.6,62.6 0 0 1 955.79,309.57 Z" fill="#883a14"/>
<path d="M955.79,309.57 L957.58,298.31 A74.0,74.0 0 0 0 949.87,297.50 L949.28,308.89 A62.6,62.6 0 0 1 955.79,309.57 Z" fill="#f0946a"/>
<path d="M962.20,310.93 L987.67,215.89 A161.0,161.0 0 0 0 971.19,212.38 L955.79,309.57 A62.6,62.6 0 0 1 962.20,310.93 Z" fill="#863913"/>
<path d="M962.20,310.93 L964.25,303.30 A70.5,70.5 0 0 0 957.03,301.77 L955.79,309.57 A62.6,62.6 0 0 1 962.20,310.93 Z" fill="#f0946a"/>
<path d="M968.43,312.96 L1003.70,221.09 A161.0,161.0 0 0 0 987.67,215.89 L962.20,310.93 A62.6,62.6 0 0 1 968.43,312.96 Z" fill="#843813"/>
<path d="M968.43,312.96 L970.37,307.92 A68.0,68.0 0 0 0 963.60,305.72 L962.20,310.93 A62.6,62.6 0 0 1 968.43,312.96 Z" fill="#f0946a"/>
<path d="M974.42,315.62 L1019.09,227.95 A161.0,161.0 0 0 0 1003.70,221.09 L968.43,312.96 A62.6,62.6 0 0 1 974.42,315.62 Z" fill="#813712"/>
<path d="M974.42,315.62 L975.60,313.31 A65.2,65.2 0 0 0 969.37,310.53 L968.43,312.96 A62.6,62.6 0 0 1 974.42,315.62 Z" fill="#f0946a"/>
<path d="M980.09,318.90 L1033.69,236.37 A161.0,161.0 0 0 0 1019.09,227.95 L974.42,315.62 A62.6,62.6 0 0 1 980.09,318.90 Z" fill="#7f3612"/>
<path d="M985.40,322.75 L1047.32,246.28 A161.0,161.0 0 0 0 1033.69,236.37 L980.09,318.90 A62.6,62.6 0 0 1 985.40,322.75 Z" fill="#7d3511"/>
<path d="M990.26,327.14 L1059.84,257.56 A161.0,161.0 0 0 0 1047.32,246.28 L985.40,322.75 A62.6,62.6 0 0 1 990.26,327.14 Z" fill="#7b3411"/>
<path d="M994.65,332.00 L1071.12,270.08 A161.0,161.0 0 0 0 1059.84,257.56 L990.26,327.14 A62.6,62.6 0 0 1 994.65,332.00 Z" fill="#793211"/>
<path d="M998.50,337.31 L1081.03,283.71 A161.0,161.0 0 0 0 1071.12,270.08 L994.65,332.00 A62.6,62.6 0 0 1 998.50,337.31 Z" fill="#773110"/>
<path d="M1001.78,342.98 L1089.45,298.31 A161.0,161.0 0 0 0 1081.03,283.71 L998.50,337.31 A62.6,62.6 0 0 1 1001.78,342.98 Z" fill="#753010"/>
<path d="M1004.44,348.97 L1096.31,313.70 A161.0,161.0 0 0 0 1089.45,298.31 L1001.78,342.98 A62.6,62.6 0 0 1 1004.44,348.97 Z" fill="#722f0f"/>
<path d="M1006.47,355.20 L1101.51,329.73 A161.0,161.0 0 0 0 1096.31,313.70 L1004.44,348.97 A62.6,62.6 0 0 1 1006.47,355.20 Z" fill="#702e0f"/>
<path d="M1007.83,361.61 L1105.02,346.21 A161.0,161.0 0 0 0 1101.51,329.73 L1006.47,355.20 A62.6,62.6 0 0 1 1007.83,361.61 Z" fill="#6e2d0e"/>
<path d="M1008.51,368.12 L1106.78,362.97 A161.0,161.0 0 0 0 1105.02,346.21 L1007.83,361.61 A62.6,62.6 0 0 1 1008.51,368.12 Z" fill="#6c2c0e"/>
<path d="M1007.83,381.19 L1105.02,396.59 A161.0,161.0 0 0 0 1106.78,379.83 L1008.51,374.68 A62.6,62.6 0 0 1 1007.83,381.19 Z" fill="#f8d47c"/>
<path d="M1006.47,387.60 L1101.51,413.07 A161.0,161.0 0 0 0 1105.02,396.59 L1007.83,381.19 A62.6,62.6 0 0 1 1006.47,387.60 Z" fill="#f8d47c"/>
<path d="M1004.44,393.83 L1096.31,429.10 A161.0,161.0 0 0 0 1101.51,413.07 L1006.47,387.60 A62.6,62.6 0 0 1 1004.44,393.83 Z" fill="#f8d47c"/>
<path d="M1001.78,399.82 L1089.45,444.49 A161.0,161.0 0 0 0 1096.31,429.10 L1004.44,393.83 A62.6,62.6 0 0 1 1001.78,399.82 Z" fill="#f8d47c"/>
<path d="M1001.78,399.82 L1003.83,400.86 A64.9,64.9 0 0 0 1006.59,394.66 L1004.44,393.83 A62.6,62.6 0 0 1 1001.78,399.82 Z" fill="#bc8e27"/>
<path d="M998.50,405.49 L1081.03,459.09 A161.0,161.0 0 0 0 1089.45,444.49 L1001.78,399.82 A62.6,62.6 0 0 1 998.50,405.49 Z" fill="#f8d47c"/>
<path d="M998.50,405.49 L1002.36,408.00 A67.2,67.2 0 0 0 1005.88,401.91 L1001.78,399.82 A62.6,62.6 0 0 1 998.50,405.49 Z" fill="#b88b26"/>
<path d="M994.65,410.80 L1071.12,472.72 A161.0,161.0 0 0 0 1081.03,459.09 L998.50,405.49 A62.6,62.6 0 0 1 994.65,410.80 Z" fill="#f8d47c"/>
<path d="M994.65,410.80 L1000.56,415.58 A70.2,70.2 0 0 0 1004.87,409.63 L998.50,405.49 A62.6,62.6 0 0 1 994.65,410.80 Z" fill="#b58924"/>
<path d="M990.26,415.66 L1059.84,485.24 A161.0,161.0 0 0 0 1071.12,472.72 L994.65,410.80 A62.6,62.6 0 0 1 990.26,415.66 Z" fill="#f8d47c"/>
<path d="M990.26,415.66 L998.18,423.58 A73.8,73.8 0 0 0 1003.35,417.84 L994.65,410.80 A62.6,62.6 0 0 1 990.26,415.66 Z" fill="#b28623"/>
<path d="M985.40,420.05 L1047.32,496.52 A161.0,161.0 0 0 0 1059.84,485.24 L990.26,415.66 A62.6,62.6 0 0 1 985.40,420.05 Z" fill="#f8d47c"/>
<path d="M985.40,420.05 L994.77,431.63 A77.5,77.5 0 0 0 1000.80,426.20 L990.26,415.66 A62.6,62.6 0 0 1 985.40,420.05 Z" fill="#ae8422"/>
<path d="M980.09,423.90 L1033.69,506.43 A161.0,161.0 0 0 0 1047.32,496.52 L985.40,420.05 A62.6,62.6 0 0 1 980.09,423.90 Z" fill="#f8d47c"/>
<path d="M980.09,423.90 L990.88,440.51 A82.4,82.4 0 0 0 997.86,435.44 L985.40,420.05 A62.6,62.6 0 0 1 980.09,423.90 Z" fill="#ab8121"/>
<path d="M974.42,427.18 L1019.09,514.85 A161.0,161.0 0 0 0 1033.69,506.43 L980.09,423.90 A62.6,62.6 0 0 1 974.42,427.18 Z" fill="#f8d47c"/>
<path d="M974.42,427.18 L986.31,450.52 A88.8,88.8 0 0 0 994.36,445.87 L980.09,423.90 A62.6,62.6 0 0 1 974.42,427.18 Z" fill="#a77e20"/>
<path d="M968.43,429.84 L1003.70,521.71 A161.0,161.0 0 0 0 1019.09,514.85 L974.42,427.18 A62.6,62.6 0 0 1 968.43,429.84 Z" fill="#f8d47c"/>
<path d="M968.43,429.84 L980.04,460.09 A95.0,95.0 0 0 0 989.13,456.05 L974.42,427.18 A62.6,62.6 0 0 1 968.43,429.84 Z" fill="#a47c1f"/>
<path d="M962.20,431.87 L987.67,526.91 A161.0,161.0 0 0 0 1003.70,521.71 L968.43,429.84 A62.6,62.6 0 0 1 962.20,431.87 Z" fill="#f8d47c"/>
<path d="M962.20,431.87 L972.27,469.44 A101.5,101.5 0 0 0 982.37,466.16 L968.43,429.84 A62.6,62.6 0 0 1 962.20,431.87 Z" fill="#a1791e"/>
<path d="M955.79,433.23 L971.19,530.42 A161.0,161.0 0 0 0 987.67,526.91 L962.20,431.87 A62.6,62.6 0 0 1 955.79,433.23 Z" fill="#f8d47c"/>
<path d="M955.79,433.23 L962.91,478.17 A108.1,108.1 0 0 0 973.98,475.82 L962.20,431.87 A62.6,62.6 0 0 1 955.79,433.23 Z" fill="#9d761d"/>
<path d="M949.28,433.91 L954.43,532.18 A161.0,161.0 0 0 0 971.19,530.42 L955.79,433.23 A62.6,62.6 0 0 1 949.28,433.91 Z" fill="#f8d47c"/>
<path d="M949.28,433.91 L952.04,486.64 A115.4,115.4 0 0 0 964.05,485.38 L955.79,433.23 A62.6,62.6 0 0 1 949.28,433.91 Z" fill="#9a741c"/>
<path d="M942.72,433.91 L937.57,532.18 A161.0,161.0 0 0 0 954.43,532.18 L949.28,433.91 A62.6,62.6 0 0 1 942.72,433.91 Z" fill="#f8d47c"/>
<path d="M942.72,433.91 L939.60,493.43 A122.2,122.2 0 0 0 952.40,493.43 L949.28,433.91 A62.6,62.6 0 0 1 942.72,433.91 Z" fill="#96711a"/>
<path d="M936.21,433.23 L920.81,530.42 A161.0,161.0 0 0 0 937.57,532.18 L942.72,433.91 A62.6,62.6 0 0 1 936.21,433.23 Z" fill="#f8d47c"/>
<path d="M936.21,433.23 L925.65,499.90 A130.1,130.1 0 0 0 939.19,501.32 L942.72,433.91 A62.6,62.6 0 0 1 936.21,433.23 Z" fill="#936f19"/>
<path d="M929.80,431.87 L904.33,526.91 A161.0,161.0 0 0 0 920.81,530.42 L936.21,433.23 A62.6,62.6 0 0 1 929.80,431.87 Z" fill="#f8d47c"/>
<path d="M929.80,431.87 L910.72,503.06 A136.3,136.3 0 0 0 924.68,506.02 L936.21,433.23 A62.6,62.6 0 0 1 929.80,431.87 Z" fill="#8f6c18"/>
<path d="M923.57,429.84 L888.30,521.71 A161.0,161.0 0 0 0 904.33,526.91 L929.80,431.87 A62.6,62.6 0 0 1 923.57,429.84 Z" fill="#f8d47c"/>
<path d="M923.57,429.84 L894.79,504.81 A142.9,142.9 0 0 0 909.01,509.43 L929.80,431.87 A62.6,62.6 0 0 1 923.57,429.84 Z" fill="#8c6917"/>
<path d="M917.58,427.18 L872.91,514.85 A161.0,161.0 0 0 0 888.30,521.71 L923.57,429.84 A62.6,62.6 0 0 1 917.58,427.18 Z" fill="#f8d47c"/>
<path d="M917.58,427.18 L878.63,503.63 A148.4,148.4 0 0 0 892.82,509.94 L923.57,429.84 A62.6,62.6 0 0 1 917.58,427.18 Z" fill="#896716"/>
<path d="M911.91,423.90 L858.31,506.43 A161.0,161.0 0 0 0 872.91,514.85 L917.58,427.18 A62.6,62.6 0 0 1 911.91,423.90 Z" fill="#f8d47c"/>
<path d="M911.91,423.90 L862.07,500.64 A154.1,154.1 0 0 0 876.04,508.70 L917.58,427.18 A62.6,62.6 0 0 1 911.91,423.90 Z" fill="#856415"/>
<path d="M906.60,420.05 L844.68,496.52 A161.0,161.0 0 0 0 858.31,506.43 L911.91,423.90 A62.6,62.6 0 0 1 906.60,420.05 Z" fill="#f8d47c"/>
<path d="M906.60,420.05 L847.07,493.57 A157.2,157.2 0 0 0 860.38,503.24 L911.91,423.90 A62.6,62.6 0 0 1 906.60,420.05 Z" fill="#826114"/>
<path d="M901.74,415.66 L832.16,485.24 A161.0,161.0 0 0 0 844.68,496.52 L906.60,420.05 A62.6,62.6 0 0 1 901.74,415.66 Z" fill="#f8d47c"/>
<path d="M901.74,415.66 L832.16,485.24 A161.0,161.0 0 0 0 844.68,496.52 L906.60,420.05 A62.6,62.6 0 0 1 901.74,415.66 Z" fill="#7e5f13"/>
<path d="M897.35,410.80 L820.88,472.72 A161.0,161.0 0 0 0 832.16,485.24 L901.74,415.66 A62.6,62.6 0 0 1 897.35,410.80 Z" fill="#f8d47c"/>
<path d="M897.35,410.80 L820.88,472.72 A161.0,161.0 0 0 0 832.16,485.24 L901.74,415.66 A62.6,62.6 0 0 1 897.35,410.80 Z" fill="#7b5c12"/>
<path d="M893.50,405.49 L810.97,459.09 A161.0,161.0 0 0 0 820.88,472.72 L897.35,410.80 A62.6,62.6 0 0 1 893.50,405.49 Z" fill="#f8d47c"/>
<path d="M893.50,405.49 L810.97,459.09 A161.0,161.0 0 0 0 820.88,472.72 L897.35,410.80 A62.6,62.6 0 0 1 893.50,405.49 Z" fill="#785a10"/>
<path d="M890.22,399.82 L802.55,444.49 A161.0,161.0 0 0 0 810.97,459.09 L893.50,405.49 A62.6,62.6 0 0 1 890.22,399.82 Z" fill="#f8d47c"/>
<path d="M890.22,399.82 L802.55,444.49 A161.0,161.0 0 0 0 810.97,459.09 L893.50,405.49 A62.6,62.6 0 0 1 890.22,399.82 Z" fill="#74570f"/>
<path d="M887.56,393.83 L795.69,429.10 A161.0,161.0 0 0 0 802.55,444.49 L890.22,399.82 A62.6,62.6 0 0 1 887.56,393.83 Z" fill="#f8d47c"/>
<path d="M887.56,393.83 L795.69,429.10 A161.0,161.0 0 0 0 802.55,444.49 L890.22,399.82 A62.6,62.6 0 0 1 887.56,393.83 Z" fill="#73560f"/>
<path d="M885.53,387.60 L790.49,413.07 A161.0,161.0 0 0 0 795.69,429.10 L887.56,393.83 A62.6,62.6 0 0 1 885.53,387.60 Z" fill="#f8d47c"/>
<path d="M885.53,387.60 L790.49,413.07 A161.0,161.0 0 0 0 795.69,429.10 L887.56,393.83 A62.6,62.6 0 0 1 885.53,387.60 Z" fill="#73560f"/>
<path d="M884.17,381.19 L786.98,396.59 A161.0,161.0 0 0 0 790.49,413.07 L885.53,387.60 A62.6,62.6 0 0 1 884.17,381.19 Z" fill="#f8d47c"/>
<path d="M884.17,381.19 L786.98,396.59 A161.0,161.0 0 0 0 790.49,413.07 L885.53,387.60 A62.6,62.6 0 0 1 884.17,381.19 Z" fill="#73560f"/>
<path d="M883.49,374.68 L785.22,379.83 A161.0,161.0 0 0 0 786.98,396.59 L884.17,381.19 A62.6,62.6 0 0 1 883.49,374.68 Z" fill="#f8d47c"/>
<path d="M883.49,374.68 L785.22,379.83 A161.0,161.0 0 0 0 786.98,396.59 L884.17,381.19 A62.6,62.6 0 0 1 883.49,374.68 Z" fill="#73560f"/>
<path d="M883.49,368.12 L785.22,362.97 M1008.51,374.68 L1106.78,379.83 M884.17,361.61 L786.98,346.21 M1007.83,381.19 L1105.02,396.59 M885.53,355.20 L790.49,329.73 M1006.47,387.60 L1101.51,413.07 M887.56,348.97 L795.69,313.70 M1004.44,393.83 L1096.31,429.10 M890.22,342.98 L802.55,298.31 M1001.78,399.82 L1089.45,444.49 M893.50,337.31 L810.97,283.71 M998.50,405.49 L1081.03,459.09 M897.35,332.00 L820.88,270.08 M994.65,410.80 L1071.12,472.72 M901.74,327.14 L832.16,257.56 M990.26,415.66 L1059.84,485.24 M906.60,322.75 L844.68,246.28 M985.40,420.05 L1047.32,496.52 M911.91,318.90 L858.31,236.37 M980.09,423.90 L1033.69,506.43 M917.58,315.62 L872.91,227.95 M974.42,427.18 L1019.09,514.85 M923.57,312.96 L888.30,221.09 M968.43,429.84 L1003.70,521.71 M929.80,310.93 L904.33,215.89 M962.20,431.87 L987.67,526.91 M936.21,309.57 L920.81,212.38 M955.79,433.23 L971.19,530.42 M942.72,308.89 L937.57,210.62 M949.28,433.91 L954.43,532.18 M949.28,308.89 L954.43,210.62 M942.72,433.91 L937.57,532.18 M955.79,309.57 L971.19,212.38 M936.21,433.23 L920.81,530.42 M962.20,310.93 L987.67,215.89 M929.80,431.87 L904.33,526.91 M968.43,312.96 L1003.70,221.09 M923.57,429.84 L888.30,521.71 M974.42,315.62 L1019.09,227.95 M917.58,427.18 L872.91,514.85 M980.09,318.90 L1033.69,236.37 M911.91,423.90 L858.31,506.43 M985.40,322.75 L1047.32,246.28 M906.60,420.05 L844.68,496.52 M990.26,327.14 L1059.84,257.56 M901.74,415.66 L832.16,485.24 M994.65,332.00 L1071.12,270.08 M897.35,410.80 L820.88,472.72 M998.50,337.31 L1081.03,283.71 M893.50,405.49 L810.97,459.09 M1001.78,342.98 L1089.45,298.31 M890.22,399.82 L802.55,444.49 M1004.44,348.97 L1096.31,313.70 M887.56,393.83 L795.69,429.10 M1006.47,355.20 L1101.51,329.73 M885.53,387.60 L790.49,413.07 M1007.83,361.61 L1105.02,346.21 M884.17,381.19 L786.98,396.59 M1008.51,368.12 L1106.78,362.97 M883.49,374.68 L785.22,379.83 " stroke="#0c0600" stroke-width="1.35" fill="none"/>
<path d="M883.49,368.12 L785.22,362.97 A161.0,161.0 0 0 1 1106.78,362.97 L1008.51,368.12 A62.6,62.6 0 0 0 883.49,368.12 Z" fill="none" stroke="#0c0600" stroke-width="2"/>
<path d="M1008.51,374.68 L1106.78,379.83 A161.0,161.0 0 0 1 785.22,379.83 L883.49,374.68 A62.6,62.6 0 0 0 1008.51,374.68 Z" fill="none" stroke="#0c0600" stroke-width="2"/>
<circle cx="946.0" cy="371.4" r="61.8" fill="#c9c9c9"/>
<circle cx="946.0" cy="371.4" r="47.9" fill="url(#glow)" stroke="#0c0600" stroke-width="2.2"/>
<g transform="translate(845.0 318.5) rotate(22)"><ellipse cx="0" cy="0" rx="13" ry="5" fill="#66cc33" stroke="#145a0a" stroke-width="1.2"/><ellipse cx="-1" cy="-1" rx="4.5" ry="5.2" fill="#66cc33" stroke="#145a0a" stroke-width="1.2"/></g>
<g transform="translate(1044.0 397.0) rotate(12)"><ellipse cx="0" cy="0" rx="13" ry="5" fill="#66cc33" stroke="#145a0a" stroke-width="1.2"/><ellipse cx="-1" cy="-1" rx="4.5" ry="5.2" fill="#66cc33" stroke="#145a0a" stroke-width="1.2"/></g>
</svg>
</body></html>
